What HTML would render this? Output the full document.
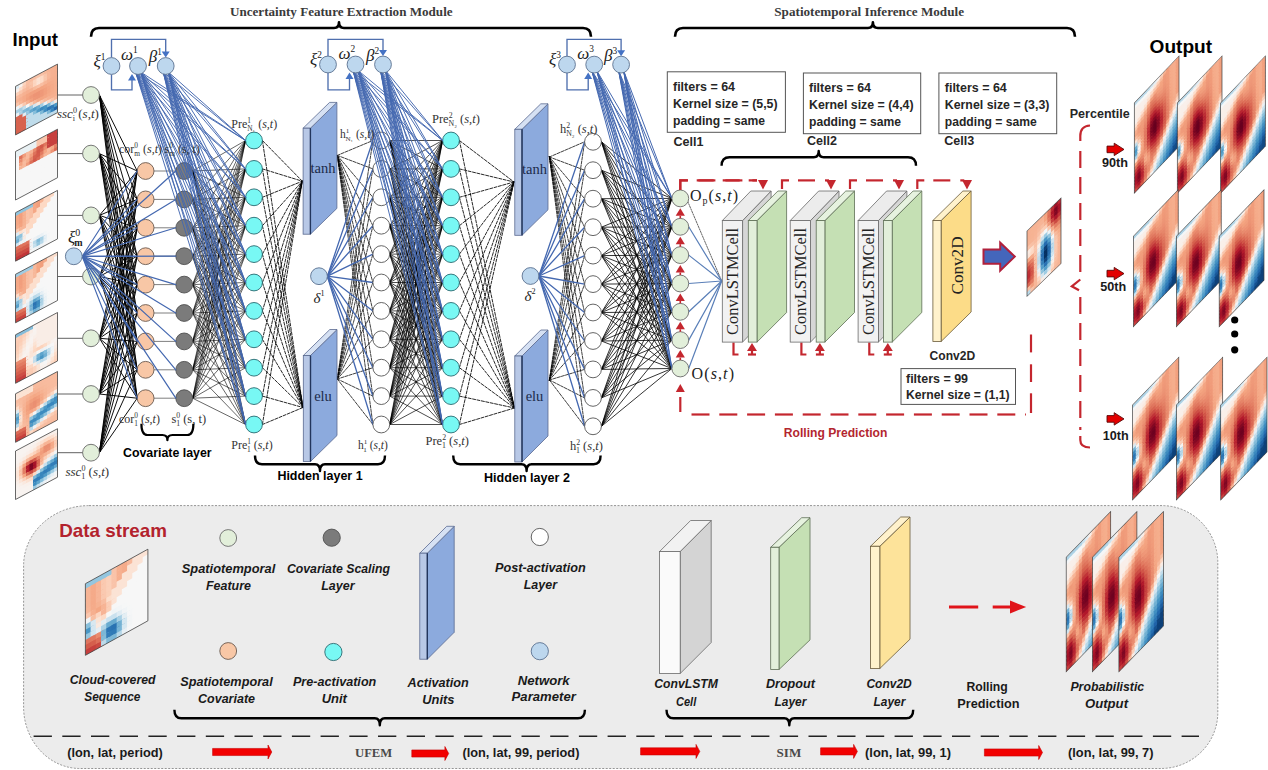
<!DOCTYPE html><html><head><meta charset="utf-8"><style>html,body{margin:0;padding:0;background:#fff;}svg{display:block;}</style></head><body>
<svg width="1268" height="770" viewBox="0 0 1268 770">
<defs>
<symbol id="hout" viewBox="0 0 14 28" preserveAspectRatio="none">
<rect x="0" y="0" width="1.6" height="1.6" fill="#bcdaea"/>
<rect x="1" y="0" width="1.6" height="1.6" fill="#bddbea"/>
<rect x="2" y="0" width="1.6" height="1.6" fill="#bbdaea"/>
<rect x="3" y="0" width="1.6" height="1.6" fill="#bbdaea"/>
<rect x="4" y="0" width="1.6" height="1.6" fill="#c3deec"/>
<rect x="5" y="0" width="1.6" height="1.6" fill="#d6e7f1"/>
<rect x="6" y="0" width="1.6" height="1.6" fill="#e5eef4"/>
<rect x="7" y="0" width="1.6" height="1.6" fill="#f8f2ef"/>
<rect x="8" y="0" width="1.6" height="1.6" fill="#fbd1ba"/>
<rect x="9" y="0" width="1.6" height="1.6" fill="#f6b191"/>
<rect x="10" y="0" width="1.6" height="1.6" fill="#f19e7c"/>
<rect x="11" y="0" width="1.6" height="1.6" fill="#f5ac8b"/>
<rect x="12" y="0" width="1.6" height="1.6" fill="#f6ae8e"/>
<rect x="13" y="0" width="1.6" height="1.6" fill="#f2a07e"/>
<rect x="0" y="1" width="1.6" height="1.6" fill="#f7f7f7"/>
<rect x="1" y="1" width="1.6" height="1.6" fill="#f7f7f7"/>
<rect x="2" y="1" width="1.6" height="1.6" fill="#f6f7f7"/>
<rect x="3" y="1" width="1.6" height="1.6" fill="#f6f7f7"/>
<rect x="4" y="1" width="1.6" height="1.6" fill="#f7f5f3"/>
<rect x="5" y="1" width="1.6" height="1.6" fill="#f8f1ed"/>
<rect x="6" y="1" width="1.6" height="1.6" fill="#fbe6da"/>
<rect x="7" y="1" width="1.6" height="1.6" fill="#fbd2bb"/>
<rect x="8" y="1" width="1.6" height="1.6" fill="#f7b99b"/>
<rect x="9" y="1" width="1.6" height="1.6" fill="#ef9a7a"/>
<rect x="10" y="1" width="1.6" height="1.6" fill="#f19d7c"/>
<rect x="11" y="1" width="1.6" height="1.6" fill="#f5ac8b"/>
<rect x="12" y="1" width="1.6" height="1.6" fill="#f6ae8e"/>
<rect x="13" y="1" width="1.6" height="1.6" fill="#f2a07e"/>
<rect x="0" y="2" width="1.6" height="1.6" fill="#f9f0ea"/>
<rect x="1" y="2" width="1.6" height="1.6" fill="#f9efea"/>
<rect x="2" y="2" width="1.6" height="1.6" fill="#f9f0eb"/>
<rect x="3" y="2" width="1.6" height="1.6" fill="#f9efe9"/>
<rect x="4" y="2" width="1.6" height="1.6" fill="#f9ece4"/>
<rect x="5" y="2" width="1.6" height="1.6" fill="#fcddcb"/>
<rect x="6" y="2" width="1.6" height="1.6" fill="#fac6ad"/>
<rect x="7" y="2" width="1.6" height="1.6" fill="#f7b99b"/>
<rect x="8" y="2" width="1.6" height="1.6" fill="#f4a582"/>
<rect x="9" y="2" width="1.6" height="1.6" fill="#ef9979"/>
<rect x="10" y="2" width="1.6" height="1.6" fill="#f09d7c"/>
<rect x="11" y="2" width="1.6" height="1.6" fill="#f5ac8b"/>
<rect x="12" y="2" width="1.6" height="1.6" fill="#f5ae8d"/>
<rect x="13" y="2" width="1.6" height="1.6" fill="#f2a07e"/>
<rect x="0" y="3" width="1.6" height="1.6" fill="#f9f0ea"/>
<rect x="1" y="3" width="1.6" height="1.6" fill="#f9efe9"/>
<rect x="2" y="3" width="1.6" height="1.6" fill="#f9efea"/>
<rect x="3" y="3" width="1.6" height="1.6" fill="#f9ede7"/>
<rect x="4" y="3" width="1.6" height="1.6" fill="#fcdecc"/>
<rect x="5" y="3" width="1.6" height="1.6" fill="#f8bea1"/>
<rect x="6" y="3" width="1.6" height="1.6" fill="#f5a987"/>
<rect x="7" y="3" width="1.6" height="1.6" fill="#f4a481"/>
<rect x="8" y="3" width="1.6" height="1.6" fill="#f3a27f"/>
<rect x="9" y="3" width="1.6" height="1.6" fill="#ee9778"/>
<rect x="10" y="3" width="1.6" height="1.6" fill="#f09c7b"/>
<rect x="11" y="3" width="1.6" height="1.6" fill="#f5ac8a"/>
<rect x="12" y="3" width="1.6" height="1.6" fill="#f5ae8d"/>
<rect x="13" y="3" width="1.6" height="1.6" fill="#f2a07e"/>
<rect x="0" y="4" width="1.6" height="1.6" fill="#f9f0ea"/>
<rect x="1" y="4" width="1.6" height="1.6" fill="#f9efe9"/>
<rect x="2" y="4" width="1.6" height="1.6" fill="#f9eee8"/>
<rect x="3" y="4" width="1.6" height="1.6" fill="#fce1d1"/>
<rect x="4" y="4" width="1.6" height="1.6" fill="#f9c0a5"/>
<rect x="5" y="4" width="1.6" height="1.6" fill="#f09b7a"/>
<rect x="6" y="4" width="1.6" height="1.6" fill="#ea8f71"/>
<rect x="7" y="4" width="1.6" height="1.6" fill="#f09d7c"/>
<rect x="8" y="4" width="1.6" height="1.6" fill="#f09d7c"/>
<rect x="9" y="4" width="1.6" height="1.6" fill="#ed9576"/>
<rect x="10" y="4" width="1.6" height="1.6" fill="#f09b7a"/>
<rect x="11" y="4" width="1.6" height="1.6" fill="#f5ab8a"/>
<rect x="12" y="4" width="1.6" height="1.6" fill="#f5ae8d"/>
<rect x="13" y="4" width="1.6" height="1.6" fill="#f2a07e"/>
<rect x="0" y="5" width="1.6" height="1.6" fill="#f9efea"/>
<rect x="1" y="5" width="1.6" height="1.6" fill="#f9eee8"/>
<rect x="2" y="5" width="1.6" height="1.6" fill="#fce1d2"/>
<rect x="3" y="5" width="1.6" height="1.6" fill="#fac8af"/>
<rect x="4" y="5" width="1.6" height="1.6" fill="#f2a17f"/>
<rect x="5" y="5" width="1.6" height="1.6" fill="#e37e64"/>
<rect x="6" y="5" width="1.6" height="1.6" fill="#e58368"/>
<rect x="7" y="5" width="1.6" height="1.6" fill="#ec9274"/>
<rect x="8" y="5" width="1.6" height="1.6" fill="#ed9576"/>
<rect x="9" y="5" width="1.6" height="1.6" fill="#eb9173"/>
<rect x="10" y="5" width="1.6" height="1.6" fill="#ef9979"/>
<rect x="11" y="5" width="1.6" height="1.6" fill="#f5ab89"/>
<rect x="12" y="5" width="1.6" height="1.6" fill="#f5ae8d"/>
<rect x="13" y="5" width="1.6" height="1.6" fill="#f2a07e"/>
<rect x="0" y="6" width="1.6" height="1.6" fill="#f9efea"/>
<rect x="1" y="6" width="1.6" height="1.6" fill="#fcdfce"/>
<rect x="2" y="6" width="1.6" height="1.6" fill="#fac8af"/>
<rect x="3" y="6" width="1.6" height="1.6" fill="#f6af8e"/>
<rect x="4" y="6" width="1.6" height="1.6" fill="#e7886b"/>
<rect x="5" y="6" width="1.6" height="1.6" fill="#dd7059"/>
<rect x="6" y="6" width="1.6" height="1.6" fill="#de735b"/>
<rect x="7" y="6" width="1.6" height="1.6" fill="#e68468"/>
<rect x="8" y="6" width="1.6" height="1.6" fill="#e98b6e"/>
<rect x="9" y="6" width="1.6" height="1.6" fill="#e98c6e"/>
<rect x="10" y="6" width="1.6" height="1.6" fill="#ee9777"/>
<rect x="11" y="6" width="1.6" height="1.6" fill="#f5aa88"/>
<rect x="12" y="6" width="1.6" height="1.6" fill="#f5ae8d"/>
<rect x="13" y="6" width="1.6" height="1.6" fill="#f2a07e"/>
<rect x="0" y="7" width="1.6" height="1.6" fill="#fce0d0"/>
<rect x="1" y="7" width="1.6" height="1.6" fill="#f9c4a9"/>
<rect x="2" y="7" width="1.6" height="1.6" fill="#f6af8f"/>
<rect x="3" y="7" width="1.6" height="1.6" fill="#f09b7b"/>
<rect x="4" y="7" width="1.6" height="1.6" fill="#e27c62"/>
<rect x="5" y="7" width="1.6" height="1.6" fill="#d55e4c"/>
<rect x="6" y="7" width="1.6" height="1.6" fill="#d55e4c"/>
<rect x="7" y="7" width="1.6" height="1.6" fill="#de715a"/>
<rect x="8" y="7" width="1.6" height="1.6" fill="#e37f65"/>
<rect x="9" y="7" width="1.6" height="1.6" fill="#e68569"/>
<rect x="10" y="7" width="1.6" height="1.6" fill="#ed9475"/>
<rect x="11" y="7" width="1.6" height="1.6" fill="#f5a987"/>
<rect x="12" y="7" width="1.6" height="1.6" fill="#f5ad8d"/>
<rect x="13" y="7" width="1.6" height="1.6" fill="#f2a07e"/>
<rect x="0" y="8" width="1.6" height="1.6" fill="#fac6ac"/>
<rect x="1" y="8" width="1.6" height="1.6" fill="#f5a886"/>
<rect x="2" y="8" width="1.6" height="1.6" fill="#f19f7d"/>
<rect x="3" y="8" width="1.6" height="1.6" fill="#ed9475"/>
<rect x="4" y="8" width="1.6" height="1.6" fill="#dc6e58"/>
<rect x="5" y="8" width="1.6" height="1.6" fill="#c94741"/>
<rect x="6" y="8" width="1.6" height="1.6" fill="#c7433f"/>
<rect x="7" y="8" width="1.6" height="1.6" fill="#d45b4b"/>
<rect x="8" y="8" width="1.6" height="1.6" fill="#dd7059"/>
<rect x="9" y="8" width="1.6" height="1.6" fill="#e37d63"/>
<rect x="10" y="8" width="1.6" height="1.6" fill="#eb9173"/>
<rect x="11" y="8" width="1.6" height="1.6" fill="#f5a886"/>
<rect x="12" y="8" width="1.6" height="1.6" fill="#f5ad8c"/>
<rect x="13" y="8" width="1.6" height="1.6" fill="#f2a07e"/>
<rect x="0" y="9" width="1.6" height="1.6" fill="#f6ae8e"/>
<rect x="1" y="9" width="1.6" height="1.6" fill="#ef9979"/>
<rect x="2" y="9" width="1.6" height="1.6" fill="#f09c7b"/>
<rect x="3" y="9" width="1.6" height="1.6" fill="#e98d6f"/>
<rect x="4" y="9" width="1.6" height="1.6" fill="#d55f4d"/>
<rect x="5" y="9" width="1.6" height="1.6" fill="#bc2d35"/>
<rect x="6" y="9" width="1.6" height="1.6" fill="#b82531"/>
<rect x="7" y="9" width="1.6" height="1.6" fill="#c6403e"/>
<rect x="8" y="9" width="1.6" height="1.6" fill="#d65f4d"/>
<rect x="9" y="9" width="1.6" height="1.6" fill="#df745c"/>
<rect x="10" y="9" width="1.6" height="1.6" fill="#ea8e70"/>
<rect x="11" y="9" width="1.6" height="1.6" fill="#f4a785"/>
<rect x="12" y="9" width="1.6" height="1.6" fill="#f5ad8c"/>
<rect x="13" y="9" width="1.6" height="1.6" fill="#f2a07e"/>
<rect x="0" y="10" width="1.6" height="1.6" fill="#f4a785"/>
<rect x="1" y="10" width="1.6" height="1.6" fill="#f09b7b"/>
<rect x="2" y="10" width="1.6" height="1.6" fill="#ef9a79"/>
<rect x="3" y="10" width="1.6" height="1.6" fill="#e68569"/>
<rect x="4" y="10" width="1.6" height="1.6" fill="#cd4e44"/>
<rect x="5" y="10" width="1.6" height="1.6" fill="#ad162a"/>
<rect x="6" y="10" width="1.6" height="1.6" fill="#9f1228"/>
<rect x="7" y="10" width="1.6" height="1.6" fill="#b92631"/>
<rect x="8" y="10" width="1.6" height="1.6" fill="#cc4d44"/>
<rect x="9" y="10" width="1.6" height="1.6" fill="#db6b56"/>
<rect x="10" y="10" width="1.6" height="1.6" fill="#e88a6d"/>
<rect x="11" y="10" width="1.6" height="1.6" fill="#f4a683"/>
<rect x="12" y="10" width="1.6" height="1.6" fill="#f5ad8c"/>
<rect x="13" y="10" width="1.6" height="1.6" fill="#f2a17f"/>
<rect x="0" y="11" width="1.6" height="1.6" fill="#f8bb9e"/>
<rect x="1" y="11" width="1.6" height="1.6" fill="#f3a481"/>
<rect x="2" y="11" width="1.6" height="1.6" fill="#ef9979"/>
<rect x="3" y="11" width="1.6" height="1.6" fill="#e37e64"/>
<rect x="4" y="11" width="1.6" height="1.6" fill="#c53f3d"/>
<rect x="5" y="11" width="1.6" height="1.6" fill="#940e26"/>
<rect x="6" y="11" width="1.6" height="1.6" fill="#820923"/>
<rect x="7" y="11" width="1.6" height="1.6" fill="#a71429"/>
<rect x="8" y="11" width="1.6" height="1.6" fill="#c43c3c"/>
<rect x="9" y="11" width="1.6" height="1.6" fill="#d86450"/>
<rect x="10" y="11" width="1.6" height="1.6" fill="#e7876b"/>
<rect x="11" y="11" width="1.6" height="1.6" fill="#f4a582"/>
<rect x="12" y="11" width="1.6" height="1.6" fill="#f5ac8b"/>
<rect x="13" y="11" width="1.6" height="1.6" fill="#f7b99b"/>
<rect x="0" y="12" width="1.6" height="1.6" fill="#fbe3d4"/>
<rect x="1" y="12" width="1.6" height="1.6" fill="#f7b596"/>
<rect x="2" y="12" width="1.6" height="1.6" fill="#ef9b7a"/>
<rect x="3" y="12" width="1.6" height="1.6" fill="#e17961"/>
<rect x="4" y="12" width="1.6" height="1.6" fill="#c03338"/>
<rect x="5" y="12" width="1.6" height="1.6" fill="#810823"/>
<rect x="6" y="12" width="1.6" height="1.6" fill="#6c0220"/>
<rect x="7" y="12" width="1.6" height="1.6" fill="#930e26"/>
<rect x="8" y="12" width="1.6" height="1.6" fill="#be3036"/>
<rect x="9" y="12" width="1.6" height="1.6" fill="#d55d4c"/>
<rect x="10" y="12" width="1.6" height="1.6" fill="#e68469"/>
<rect x="11" y="12" width="1.6" height="1.6" fill="#f4a481"/>
<rect x="12" y="12" width="1.6" height="1.6" fill="#f6b495"/>
<rect x="13" y="12" width="1.6" height="1.6" fill="#fbd0b9"/>
<rect x="0" y="13" width="1.6" height="1.6" fill="#bfdceb"/>
<rect x="1" y="13" width="1.6" height="1.6" fill="#fbcfb7"/>
<rect x="2" y="13" width="1.6" height="1.6" fill="#f19f7d"/>
<rect x="3" y="13" width="1.6" height="1.6" fill="#e0775f"/>
<rect x="4" y="13" width="1.6" height="1.6" fill="#bc2d35"/>
<rect x="5" y="13" width="1.6" height="1.6" fill="#760521"/>
<rect x="6" y="13" width="1.6" height="1.6" fill="#67001f"/>
<rect x="7" y="13" width="1.6" height="1.6" fill="#880b24"/>
<rect x="8" y="13" width="1.6" height="1.6" fill="#ba2933"/>
<rect x="9" y="13" width="1.6" height="1.6" fill="#d35a4a"/>
<rect x="10" y="13" width="1.6" height="1.6" fill="#e58368"/>
<rect x="11" y="13" width="1.6" height="1.6" fill="#f3a481"/>
<rect x="12" y="13" width="1.6" height="1.6" fill="#fac8af"/>
<rect x="13" y="13" width="1.6" height="1.6" fill="#fae8de"/>
<rect x="0" y="14" width="1.6" height="1.6" fill="#6fafd2"/>
<rect x="1" y="14" width="1.6" height="1.6" fill="#fae9e0"/>
<rect x="2" y="14" width="1.6" height="1.6" fill="#f3a481"/>
<rect x="3" y="14" width="1.6" height="1.6" fill="#e0775f"/>
<rect x="4" y="14" width="1.6" height="1.6" fill="#bc2d35"/>
<rect x="5" y="14" width="1.6" height="1.6" fill="#760521"/>
<rect x="6" y="14" width="1.6" height="1.6" fill="#67001f"/>
<rect x="7" y="14" width="1.6" height="1.6" fill="#880b24"/>
<rect x="8" y="14" width="1.6" height="1.6" fill="#ba2933"/>
<rect x="9" y="14" width="1.6" height="1.6" fill="#d35a4a"/>
<rect x="10" y="14" width="1.6" height="1.6" fill="#e58368"/>
<rect x="11" y="14" width="1.6" height="1.6" fill="#f6b495"/>
<rect x="12" y="14" width="1.6" height="1.6" fill="#fddcc9"/>
<rect x="13" y="14" width="1.6" height="1.6" fill="#ebf1f5"/>
<rect x="0" y="15" width="1.6" height="1.6" fill="#4c99c6"/>
<rect x="1" y="15" width="1.6" height="1.6" fill="#f7f7f6"/>
<rect x="2" y="15" width="1.6" height="1.6" fill="#f4a784"/>
<rect x="3" y="15" width="1.6" height="1.6" fill="#e17a61"/>
<rect x="4" y="15" width="1.6" height="1.6" fill="#bf3338"/>
<rect x="5" y="15" width="1.6" height="1.6" fill="#810823"/>
<rect x="6" y="15" width="1.6" height="1.6" fill="#6c0220"/>
<rect x="7" y="15" width="1.6" height="1.6" fill="#930e26"/>
<rect x="8" y="15" width="1.6" height="1.6" fill="#be3036"/>
<rect x="9" y="15" width="1.6" height="1.6" fill="#d55d4c"/>
<rect x="10" y="15" width="1.6" height="1.6" fill="#e6866a"/>
<rect x="11" y="15" width="1.6" height="1.6" fill="#facbb2"/>
<rect x="12" y="15" width="1.6" height="1.6" fill="#f8f1ed"/>
<rect x="13" y="15" width="1.6" height="1.6" fill="#cce3ef"/>
<rect x="0" y="16" width="1.6" height="1.6" fill="#61a6cd"/>
<rect x="1" y="16" width="1.6" height="1.6" fill="#f9ece5"/>
<rect x="2" y="16" width="1.6" height="1.6" fill="#f4a582"/>
<rect x="3" y="16" width="1.6" height="1.6" fill="#e37e64"/>
<rect x="4" y="16" width="1.6" height="1.6" fill="#c53e3d"/>
<rect x="5" y="16" width="1.6" height="1.6" fill="#930e26"/>
<rect x="6" y="16" width="1.6" height="1.6" fill="#820923"/>
<rect x="7" y="16" width="1.6" height="1.6" fill="#a71429"/>
<rect x="8" y="16" width="1.6" height="1.6" fill="#c43c3c"/>
<rect x="9" y="16" width="1.6" height="1.6" fill="#d86450"/>
<rect x="10" y="16" width="1.6" height="1.6" fill="#f4a785"/>
<rect x="11" y="16" width="1.6" height="1.6" fill="#fce1d2"/>
<rect x="12" y="16" width="1.6" height="1.6" fill="#e1edf3"/>
<rect x="13" y="16" width="1.6" height="1.6" fill="#abd2e5"/>
<rect x="0" y="17" width="1.6" height="1.6" fill="#add2e6"/>
<rect x="1" y="17" width="1.6" height="1.6" fill="#fbceb6"/>
<rect x="2" y="17" width="1.6" height="1.6" fill="#f19e7c"/>
<rect x="3" y="17" width="1.6" height="1.6" fill="#e68569"/>
<rect x="4" y="17" width="1.6" height="1.6" fill="#ce4f45"/>
<rect x="5" y="17" width="1.6" height="1.6" fill="#ad162a"/>
<rect x="6" y="17" width="1.6" height="1.6" fill="#9f1228"/>
<rect x="7" y="17" width="1.6" height="1.6" fill="#b92531"/>
<rect x="8" y="17" width="1.6" height="1.6" fill="#cc4d44"/>
<rect x="9" y="17" width="1.6" height="1.6" fill="#e17a61"/>
<rect x="10" y="17" width="1.6" height="1.6" fill="#fac7ad"/>
<rect x="11" y="17" width="1.6" height="1.6" fill="#f5f6f7"/>
<rect x="12" y="17" width="1.6" height="1.6" fill="#c1ddeb"/>
<rect x="13" y="17" width="1.6" height="1.6" fill="#8cc1dc"/>
<rect x="0" y="18" width="1.6" height="1.6" fill="#fce0d0"/>
<rect x="1" y="18" width="1.6" height="1.6" fill="#f4a683"/>
<rect x="2" y="18" width="1.6" height="1.6" fill="#ec9475"/>
<rect x="3" y="18" width="1.6" height="1.6" fill="#eb9072"/>
<rect x="4" y="18" width="1.6" height="1.6" fill="#d86551"/>
<rect x="5" y="18" width="1.6" height="1.6" fill="#bd2e35"/>
<rect x="6" y="18" width="1.6" height="1.6" fill="#b82431"/>
<rect x="7" y="18" width="1.6" height="1.6" fill="#c6403e"/>
<rect x="8" y="18" width="1.6" height="1.6" fill="#d65f4d"/>
<rect x="9" y="18" width="1.6" height="1.6" fill="#f4a683"/>
<rect x="10" y="18" width="1.6" height="1.6" fill="#fbe5d8"/>
<rect x="11" y="18" width="1.6" height="1.6" fill="#d7e8f1"/>
<rect x="12" y="18" width="1.6" height="1.6" fill="#a0cce2"/>
<rect x="13" y="18" width="1.6" height="1.6" fill="#73b1d3"/>
<rect x="0" y="19" width="1.6" height="1.6" fill="#f2a07e"/>
<rect x="1" y="19" width="1.6" height="1.6" fill="#e37d63"/>
<rect x="2" y="19" width="1.6" height="1.6" fill="#e7886c"/>
<rect x="3" y="19" width="1.6" height="1.6" fill="#f2a07e"/>
<rect x="4" y="19" width="1.6" height="1.6" fill="#e37e64"/>
<rect x="5" y="19" width="1.6" height="1.6" fill="#cb4942"/>
<rect x="6" y="19" width="1.6" height="1.6" fill="#c7423f"/>
<rect x="7" y="19" width="1.6" height="1.6" fill="#d45b4b"/>
<rect x="8" y="19" width="1.6" height="1.6" fill="#e88a6d"/>
<rect x="9" y="19" width="1.6" height="1.6" fill="#fbccb4"/>
<rect x="10" y="19" width="1.6" height="1.6" fill="#ebf1f5"/>
<rect x="11" y="19" width="1.6" height="1.6" fill="#b6d7e8"/>
<rect x="12" y="19" width="1.6" height="1.6" fill="#83bcd9"/>
<rect x="13" y="19" width="1.6" height="1.6" fill="#59a1cb"/>
<rect x="0" y="20" width="1.6" height="1.6" fill="#dc6e58"/>
<rect x="1" y="20" width="1.6" height="1.6" fill="#d15548"/>
<rect x="2" y="20" width="1.6" height="1.6" fill="#e07860"/>
<rect x="3" y="20" width="1.6" height="1.6" fill="#f5ac8c"/>
<rect x="4" y="20" width="1.6" height="1.6" fill="#ed9475"/>
<rect x="5" y="20" width="1.6" height="1.6" fill="#d7624f"/>
<rect x="6" y="20" width="1.6" height="1.6" fill="#d55e4c"/>
<rect x="7" y="20" width="1.6" height="1.6" fill="#de735c"/>
<rect x="8" y="20" width="1.6" height="1.6" fill="#f7b799"/>
<rect x="9" y="20" width="1.6" height="1.6" fill="#f9eee8"/>
<rect x="10" y="20" width="1.6" height="1.6" fill="#cce3ef"/>
<rect x="11" y="20" width="1.6" height="1.6" fill="#95c6df"/>
<rect x="12" y="20" width="1.6" height="1.6" fill="#6aacd0"/>
<rect x="13" y="20" width="1.6" height="1.6" fill="#4291c2"/>
<rect x="0" y="21" width="1.6" height="1.6" fill="#c84440"/>
<rect x="1" y="21" width="1.6" height="1.6" fill="#bc2c34"/>
<rect x="2" y="21" width="1.6" height="1.6" fill="#d7624f"/>
<rect x="3" y="21" width="1.6" height="1.6" fill="#f5ab89"/>
<rect x="4" y="21" width="1.6" height="1.6" fill="#f19f7e"/>
<rect x="5" y="21" width="1.6" height="1.6" fill="#de745c"/>
<rect x="6" y="21" width="1.6" height="1.6" fill="#de725b"/>
<rect x="7" y="21" width="1.6" height="1.6" fill="#f4a582"/>
<rect x="8" y="21" width="1.6" height="1.6" fill="#fddbc7"/>
<rect x="9" y="21" width="1.6" height="1.6" fill="#e1edf3"/>
<rect x="10" y="21" width="1.6" height="1.6" fill="#abd2e5"/>
<rect x="11" y="21" width="1.6" height="1.6" fill="#7bb6d6"/>
<rect x="12" y="21" width="1.6" height="1.6" fill="#519cc8"/>
<rect x="13" y="21" width="1.6" height="1.6" fill="#3783bb"/>
<rect x="0" y="22" width="1.6" height="1.6" fill="#b82330"/>
<rect x="1" y="22" width="1.6" height="1.6" fill="#a11228"/>
<rect x="2" y="22" width="1.6" height="1.6" fill="#c94540"/>
<rect x="3" y="22" width="1.6" height="1.6" fill="#ee9878"/>
<rect x="4" y="22" width="1.6" height="1.6" fill="#f09c7b"/>
<rect x="5" y="22" width="1.6" height="1.6" fill="#e37f65"/>
<rect x="6" y="22" width="1.6" height="1.6" fill="#ea8e71"/>
<rect x="7" y="22" width="1.6" height="1.6" fill="#facab2"/>
<rect x="8" y="22" width="1.6" height="1.6" fill="#f5f6f7"/>
<rect x="9" y="22" width="1.6" height="1.6" fill="#c1ddeb"/>
<rect x="10" y="22" width="1.6" height="1.6" fill="#8cc1dc"/>
<rect x="11" y="22" width="1.6" height="1.6" fill="#62a6ce"/>
<rect x="12" y="22" width="1.6" height="1.6" fill="#3e8dc0"/>
<rect x="13" y="22" width="1.6" height="1.6" fill="#2c75b4"/>
<rect x="0" y="23" width="1.6" height="1.6" fill="#a71429"/>
<rect x="1" y="23" width="1.6" height="1.6" fill="#860a24"/>
<rect x="2" y="23" width="1.6" height="1.6" fill="#bc2d35"/>
<rect x="3" y="23" width="1.6" height="1.6" fill="#e48066"/>
<rect x="4" y="23" width="1.6" height="1.6" fill="#ec9274"/>
<rect x="5" y="23" width="1.6" height="1.6" fill="#e7866a"/>
<rect x="6" y="23" width="1.6" height="1.6" fill="#f7b697"/>
<rect x="7" y="23" width="1.6" height="1.6" fill="#fae8dd"/>
<rect x="8" y="23" width="1.6" height="1.6" fill="#d7e8f1"/>
<rect x="9" y="23" width="1.6" height="1.6" fill="#a0cce2"/>
<rect x="10" y="23" width="1.6" height="1.6" fill="#73b1d3"/>
<rect x="11" y="23" width="1.6" height="1.6" fill="#4997c5"/>
<rect x="12" y="23" width="1.6" height="1.6" fill="#337eb8"/>
<rect x="13" y="23" width="1.6" height="1.6" fill="#2166ac"/>
<rect x="0" y="24" width="1.6" height="1.6" fill="#a01228"/>
<rect x="1" y="24" width="1.6" height="1.6" fill="#7e0723"/>
<rect x="2" y="24" width="1.6" height="1.6" fill="#b82430"/>
<rect x="3" y="24" width="1.6" height="1.6" fill="#de735c"/>
<rect x="4" y="24" width="1.6" height="1.6" fill="#e98c6f"/>
<rect x="5" y="24" width="1.6" height="1.6" fill="#f2a07e"/>
<rect x="6" y="24" width="1.6" height="1.6" fill="#fcd5bf"/>
<rect x="7" y="24" width="1.6" height="1.6" fill="#ebf1f5"/>
<rect x="8" y="24" width="1.6" height="1.6" fill="#b6d7e8"/>
<rect x="9" y="24" width="1.6" height="1.6" fill="#83bcd9"/>
<rect x="10" y="24" width="1.6" height="1.6" fill="#59a1cb"/>
<rect x="11" y="24" width="1.6" height="1.6" fill="#3b88bd"/>
<rect x="12" y="24" width="1.6" height="1.6" fill="#2970b1"/>
<rect x="13" y="24" width="1.6" height="1.6" fill="#185595"/>
<rect x="0" y="25" width="1.6" height="1.6" fill="#ac162a"/>
<rect x="1" y="25" width="1.6" height="1.6" fill="#8b0c25"/>
<rect x="2" y="25" width="1.6" height="1.6" fill="#bc2b34"/>
<rect x="3" y="25" width="1.6" height="1.6" fill="#de735b"/>
<rect x="4" y="25" width="1.6" height="1.6" fill="#ea8e70"/>
<rect x="5" y="25" width="1.6" height="1.6" fill="#f8c0a4"/>
<rect x="6" y="25" width="1.6" height="1.6" fill="#f8f0eb"/>
<rect x="7" y="25" width="1.6" height="1.6" fill="#cce3ef"/>
<rect x="8" y="25" width="1.6" height="1.6" fill="#95c6df"/>
<rect x="9" y="25" width="1.6" height="1.6" fill="#6aacd0"/>
<rect x="10" y="25" width="1.6" height="1.6" fill="#4291c2"/>
<rect x="11" y="25" width="1.6" height="1.6" fill="#307ab6"/>
<rect x="12" y="25" width="1.6" height="1.6" fill="#1e61a5"/>
<rect x="13" y="25" width="1.6" height="1.6" fill="#124a85"/>
<rect x="0" y="26" width="1.6" height="1.6" fill="#bb2a33"/>
<rect x="1" y="26" width="1.6" height="1.6" fill="#aa152a"/>
<rect x="2" y="26" width="1.6" height="1.6" fill="#c6413e"/>
<rect x="3" y="26" width="1.6" height="1.6" fill="#e27b62"/>
<rect x="4" y="26" width="1.6" height="1.6" fill="#f5ae8d"/>
<rect x="5" y="26" width="1.6" height="1.6" fill="#fdddca"/>
<rect x="6" y="26" width="1.6" height="1.6" fill="#e1edf3"/>
<rect x="7" y="26" width="1.6" height="1.6" fill="#abd2e5"/>
<rect x="8" y="26" width="1.6" height="1.6" fill="#7bb6d6"/>
<rect x="9" y="26" width="1.6" height="1.6" fill="#519cc8"/>
<rect x="10" y="26" width="1.6" height="1.6" fill="#3783bb"/>
<rect x="11" y="26" width="1.6" height="1.6" fill="#256baf"/>
<rect x="12" y="26" width="1.6" height="1.6" fill="#15508d"/>
<rect x="13" y="26" width="1.6" height="1.6" fill="#124a85"/>
<rect x="0" y="27" width="1.6" height="1.6" fill="#ca4842"/>
<rect x="1" y="27" width="1.6" height="1.6" fill="#c03438"/>
<rect x="2" y="27" width="1.6" height="1.6" fill="#d45d4b"/>
<rect x="3" y="27" width="1.6" height="1.6" fill="#ec9475"/>
<rect x="4" y="27" width="1.6" height="1.6" fill="#faccb3"/>
<rect x="5" y="27" width="1.6" height="1.6" fill="#f5f6f7"/>
<rect x="6" y="27" width="1.6" height="1.6" fill="#c1ddeb"/>
<rect x="7" y="27" width="1.6" height="1.6" fill="#8cc1dc"/>
<rect x="8" y="27" width="1.6" height="1.6" fill="#62a6ce"/>
<rect x="9" y="27" width="1.6" height="1.6" fill="#3e8dc0"/>
<rect x="10" y="27" width="1.6" height="1.6" fill="#2c75b4"/>
<rect x="11" y="27" width="1.6" height="1.6" fill="#1b5b9d"/>
<rect x="12" y="27" width="1.6" height="1.6" fill="#124a85"/>
<rect x="13" y="27" width="1.6" height="1.6" fill="#124a85"/>
</symbol>
<symbol id="hout2" viewBox="0 0 14 28" preserveAspectRatio="none">
<rect x="0" y="0" width="1.6" height="1.6" fill="#aed3e6"/>
<rect x="1" y="0" width="1.6" height="1.6" fill="#aed3e6"/>
<rect x="2" y="0" width="1.6" height="1.6" fill="#add2e6"/>
<rect x="3" y="0" width="1.6" height="1.6" fill="#add3e6"/>
<rect x="4" y="0" width="1.6" height="1.6" fill="#b5d7e8"/>
<rect x="5" y="0" width="1.6" height="1.6" fill="#cde3ef"/>
<rect x="6" y="0" width="1.6" height="1.6" fill="#dfecf3"/>
<rect x="7" y="0" width="1.6" height="1.6" fill="#f9eee8"/>
<rect x="8" y="0" width="1.6" height="1.6" fill="#fbcdb5"/>
<rect x="9" y="0" width="1.6" height="1.6" fill="#f6b090"/>
<rect x="10" y="0" width="1.6" height="1.6" fill="#f19e7c"/>
<rect x="11" y="0" width="1.6" height="1.6" fill="#f5ac8b"/>
<rect x="12" y="0" width="1.6" height="1.6" fill="#f6ae8e"/>
<rect x="13" y="0" width="1.6" height="1.6" fill="#f2a07e"/>
<rect x="0" y="1" width="1.6" height="1.6" fill="#f5f6f7"/>
<rect x="1" y="1" width="1.6" height="1.6" fill="#f5f6f7"/>
<rect x="2" y="1" width="1.6" height="1.6" fill="#f4f6f7"/>
<rect x="3" y="1" width="1.6" height="1.6" fill="#f5f6f7"/>
<rect x="4" y="1" width="1.6" height="1.6" fill="#f7f6f5"/>
<rect x="5" y="1" width="1.6" height="1.6" fill="#f8f2ee"/>
<rect x="6" y="1" width="1.6" height="1.6" fill="#fdddca"/>
<rect x="7" y="1" width="1.6" height="1.6" fill="#fbcdb5"/>
<rect x="8" y="1" width="1.6" height="1.6" fill="#f7b597"/>
<rect x="9" y="1" width="1.6" height="1.6" fill="#ef9b7a"/>
<rect x="10" y="1" width="1.6" height="1.6" fill="#f19d7c"/>
<rect x="11" y="1" width="1.6" height="1.6" fill="#f5ac8b"/>
<rect x="12" y="1" width="1.6" height="1.6" fill="#f6ae8e"/>
<rect x="13" y="1" width="1.6" height="1.6" fill="#f2a07e"/>
<rect x="0" y="2" width="1.6" height="1.6" fill="#f9f0ea"/>
<rect x="1" y="2" width="1.6" height="1.6" fill="#f9efea"/>
<rect x="2" y="2" width="1.6" height="1.6" fill="#f9efea"/>
<rect x="3" y="2" width="1.6" height="1.6" fill="#f9eee8"/>
<rect x="4" y="2" width="1.6" height="1.6" fill="#faeae1"/>
<rect x="5" y="2" width="1.6" height="1.6" fill="#fbcfb8"/>
<rect x="6" y="2" width="1.6" height="1.6" fill="#f8bda1"/>
<rect x="7" y="2" width="1.6" height="1.6" fill="#f6b394"/>
<rect x="8" y="2" width="1.6" height="1.6" fill="#f4a583"/>
<rect x="9" y="2" width="1.6" height="1.6" fill="#ef9a79"/>
<rect x="10" y="2" width="1.6" height="1.6" fill="#f19d7c"/>
<rect x="11" y="2" width="1.6" height="1.6" fill="#f5ac8b"/>
<rect x="12" y="2" width="1.6" height="1.6" fill="#f5ae8d"/>
<rect x="13" y="2" width="1.6" height="1.6" fill="#f2a07e"/>
<rect x="0" y="3" width="1.6" height="1.6" fill="#f9f0ea"/>
<rect x="1" y="3" width="1.6" height="1.6" fill="#f9efe9"/>
<rect x="2" y="3" width="1.6" height="1.6" fill="#f9efe9"/>
<rect x="3" y="3" width="1.6" height="1.6" fill="#fae9de"/>
<rect x="4" y="3" width="1.6" height="1.6" fill="#fbceb6"/>
<rect x="5" y="3" width="1.6" height="1.6" fill="#f6af8f"/>
<rect x="6" y="3" width="1.6" height="1.6" fill="#f29f7e"/>
<rect x="7" y="3" width="1.6" height="1.6" fill="#f4a582"/>
<rect x="8" y="3" width="1.6" height="1.6" fill="#f3a380"/>
<rect x="9" y="3" width="1.6" height="1.6" fill="#ef9878"/>
<rect x="10" y="3" width="1.6" height="1.6" fill="#f09d7c"/>
<rect x="11" y="3" width="1.6" height="1.6" fill="#f5ac8b"/>
<rect x="12" y="3" width="1.6" height="1.6" fill="#f5ae8d"/>
<rect x="13" y="3" width="1.6" height="1.6" fill="#f2a07e"/>
<rect x="0" y="4" width="1.6" height="1.6" fill="#f9efea"/>
<rect x="1" y="4" width="1.6" height="1.6" fill="#f9efe8"/>
<rect x="2" y="4" width="1.6" height="1.6" fill="#fbe6da"/>
<rect x="3" y="4" width="1.6" height="1.6" fill="#fbd0b9"/>
<rect x="4" y="4" width="1.6" height="1.6" fill="#f6b091"/>
<rect x="5" y="4" width="1.6" height="1.6" fill="#ea8d6f"/>
<rect x="6" y="4" width="1.6" height="1.6" fill="#eb8f71"/>
<rect x="7" y="4" width="1.6" height="1.6" fill="#f19f7d"/>
<rect x="8" y="4" width="1.6" height="1.6" fill="#f19f7d"/>
<rect x="9" y="4" width="1.6" height="1.6" fill="#ee9677"/>
<rect x="10" y="4" width="1.6" height="1.6" fill="#f09c7b"/>
<rect x="11" y="4" width="1.6" height="1.6" fill="#f5ac8a"/>
<rect x="12" y="4" width="1.6" height="1.6" fill="#f5ae8d"/>
<rect x="13" y="4" width="1.6" height="1.6" fill="#f2a07e"/>
<rect x="0" y="5" width="1.6" height="1.6" fill="#f9efea"/>
<rect x="1" y="5" width="1.6" height="1.6" fill="#fce1d1"/>
<rect x="2" y="5" width="1.6" height="1.6" fill="#fbcdb5"/>
<rect x="3" y="5" width="1.6" height="1.6" fill="#f7b89a"/>
<rect x="4" y="5" width="1.6" height="1.6" fill="#eb9172"/>
<rect x="5" y="5" width="1.6" height="1.6" fill="#e37e64"/>
<rect x="6" y="5" width="1.6" height="1.6" fill="#e68569"/>
<rect x="7" y="5" width="1.6" height="1.6" fill="#ee9677"/>
<rect x="8" y="5" width="1.6" height="1.6" fill="#ef9979"/>
<rect x="9" y="5" width="1.6" height="1.6" fill="#ec9475"/>
<rect x="10" y="5" width="1.6" height="1.6" fill="#f09b7a"/>
<rect x="11" y="5" width="1.6" height="1.6" fill="#f5ab8a"/>
<rect x="12" y="5" width="1.6" height="1.6" fill="#f5ae8d"/>
<rect x="13" y="5" width="1.6" height="1.6" fill="#f2a07e"/>
<rect x="0" y="6" width="1.6" height="1.6" fill="#fcdfcd"/>
<rect x="1" y="6" width="1.6" height="1.6" fill="#f9c5ab"/>
<rect x="2" y="6" width="1.6" height="1.6" fill="#f7b496"/>
<rect x="3" y="6" width="1.6" height="1.6" fill="#f29f7e"/>
<rect x="4" y="6" width="1.6" height="1.6" fill="#e7866a"/>
<rect x="5" y="6" width="1.6" height="1.6" fill="#dd715a"/>
<rect x="6" y="6" width="1.6" height="1.6" fill="#e0775f"/>
<rect x="7" y="6" width="1.6" height="1.6" fill="#e88b6e"/>
<rect x="8" y="6" width="1.6" height="1.6" fill="#ec9273"/>
<rect x="9" y="6" width="1.6" height="1.6" fill="#eb9072"/>
<rect x="10" y="6" width="1.6" height="1.6" fill="#ef9979"/>
<rect x="11" y="6" width="1.6" height="1.6" fill="#f5ab89"/>
<rect x="12" y="6" width="1.6" height="1.6" fill="#f5ae8d"/>
<rect x="13" y="6" width="1.6" height="1.6" fill="#f2a07e"/>
<rect x="0" y="7" width="1.6" height="1.6" fill="#f9c5aa"/>
<rect x="1" y="7" width="1.6" height="1.6" fill="#f5aa88"/>
<rect x="2" y="7" width="1.6" height="1.6" fill="#f2a07e"/>
<rect x="3" y="7" width="1.6" height="1.6" fill="#ef9979"/>
<rect x="4" y="7" width="1.6" height="1.6" fill="#e17a61"/>
<rect x="5" y="7" width="1.6" height="1.6" fill="#d6604d"/>
<rect x="6" y="7" width="1.6" height="1.6" fill="#d86551"/>
<rect x="7" y="7" width="1.6" height="1.6" fill="#e27c62"/>
<rect x="8" y="7" width="1.6" height="1.6" fill="#e8886c"/>
<rect x="9" y="7" width="1.6" height="1.6" fill="#e98b6e"/>
<rect x="10" y="7" width="1.6" height="1.6" fill="#ee9878"/>
<rect x="11" y="7" width="1.6" height="1.6" fill="#f5aa89"/>
<rect x="12" y="7" width="1.6" height="1.6" fill="#f5ae8d"/>
<rect x="13" y="7" width="1.6" height="1.6" fill="#f2a07e"/>
<rect x="0" y="8" width="1.6" height="1.6" fill="#f5ac8b"/>
<rect x="1" y="8" width="1.6" height="1.6" fill="#ef9979"/>
<rect x="2" y="8" width="1.6" height="1.6" fill="#f19d7c"/>
<rect x="3" y="8" width="1.6" height="1.6" fill="#ec9273"/>
<rect x="4" y="8" width="1.6" height="1.6" fill="#dc6d57"/>
<rect x="5" y="8" width="1.6" height="1.6" fill="#cb4b43"/>
<rect x="6" y="8" width="1.6" height="1.6" fill="#cd4e45"/>
<rect x="7" y="8" width="1.6" height="1.6" fill="#db6a55"/>
<rect x="8" y="8" width="1.6" height="1.6" fill="#e37d63"/>
<rect x="9" y="8" width="1.6" height="1.6" fill="#e6866a"/>
<rect x="10" y="8" width="1.6" height="1.6" fill="#ed9576"/>
<rect x="11" y="8" width="1.6" height="1.6" fill="#f5aa88"/>
<rect x="12" y="8" width="1.6" height="1.6" fill="#f5ad8d"/>
<rect x="13" y="8" width="1.6" height="1.6" fill="#f2a07e"/>
<rect x="0" y="9" width="1.6" height="1.6" fill="#f4a683"/>
<rect x="1" y="9" width="1.6" height="1.6" fill="#f09c7b"/>
<rect x="2" y="9" width="1.6" height="1.6" fill="#f09b7a"/>
<rect x="3" y="9" width="1.6" height="1.6" fill="#e8896d"/>
<rect x="4" y="9" width="1.6" height="1.6" fill="#d55d4c"/>
<rect x="5" y="9" width="1.6" height="1.6" fill="#bf3237"/>
<rect x="6" y="9" width="1.6" height="1.6" fill="#c03438"/>
<rect x="7" y="9" width="1.6" height="1.6" fill="#d15648"/>
<rect x="8" y="9" width="1.6" height="1.6" fill="#dd715a"/>
<rect x="9" y="9" width="1.6" height="1.6" fill="#e48065"/>
<rect x="10" y="9" width="1.6" height="1.6" fill="#ec9374"/>
<rect x="11" y="9" width="1.6" height="1.6" fill="#f5a987"/>
<rect x="12" y="9" width="1.6" height="1.6" fill="#f5ad8d"/>
<rect x="13" y="9" width="1.6" height="1.6" fill="#f4a683"/>
<rect x="0" y="10" width="1.6" height="1.6" fill="#f7b698"/>
<rect x="1" y="10" width="1.6" height="1.6" fill="#f3a381"/>
<rect x="2" y="10" width="1.6" height="1.6" fill="#ef9a79"/>
<rect x="3" y="10" width="1.6" height="1.6" fill="#e48166"/>
<rect x="4" y="10" width="1.6" height="1.6" fill="#cc4b43"/>
<rect x="5" y="10" width="1.6" height="1.6" fill="#b31a2c"/>
<rect x="6" y="10" width="1.6" height="1.6" fill="#b3192c"/>
<rect x="7" y="10" width="1.6" height="1.6" fill="#c6403e"/>
<rect x="8" y="10" width="1.6" height="1.6" fill="#d86450"/>
<rect x="9" y="10" width="1.6" height="1.6" fill="#e17960"/>
<rect x="10" y="10" width="1.6" height="1.6" fill="#eb9172"/>
<rect x="11" y="10" width="1.6" height="1.6" fill="#f5a886"/>
<rect x="12" y="10" width="1.6" height="1.6" fill="#f5ad8c"/>
<rect x="13" y="10" width="1.6" height="1.6" fill="#f8bda1"/>
<rect x="0" y="11" width="1.6" height="1.6" fill="#fcd7c2"/>
<rect x="1" y="11" width="1.6" height="1.6" fill="#f6b495"/>
<rect x="2" y="11" width="1.6" height="1.6" fill="#f09b7b"/>
<rect x="3" y="11" width="1.6" height="1.6" fill="#e17a61"/>
<rect x="4" y="11" width="1.6" height="1.6" fill="#c43b3c"/>
<rect x="5" y="11" width="1.6" height="1.6" fill="#9b1027"/>
<rect x="6" y="11" width="1.6" height="1.6" fill="#981027"/>
<rect x="7" y="11" width="1.6" height="1.6" fill="#bb2b34"/>
<rect x="8" y="11" width="1.6" height="1.6" fill="#d25749"/>
<rect x="9" y="11" width="1.6" height="1.6" fill="#de735c"/>
<rect x="10" y="11" width="1.6" height="1.6" fill="#ea8e71"/>
<rect x="11" y="11" width="1.6" height="1.6" fill="#f4a885"/>
<rect x="12" y="11" width="1.6" height="1.6" fill="#f7b89b"/>
<rect x="13" y="11" width="1.6" height="1.6" fill="#fcd5bf"/>
<rect x="0" y="12" width="1.6" height="1.6" fill="#d8e8f1"/>
<rect x="1" y="12" width="1.6" height="1.6" fill="#fbcfb8"/>
<rect x="2" y="12" width="1.6" height="1.6" fill="#f2a17f"/>
<rect x="3" y="12" width="1.6" height="1.6" fill="#df755d"/>
<rect x="4" y="12" width="1.6" height="1.6" fill="#bd2e35"/>
<rect x="5" y="12" width="1.6" height="1.6" fill="#860a24"/>
<rect x="6" y="12" width="1.6" height="1.6" fill="#820923"/>
<rect x="7" y="12" width="1.6" height="1.6" fill="#b31a2c"/>
<rect x="8" y="12" width="1.6" height="1.6" fill="#cc4c44"/>
<rect x="9" y="12" width="1.6" height="1.6" fill="#dc6f58"/>
<rect x="10" y="12" width="1.6" height="1.6" fill="#e98d6f"/>
<rect x="11" y="12" width="1.6" height="1.6" fill="#f4a785"/>
<rect x="12" y="12" width="1.6" height="1.6" fill="#fbccb4"/>
<rect x="13" y="12" width="1.6" height="1.6" fill="#f9ede6"/>
<rect x="0" y="13" width="1.6" height="1.6" fill="#78b4d5"/>
<rect x="1" y="13" width="1.6" height="1.6" fill="#f8f4f1"/>
<rect x="2" y="13" width="1.6" height="1.6" fill="#f5a987"/>
<rect x="3" y="13" width="1.6" height="1.6" fill="#de725b"/>
<rect x="4" y="13" width="1.6" height="1.6" fill="#b82531"/>
<rect x="5" y="13" width="1.6" height="1.6" fill="#780522"/>
<rect x="6" y="13" width="1.6" height="1.6" fill="#730421"/>
<rect x="7" y="13" width="1.6" height="1.6" fill="#a71529"/>
<rect x="8" y="13" width="1.6" height="1.6" fill="#c84540"/>
<rect x="9" y="13" width="1.6" height="1.6" fill="#db6b56"/>
<rect x="10" y="13" width="1.6" height="1.6" fill="#e98b6e"/>
<rect x="11" y="13" width="1.6" height="1.6" fill="#f8ba9d"/>
<rect x="12" y="13" width="1.6" height="1.6" fill="#fce1d1"/>
<rect x="13" y="13" width="1.6" height="1.6" fill="#e4eef4"/>
<rect x="0" y="14" width="1.6" height="1.6" fill="#3b88bd"/>
<rect x="1" y="14" width="1.6" height="1.6" fill="#cde3ef"/>
<rect x="2" y="14" width="1.6" height="1.6" fill="#f6b292"/>
<rect x="3" y="14" width="1.6" height="1.6" fill="#de715a"/>
<rect x="4" y="14" width="1.6" height="1.6" fill="#b7212f"/>
<rect x="5" y="14" width="1.6" height="1.6" fill="#730421"/>
<rect x="6" y="14" width="1.6" height="1.6" fill="#6d0220"/>
<rect x="7" y="14" width="1.6" height="1.6" fill="#a31329"/>
<rect x="8" y="14" width="1.6" height="1.6" fill="#c7423f"/>
<rect x="9" y="14" width="1.6" height="1.6" fill="#da6a55"/>
<rect x="10" y="14" width="1.6" height="1.6" fill="#ec9273"/>
<rect x="11" y="14" width="1.6" height="1.6" fill="#fbd0b9"/>
<rect x="12" y="14" width="1.6" height="1.6" fill="#f7f5f4"/>
<rect x="13" y="14" width="1.6" height="1.6" fill="#c4deec"/>
<rect x="0" y="15" width="1.6" height="1.6" fill="#2b74b3"/>
<rect x="1" y="15" width="1.6" height="1.6" fill="#b5d7e8"/>
<rect x="2" y="15" width="1.6" height="1.6" fill="#f7b698"/>
<rect x="3" y="15" width="1.6" height="1.6" fill="#de735c"/>
<rect x="4" y="15" width="1.6" height="1.6" fill="#b82431"/>
<rect x="5" y="15" width="1.6" height="1.6" fill="#770522"/>
<rect x="6" y="15" width="1.6" height="1.6" fill="#720321"/>
<rect x="7" y="15" width="1.6" height="1.6" fill="#a61429"/>
<rect x="8" y="15" width="1.6" height="1.6" fill="#c84440"/>
<rect x="9" y="15" width="1.6" height="1.6" fill="#db6b56"/>
<rect x="10" y="15" width="1.6" height="1.6" fill="#f6b090"/>
<rect x="11" y="15" width="1.6" height="1.6" fill="#fbe6da"/>
<rect x="12" y="15" width="1.6" height="1.6" fill="#dae9f2"/>
<rect x="13" y="15" width="1.6" height="1.6" fill="#a1cde2"/>
<rect x="0" y="16" width="1.6" height="1.6" fill="#347fb9"/>
<rect x="1" y="16" width="1.6" height="1.6" fill="#c5dfed"/>
<rect x="2" y="16" width="1.6" height="1.6" fill="#f6b394"/>
<rect x="3" y="16" width="1.6" height="1.6" fill="#e0765e"/>
<rect x="4" y="16" width="1.6" height="1.6" fill="#bc2d35"/>
<rect x="5" y="16" width="1.6" height="1.6" fill="#840924"/>
<rect x="6" y="16" width="1.6" height="1.6" fill="#7f0823"/>
<rect x="7" y="16" width="1.6" height="1.6" fill="#b2182b"/>
<rect x="8" y="16" width="1.6" height="1.6" fill="#cc4b43"/>
<rect x="9" y="16" width="1.6" height="1.6" fill="#e68468"/>
<rect x="10" y="16" width="1.6" height="1.6" fill="#fbcdb6"/>
<rect x="11" y="16" width="1.6" height="1.6" fill="#eff3f6"/>
<rect x="12" y="16" width="1.6" height="1.6" fill="#b8d9e9"/>
<rect x="13" y="16" width="1.6" height="1.6" fill="#84bcd9"/>
<rect x="0" y="17" width="1.6" height="1.6" fill="#65a9cf"/>
<rect x="1" y="17" width="1.6" height="1.6" fill="#f6f7f7"/>
<rect x="2" y="17" width="1.6" height="1.6" fill="#f5aa89"/>
<rect x="3" y="17" width="1.6" height="1.6" fill="#e27c63"/>
<rect x="4" y="17" width="1.6" height="1.6" fill="#c43b3c"/>
<rect x="5" y="17" width="1.6" height="1.6" fill="#981027"/>
<rect x="6" y="17" width="1.6" height="1.6" fill="#950f26"/>
<rect x="7" y="17" width="1.6" height="1.6" fill="#ba2833"/>
<rect x="8" y="17" width="1.6" height="1.6" fill="#d15648"/>
<rect x="9" y="17" width="1.6" height="1.6" fill="#f5ac8b"/>
<rect x="10" y="17" width="1.6" height="1.6" fill="#faebe2"/>
<rect x="11" y="17" width="1.6" height="1.6" fill="#d0e4f0"/>
<rect x="12" y="17" width="1.6" height="1.6" fill="#96c7df"/>
<rect x="13" y="17" width="1.6" height="1.6" fill="#6aabd0"/>
<rect x="0" y="18" width="1.6" height="1.6" fill="#d0e5f0"/>
<rect x="1" y="18" width="1.6" height="1.6" fill="#fac8af"/>
<rect x="2" y="18" width="1.6" height="1.6" fill="#f19d7c"/>
<rect x="3" y="18" width="1.6" height="1.6" fill="#e7876b"/>
<rect x="4" y="18" width="1.6" height="1.6" fill="#cf5146"/>
<rect x="5" y="18" width="1.6" height="1.6" fill="#b2182b"/>
<rect x="6" y="18" width="1.6" height="1.6" fill="#b0172b"/>
<rect x="7" y="18" width="1.6" height="1.6" fill="#c43d3c"/>
<rect x="8" y="18" width="1.6" height="1.6" fill="#e7886b"/>
<rect x="9" y="18" width="1.6" height="1.6" fill="#fbd1bb"/>
<rect x="10" y="18" width="1.6" height="1.6" fill="#e4eef4"/>
<rect x="11" y="18" width="1.6" height="1.6" fill="#add3e6"/>
<rect x="12" y="18" width="1.6" height="1.6" fill="#7bb6d6"/>
<rect x="13" y="18" width="1.6" height="1.6" fill="#509bc7"/>
<rect x="0" y="19" width="1.6" height="1.6" fill="#fac6ad"/>
<rect x="1" y="19" width="1.6" height="1.6" fill="#ee9777"/>
<rect x="2" y="19" width="1.6" height="1.6" fill="#ea8f71"/>
<rect x="3" y="19" width="1.6" height="1.6" fill="#ee9778"/>
<rect x="4" y="19" width="1.6" height="1.6" fill="#db6c56"/>
<rect x="5" y="19" width="1.6" height="1.6" fill="#bf3238"/>
<rect x="6" y="19" width="1.6" height="1.6" fill="#be3137"/>
<rect x="7" y="19" width="1.6" height="1.6" fill="#d65f4d"/>
<rect x="8" y="19" width="1.6" height="1.6" fill="#f7b698"/>
<rect x="9" y="19" width="1.6" height="1.6" fill="#f8f4f3"/>
<rect x="10" y="19" width="1.6" height="1.6" fill="#c4deec"/>
<rect x="11" y="19" width="1.6" height="1.6" fill="#8cc1dc"/>
<rect x="12" y="19" width="1.6" height="1.6" fill="#61a6cd"/>
<rect x="13" y="19" width="1.6" height="1.6" fill="#3d8bbf"/>
<rect x="0" y="20" width="1.6" height="1.6" fill="#e7886c"/>
<rect x="1" y="20" width="1.6" height="1.6" fill="#da6954"/>
<rect x="2" y="20" width="1.6" height="1.6" fill="#e37d64"/>
<rect x="3" y="20" width="1.6" height="1.6" fill="#f4a683"/>
<rect x="4" y="20" width="1.6" height="1.6" fill="#e68469"/>
<rect x="5" y="20" width="1.6" height="1.6" fill="#cc4d44"/>
<rect x="6" y="20" width="1.6" height="1.6" fill="#cc4b43"/>
<rect x="7" y="20" width="1.6" height="1.6" fill="#ef9979"/>
<rect x="8" y="20" width="1.6" height="1.6" fill="#fcddcb"/>
<rect x="9" y="20" width="1.6" height="1.6" fill="#dae9f2"/>
<rect x="10" y="20" width="1.6" height="1.6" fill="#a1cde2"/>
<rect x="11" y="20" width="1.6" height="1.6" fill="#72b1d3"/>
<rect x="12" y="20" width="1.6" height="1.6" fill="#4795c4"/>
<rect x="13" y="20" width="1.6" height="1.6" fill="#327db8"/>
<rect x="0" y="21" width="1.6" height="1.6" fill="#d25749"/>
<rect x="1" y="21" width="1.6" height="1.6" fill="#c33b3b"/>
<rect x="2" y="21" width="1.6" height="1.6" fill="#d96752"/>
<rect x="3" y="21" width="1.6" height="1.6" fill="#f4a583"/>
<rect x="4" y="21" width="1.6" height="1.6" fill="#ec9273"/>
<rect x="5" y="21" width="1.6" height="1.6" fill="#d7624f"/>
<rect x="6" y="21" width="1.6" height="1.6" fill="#e17a61"/>
<rect x="7" y="21" width="1.6" height="1.6" fill="#fac6ad"/>
<rect x="8" y="21" width="1.6" height="1.6" fill="#eff3f6"/>
<rect x="9" y="21" width="1.6" height="1.6" fill="#b8d9e9"/>
<rect x="10" y="21" width="1.6" height="1.6" fill="#84bcd9"/>
<rect x="11" y="21" width="1.6" height="1.6" fill="#58a0ca"/>
<rect x="12" y="21" width="1.6" height="1.6" fill="#3a86bd"/>
<rect x="13" y="21" width="1.6" height="1.6" fill="#276eb0"/>
<rect x="0" y="22" width="1.6" height="1.6" fill="#bd2e36"/>
<rect x="1" y="22" width="1.6" height="1.6" fill="#ab162a"/>
<rect x="2" y="22" width="1.6" height="1.6" fill="#ca4942"/>
<rect x="3" y="22" width="1.6" height="1.6" fill="#ec9475"/>
<rect x="4" y="22" width="1.6" height="1.6" fill="#eb9173"/>
<rect x="5" y="22" width="1.6" height="1.6" fill="#dd705a"/>
<rect x="6" y="22" width="1.6" height="1.6" fill="#f5ad8c"/>
<rect x="7" y="22" width="1.6" height="1.6" fill="#faeae1"/>
<rect x="8" y="22" width="1.6" height="1.6" fill="#d0e4f0"/>
<rect x="9" y="22" width="1.6" height="1.6" fill="#96c7df"/>
<rect x="10" y="22" width="1.6" height="1.6" fill="#6aabd0"/>
<rect x="11" y="22" width="1.6" height="1.6" fill="#4190c2"/>
<rect x="12" y="22" width="1.6" height="1.6" fill="#2e78b5"/>
<rect x="13" y="22" width="1.6" height="1.6" fill="#1d5ea0"/>
<rect x="0" y="23" width="1.6" height="1.6" fill="#ad162a"/>
<rect x="1" y="23" width="1.6" height="1.6" fill="#8b0c25"/>
<rect x="2" y="23" width="1.6" height="1.6" fill="#bd2e36"/>
<rect x="3" y="23" width="1.6" height="1.6" fill="#e37d63"/>
<rect x="4" y="23" width="1.6" height="1.6" fill="#e88a6d"/>
<rect x="5" y="23" width="1.6" height="1.6" fill="#ef9a79"/>
<rect x="6" y="23" width="1.6" height="1.6" fill="#fcd4be"/>
<rect x="7" y="23" width="1.6" height="1.6" fill="#e4eef4"/>
<rect x="8" y="23" width="1.6" height="1.6" fill="#add3e6"/>
<rect x="9" y="23" width="1.6" height="1.6" fill="#7bb6d6"/>
<rect x="10" y="23" width="1.6" height="1.6" fill="#509bc7"/>
<rect x="11" y="23" width="1.6" height="1.6" fill="#3681ba"/>
<rect x="12" y="23" width="1.6" height="1.6" fill="#2369ad"/>
<rect x="13" y="23" width="1.6" height="1.6" fill="#134c88"/>
<rect x="0" y="24" width="1.6" height="1.6" fill="#a01228"/>
<rect x="1" y="24" width="1.6" height="1.6" fill="#7d0723"/>
<rect x="2" y="24" width="1.6" height="1.6" fill="#b72230"/>
<rect x="3" y="24" width="1.6" height="1.6" fill="#dd6f59"/>
<rect x="4" y="24" width="1.6" height="1.6" fill="#ea8d70"/>
<rect x="5" y="24" width="1.6" height="1.6" fill="#f8bfa4"/>
<rect x="6" y="24" width="1.6" height="1.6" fill="#f7f5f3"/>
<rect x="7" y="24" width="1.6" height="1.6" fill="#c4deec"/>
<rect x="8" y="24" width="1.6" height="1.6" fill="#8cc1dc"/>
<rect x="9" y="24" width="1.6" height="1.6" fill="#61a6cd"/>
<rect x="10" y="24" width="1.6" height="1.6" fill="#3d8bbf"/>
<rect x="11" y="24" width="1.6" height="1.6" fill="#2b73b2"/>
<rect x="12" y="24" width="1.6" height="1.6" fill="#1a5898"/>
<rect x="13" y="24" width="1.6" height="1.6" fill="#0e4179"/>
<rect x="0" y="25" width="1.6" height="1.6" fill="#a71429"/>
<rect x="1" y="25" width="1.6" height="1.6" fill="#850a24"/>
<rect x="2" y="25" width="1.6" height="1.6" fill="#b92632"/>
<rect x="3" y="25" width="1.6" height="1.6" fill="#dc6e58"/>
<rect x="4" y="25" width="1.6" height="1.6" fill="#f5ad8d"/>
<rect x="5" y="25" width="1.6" height="1.6" fill="#fce0d0"/>
<rect x="6" y="25" width="1.6" height="1.6" fill="#dae9f2"/>
<rect x="7" y="25" width="1.6" height="1.6" fill="#a1cde2"/>
<rect x="8" y="25" width="1.6" height="1.6" fill="#72b1d3"/>
<rect x="9" y="25" width="1.6" height="1.6" fill="#4795c4"/>
<rect x="10" y="25" width="1.6" height="1.6" fill="#327db8"/>
<rect x="11" y="25" width="1.6" height="1.6" fill="#2063a8"/>
<rect x="12" y="25" width="1.6" height="1.6" fill="#10467f"/>
<rect x="13" y="25" width="1.6" height="1.6" fill="#0e4179"/>
<rect x="0" y="26" width="1.6" height="1.6" fill="#b72230"/>
<rect x="1" y="26" width="1.6" height="1.6" fill="#a01228"/>
<rect x="2" y="26" width="1.6" height="1.6" fill="#c2393b"/>
<rect x="3" y="26" width="1.6" height="1.6" fill="#e98b6e"/>
<rect x="4" y="26" width="1.6" height="1.6" fill="#fbcdb6"/>
<rect x="5" y="26" width="1.6" height="1.6" fill="#eff3f6"/>
<rect x="6" y="26" width="1.6" height="1.6" fill="#b8d9e9"/>
<rect x="7" y="26" width="1.6" height="1.6" fill="#84bcd9"/>
<rect x="8" y="26" width="1.6" height="1.6" fill="#58a0ca"/>
<rect x="9" y="26" width="1.6" height="1.6" fill="#3a86bd"/>
<rect x="10" y="26" width="1.6" height="1.6" fill="#276eb0"/>
<rect x="11" y="26" width="1.6" height="1.6" fill="#165290"/>
<rect x="12" y="26" width="1.6" height="1.6" fill="#0e4179"/>
<rect x="13" y="26" width="1.6" height="1.6" fill="#0e4179"/>
<rect x="0" y="27" width="1.6" height="1.6" fill="#c63f3d"/>
<rect x="1" y="27" width="1.6" height="1.6" fill="#bb2a33"/>
<rect x="2" y="27" width="1.6" height="1.6" fill="#d05447"/>
<rect x="3" y="27" width="1.6" height="1.6" fill="#f7b597"/>
<rect x="4" y="27" width="1.6" height="1.6" fill="#f9ebe3"/>
<rect x="5" y="27" width="1.6" height="1.6" fill="#d0e4f0"/>
<rect x="6" y="27" width="1.6" height="1.6" fill="#96c7df"/>
<rect x="7" y="27" width="1.6" height="1.6" fill="#6aabd0"/>
<rect x="8" y="27" width="1.6" height="1.6" fill="#4190c2"/>
<rect x="9" y="27" width="1.6" height="1.6" fill="#2e78b5"/>
<rect x="10" y="27" width="1.6" height="1.6" fill="#1d5ea0"/>
<rect x="11" y="27" width="1.6" height="1.6" fill="#0e4179"/>
<rect x="12" y="27" width="1.6" height="1.6" fill="#0e4179"/>
<rect x="13" y="27" width="1.6" height="1.6" fill="#0e4179"/>
</symbol>
<symbol id="hin0" viewBox="0 0 12 14" preserveAspectRatio="none">
<rect x="0" y="0" width="1.6" height="1.6" fill="#dceaf2"/>
<rect x="1" y="0" width="1.6" height="1.6" fill="#f8f3ef"/>
<rect x="2" y="0" width="1.6" height="1.6" fill="#fcd4be"/>
<rect x="3" y="0" width="1.6" height="1.6" fill="#f9c0a5"/>
<rect x="4" y="0" width="1.6" height="1.6" fill="#f8bb9e"/>
<rect x="5" y="0" width="1.6" height="1.6" fill="#f9c0a5"/>
<rect x="6" y="0" width="1.6" height="1.6" fill="#f9c5ab"/>
<rect x="7" y="0" width="1.6" height="1.6" fill="#f9c1a6"/>
<rect x="8" y="0" width="1.6" height="1.6" fill="#f7b99b"/>
<rect x="9" y="0" width="1.6" height="1.6" fill="#f6b394"/>
<rect x="10" y="0" width="1.6" height="1.6" fill="#f6b191"/>
<rect x="11" y="0" width="1.6" height="1.6" fill="#f6b090"/>
<rect x="0" y="1" width="1.6" height="1.6" fill="#f9efea"/>
<rect x="1" y="1" width="1.6" height="1.6" fill="#fcdecc"/>
<rect x="2" y="1" width="1.6" height="1.6" fill="#fac9b1"/>
<rect x="3" y="1" width="1.6" height="1.6" fill="#f8bea2"/>
<rect x="4" y="1" width="1.6" height="1.6" fill="#f9c4a9"/>
<rect x="5" y="1" width="1.6" height="1.6" fill="#fcd5c0"/>
<rect x="6" y="1" width="1.6" height="1.6" fill="#fce2d3"/>
<rect x="7" y="1" width="1.6" height="1.6" fill="#fdd9c4"/>
<rect x="8" y="1" width="1.6" height="1.6" fill="#f9c5aa"/>
<rect x="9" y="1" width="1.6" height="1.6" fill="#f7b698"/>
<rect x="10" y="1" width="1.6" height="1.6" fill="#f6b192"/>
<rect x="11" y="1" width="1.6" height="1.6" fill="#f6b090"/>
<rect x="0" y="2" width="1.6" height="1.6" fill="#fbcfb7"/>
<rect x="1" y="2" width="1.6" height="1.6" fill="#fac6ac"/>
<rect x="2" y="2" width="1.6" height="1.6" fill="#f8bc9f"/>
<rect x="3" y="2" width="1.6" height="1.6" fill="#f7b89a"/>
<rect x="4" y="2" width="1.6" height="1.6" fill="#f9c1a6"/>
<rect x="5" y="2" width="1.6" height="1.6" fill="#fcd5c0"/>
<rect x="6" y="2" width="1.6" height="1.6" fill="#fbe3d5"/>
<rect x="7" y="2" width="1.6" height="1.6" fill="#fddac6"/>
<rect x="8" y="2" width="1.6" height="1.6" fill="#f9c5aa"/>
<rect x="9" y="2" width="1.6" height="1.6" fill="#f7b698"/>
<rect x="10" y="2" width="1.6" height="1.6" fill="#f6b191"/>
<rect x="11" y="2" width="1.6" height="1.6" fill="#f6b090"/>
<rect x="0" y="3" width="1.6" height="1.6" fill="#f8ba9d"/>
<rect x="1" y="3" width="1.6" height="1.6" fill="#f7b698"/>
<rect x="2" y="3" width="1.6" height="1.6" fill="#f6b191"/>
<rect x="3" y="3" width="1.6" height="1.6" fill="#f6ae8e"/>
<rect x="4" y="3" width="1.6" height="1.6" fill="#f6b191"/>
<rect x="5" y="3" width="1.6" height="1.6" fill="#f7ba9c"/>
<rect x="6" y="3" width="1.6" height="1.6" fill="#f9c0a5"/>
<rect x="7" y="3" width="1.6" height="1.6" fill="#f8bda1"/>
<rect x="8" y="3" width="1.6" height="1.6" fill="#f7b596"/>
<rect x="9" y="3" width="1.6" height="1.6" fill="#f6b090"/>
<rect x="10" y="3" width="1.6" height="1.6" fill="#f6af8f"/>
<rect x="11" y="3" width="1.6" height="1.6" fill="#f6af8f"/>
<rect x="0" y="4" width="1.6" height="1.6" fill="#f6b394"/>
<rect x="1" y="4" width="1.6" height="1.6" fill="#f6af8f"/>
<rect x="2" y="4" width="1.6" height="1.6" fill="#f5aa89"/>
<rect x="3" y="4" width="1.6" height="1.6" fill="#f4a582"/>
<rect x="4" y="4" width="1.6" height="1.6" fill="#f2a17f"/>
<rect x="5" y="4" width="1.6" height="1.6" fill="#f2a07e"/>
<rect x="6" y="4" width="1.6" height="1.6" fill="#f2a17f"/>
<rect x="7" y="4" width="1.6" height="1.6" fill="#f3a481"/>
<rect x="8" y="4" width="1.6" height="1.6" fill="#f4a684"/>
<rect x="9" y="4" width="1.6" height="1.6" fill="#f5aa88"/>
<rect x="10" y="4" width="1.6" height="1.6" fill="#f5ad8c"/>
<rect x="11" y="4" width="1.6" height="1.6" fill="#f6af8e"/>
<rect x="0" y="5" width="1.6" height="1.6" fill="#f9c3a8"/>
<rect x="1" y="5" width="1.6" height="1.6" fill="#f7b596"/>
<rect x="2" y="5" width="1.6" height="1.6" fill="#f5aa88"/>
<rect x="3" y="5" width="1.6" height="1.6" fill="#f2a17f"/>
<rect x="4" y="5" width="1.6" height="1.6" fill="#ef9979"/>
<rect x="5" y="5" width="1.6" height="1.6" fill="#ed9475"/>
<rect x="6" y="5" width="1.6" height="1.6" fill="#ed9475"/>
<rect x="7" y="5" width="1.6" height="1.6" fill="#ef9979"/>
<rect x="8" y="5" width="1.6" height="1.6" fill="#f2a07e"/>
<rect x="9" y="5" width="1.6" height="1.6" fill="#f4a684"/>
<rect x="10" y="5" width="1.6" height="1.6" fill="#f5ab8a"/>
<rect x="11" y="5" width="1.6" height="1.6" fill="#f5ae8d"/>
<rect x="0" y="6" width="1.6" height="1.6" fill="#eaf1f5"/>
<rect x="1" y="6" width="1.6" height="1.6" fill="#fbe3d6"/>
<rect x="2" y="6" width="1.6" height="1.6" fill="#fac7ad"/>
<rect x="3" y="6" width="1.6" height="1.6" fill="#f6b090"/>
<rect x="4" y="6" width="1.6" height="1.6" fill="#f2a07e"/>
<rect x="5" y="6" width="1.6" height="1.6" fill="#ee9777"/>
<rect x="6" y="6" width="1.6" height="1.6" fill="#ed9676"/>
<rect x="7" y="6" width="1.6" height="1.6" fill="#ef9979"/>
<rect x="8" y="6" width="1.6" height="1.6" fill="#f2a07e"/>
<rect x="9" y="6" width="1.6" height="1.6" fill="#f4a784"/>
<rect x="10" y="6" width="1.6" height="1.6" fill="#f5ab8a"/>
<rect x="11" y="6" width="1.6" height="1.6" fill="#f6ae8e"/>
<rect x="0" y="7" width="1.6" height="1.6" fill="#a5cee3"/>
<rect x="1" y="7" width="1.6" height="1.6" fill="#a2cde3"/>
<rect x="2" y="7" width="1.6" height="1.6" fill="#c4dfec"/>
<rect x="3" y="7" width="1.6" height="1.6" fill="#f7f6f5"/>
<rect x="4" y="7" width="1.6" height="1.6" fill="#fbd0b9"/>
<rect x="5" y="7" width="1.6" height="1.6" fill="#f7b596"/>
<rect x="6" y="7" width="1.6" height="1.6" fill="#f4a785"/>
<rect x="7" y="7" width="1.6" height="1.6" fill="#f4a481"/>
<rect x="8" y="7" width="1.6" height="1.6" fill="#f4a684"/>
<rect x="9" y="7" width="1.6" height="1.6" fill="#f5aa88"/>
<rect x="10" y="7" width="1.6" height="1.6" fill="#f5ad8c"/>
<rect x="11" y="7" width="1.6" height="1.6" fill="#f6af8e"/>
<rect x="0" y="8" width="1.6" height="1.6" fill="#e9f1f5"/>
<rect x="1" y="8" width="1.6" height="1.6" fill="#acd2e5"/>
<rect x="2" y="8" width="1.6" height="1.6" fill="#81bad8"/>
<rect x="3" y="8" width="1.6" height="1.6" fill="#79b5d6"/>
<rect x="4" y="8" width="1.6" height="1.6" fill="#95c6df"/>
<rect x="5" y="8" width="1.6" height="1.6" fill="#d4e6f1"/>
<rect x="6" y="8" width="1.6" height="1.6" fill="#fbe6da"/>
<rect x="7" y="8" width="1.6" height="1.6" fill="#fac8ae"/>
<rect x="8" y="8" width="1.6" height="1.6" fill="#f7b89a"/>
<rect x="9" y="8" width="1.6" height="1.6" fill="#f6b192"/>
<rect x="10" y="8" width="1.6" height="1.6" fill="#f6b090"/>
<rect x="11" y="8" width="1.6" height="1.6" fill="#f6b090"/>
<rect x="0" y="9" width="1.6" height="1.6" fill="#d7634f"/>
<rect x="1" y="9" width="1.6" height="1.6" fill="#d7634f"/>
<rect x="2" y="9" width="1.6" height="1.6" fill="#dfecf3"/>
<rect x="3" y="9" width="1.6" height="1.6" fill="#94c6df"/>
<rect x="4" y="9" width="1.6" height="1.6" fill="#64a8ce"/>
<rect x="5" y="9" width="1.6" height="1.6" fill="#549ec9"/>
<rect x="6" y="9" width="1.6" height="1.6" fill="#6cadd1"/>
<rect x="7" y="9" width="1.6" height="1.6" fill="#a3cee3"/>
<rect x="8" y="9" width="1.6" height="1.6" fill="#ebf1f5"/>
<rect x="9" y="9" width="1.6" height="1.6" fill="#fdd8c4"/>
<rect x="10" y="9" width="1.6" height="1.6" fill="#f9c1a6"/>
<rect x="11" y="9" width="1.6" height="1.6" fill="#f7b698"/>
<rect x="0" y="10" width="1.6" height="1.6" fill="#d7634f"/>
<rect x="1" y="10" width="1.6" height="1.6" fill="#d7634f"/>
<rect x="2" y="10" width="1.6" height="1.6" fill="#d7634f"/>
<rect x="3" y="10" width="1.6" height="1.6" fill="#bfdceb"/>
<rect x="4" y="10" width="1.6" height="1.6" fill="#bfdceb"/>
<rect x="5" y="10" width="1.6" height="1.6" fill="#87beda"/>
<rect x="6" y="10" width="1.6" height="1.6" fill="#4c99c6"/>
<rect x="7" y="10" width="1.6" height="1.6" fill="#3b88be"/>
<rect x="8" y="10" width="1.6" height="1.6" fill="#4393c3"/>
<rect x="9" y="10" width="1.6" height="1.6" fill="#78b5d5"/>
<rect x="10" y="10" width="1.6" height="1.6" fill="#c7e0ed"/>
<rect x="11" y="10" width="1.6" height="1.6" fill="#fae8de"/>
<rect x="0" y="11" width="1.6" height="1.6" fill="#d7634f"/>
<rect x="1" y="11" width="1.6" height="1.6" fill="#d7634f"/>
<rect x="2" y="11" width="1.6" height="1.6" fill="#d7634f"/>
<rect x="3" y="11" width="1.6" height="1.6" fill="#bfdceb"/>
<rect x="4" y="11" width="1.6" height="1.6" fill="#bfdceb"/>
<rect x="5" y="11" width="1.6" height="1.6" fill="#bfdceb"/>
<rect x="6" y="11" width="1.6" height="1.6" fill="#bfdceb"/>
<rect x="7" y="11" width="1.6" height="1.6" fill="#7eb9d7"/>
<rect x="8" y="11" width="1.6" height="1.6" fill="#3e8cc0"/>
<rect x="9" y="11" width="1.6" height="1.6" fill="#2d75b4"/>
<rect x="10" y="11" width="1.6" height="1.6" fill="#317bb7"/>
<rect x="11" y="11" width="1.6" height="1.6" fill="#4e9ac7"/>
<rect x="0" y="12" width="1.6" height="1.6" fill="#d7634f"/>
<rect x="1" y="12" width="1.6" height="1.6" fill="#d7634f"/>
<rect x="2" y="12" width="1.6" height="1.6" fill="#d7634f"/>
<rect x="3" y="12" width="1.6" height="1.6" fill="#bfdceb"/>
<rect x="4" y="12" width="1.6" height="1.6" fill="#bfdceb"/>
<rect x="5" y="12" width="1.6" height="1.6" fill="#bfdceb"/>
<rect x="6" y="12" width="1.6" height="1.6" fill="#bfdceb"/>
<rect x="7" y="12" width="1.6" height="1.6" fill="#bfdceb"/>
<rect x="8" y="12" width="1.6" height="1.6" fill="#bfdceb"/>
<rect x="9" y="12" width="1.6" height="1.6" fill="#7bb6d6"/>
<rect x="10" y="12" width="1.6" height="1.6" fill="#3884bb"/>
<rect x="11" y="12" width="1.6" height="1.6" fill="#2064a9"/>
<rect x="0" y="13" width="1.6" height="1.6" fill="#d7634f"/>
<rect x="1" y="13" width="1.6" height="1.6" fill="#d7634f"/>
<rect x="2" y="13" width="1.6" height="1.6" fill="#d7634f"/>
<rect x="3" y="13" width="1.6" height="1.6" fill="#bfdceb"/>
<rect x="4" y="13" width="1.6" height="1.6" fill="#bfdceb"/>
<rect x="5" y="13" width="1.6" height="1.6" fill="#bfdceb"/>
<rect x="6" y="13" width="1.6" height="1.6" fill="#bfdceb"/>
<rect x="7" y="13" width="1.6" height="1.6" fill="#bfdceb"/>
<rect x="8" y="13" width="1.6" height="1.6" fill="#bfdceb"/>
<rect x="9" y="13" width="1.6" height="1.6" fill="#bfdceb"/>
<rect x="10" y="13" width="1.6" height="1.6" fill="#bfdceb"/>
<rect x="11" y="13" width="1.6" height="1.6" fill="#bfdceb"/>
</symbol>
<symbol id="hin1" viewBox="0 0 12 14" preserveAspectRatio="none">
<rect x="0" y="0" width="1.6" height="1.6" fill="#e9f1f4"/>
<rect x="1" y="0" width="1.6" height="1.6" fill="#e9f1f4"/>
<rect x="2" y="0" width="1.6" height="1.6" fill="#e9f1f4"/>
<rect x="3" y="0" width="1.6" height="1.6" fill="#e9f1f4"/>
<rect x="4" y="0" width="1.6" height="1.6" fill="#e9f1f4"/>
<rect x="5" y="0" width="1.6" height="1.6" fill="#e9f1f4"/>
<rect x="6" y="0" width="1.6" height="1.6" fill="#f9c5ab"/>
<rect x="7" y="0" width="1.6" height="1.6" fill="#f9c5ab"/>
<rect x="8" y="0" width="1.6" height="1.6" fill="#f9c5ab"/>
<rect x="9" y="0" width="1.6" height="1.6" fill="#c7413f"/>
<rect x="10" y="0" width="1.6" height="1.6" fill="#c7413f"/>
<rect x="11" y="0" width="1.6" height="1.6" fill="#c7413f"/>
<rect x="0" y="1" width="1.6" height="1.6" fill="#e9f1f4"/>
<rect x="1" y="1" width="1.6" height="1.6" fill="#e9f1f4"/>
<rect x="2" y="1" width="1.6" height="1.6" fill="#e9f1f4"/>
<rect x="3" y="1" width="1.6" height="1.6" fill="#e9f1f4"/>
<rect x="4" y="1" width="1.6" height="1.6" fill="#e9f1f4"/>
<rect x="5" y="1" width="1.6" height="1.6" fill="#e9f1f4"/>
<rect x="6" y="1" width="1.6" height="1.6" fill="#f9c5ab"/>
<rect x="7" y="1" width="1.6" height="1.6" fill="#f9c5ab"/>
<rect x="8" y="1" width="1.6" height="1.6" fill="#f9c5ab"/>
<rect x="9" y="1" width="1.6" height="1.6" fill="#c7413f"/>
<rect x="10" y="1" width="1.6" height="1.6" fill="#c7413f"/>
<rect x="11" y="1" width="1.6" height="1.6" fill="#c7413f"/>
<rect x="0" y="2" width="1.6" height="1.6" fill="#f7f7f7"/>
<rect x="1" y="2" width="1.6" height="1.6" fill="#de725b"/>
<rect x="2" y="2" width="1.6" height="1.6" fill="#f19e7d"/>
<rect x="3" y="2" width="1.6" height="1.6" fill="#f8ba9d"/>
<rect x="4" y="2" width="1.6" height="1.6" fill="#f6b192"/>
<rect x="5" y="2" width="1.6" height="1.6" fill="#e88a6d"/>
<rect x="6" y="2" width="1.6" height="1.6" fill="#d7634f"/>
<rect x="7" y="2" width="1.6" height="1.6" fill="#d35a4a"/>
<rect x="8" y="2" width="1.6" height="1.6" fill="#e0785f"/>
<rect x="9" y="2" width="1.6" height="1.6" fill="#c7413f"/>
<rect x="10" y="2" width="1.6" height="1.6" fill="#c7413f"/>
<rect x="11" y="2" width="1.6" height="1.6" fill="#c7413f"/>
<rect x="0" y="3" width="1.6" height="1.6" fill="#f7f7f7"/>
<rect x="1" y="3" width="1.6" height="1.6" fill="#e88a6d"/>
<rect x="2" y="3" width="1.6" height="1.6" fill="#f6b192"/>
<rect x="3" y="3" width="1.6" height="1.6" fill="#f8ba9d"/>
<rect x="4" y="3" width="1.6" height="1.6" fill="#f19e7d"/>
<rect x="5" y="3" width="1.6" height="1.6" fill="#de725b"/>
<rect x="6" y="3" width="1.6" height="1.6" fill="#d25849"/>
<rect x="7" y="3" width="1.6" height="1.6" fill="#d96752"/>
<rect x="8" y="3" width="1.6" height="1.6" fill="#eb9072"/>
<rect x="9" y="3" width="1.6" height="1.6" fill="#c7413f"/>
<rect x="10" y="3" width="1.6" height="1.6" fill="#c7413f"/>
<rect x="11" y="3" width="1.6" height="1.6" fill="#c7413f"/>
<rect x="0" y="4" width="1.6" height="1.6" fill="#f7f7f7"/>
<rect x="1" y="4" width="1.6" height="1.6" fill="#f3a27f"/>
<rect x="2" y="4" width="1.6" height="1.6" fill="#f8bb9e"/>
<rect x="3" y="4" width="1.6" height="1.6" fill="#f6af8e"/>
<rect x="4" y="4" width="1.6" height="1.6" fill="#e6866a"/>
<rect x="5" y="4" width="1.6" height="1.6" fill="#d6604d"/>
<rect x="6" y="4" width="1.6" height="1.6" fill="#d45b4b"/>
<rect x="7" y="4" width="1.6" height="1.6" fill="#e27c62"/>
<rect x="8" y="4" width="1.6" height="1.6" fill="#f4a785"/>
<rect x="9" y="4" width="1.6" height="1.6" fill="#f8bc9f"/>
<rect x="10" y="4" width="1.6" height="1.6" fill="#f5aa88"/>
<rect x="11" y="4" width="1.6" height="1.6" fill="#e47f65"/>
<rect x="0" y="5" width="1.6" height="1.6" fill="#f7f7f7"/>
<rect x="1" y="5" width="1.6" height="1.6" fill="#f6b495"/>
<rect x="2" y="5" width="1.6" height="1.6" fill="#f7b99c"/>
<rect x="3" y="5" width="1.6" height="1.6" fill="#ef9a7a"/>
<rect x="4" y="5" width="1.6" height="1.6" fill="#dc6f58"/>
<rect x="5" y="5" width="1.6" height="1.6" fill="#d25849"/>
<rect x="6" y="5" width="1.6" height="1.6" fill="#da6a55"/>
<rect x="7" y="5" width="1.6" height="1.6" fill="#ed9475"/>
<rect x="8" y="5" width="1.6" height="1.6" fill="#f7b799"/>
<rect x="9" y="5" width="1.6" height="1.6" fill="#f7b798"/>
<rect x="10" y="5" width="1.6" height="1.6" fill="#ed9475"/>
<rect x="11" y="5" width="1.6" height="1.6" fill="#da6a54"/>
<rect x="0" y="6" width="1.6" height="1.6" fill="#f7f7f7"/>
<rect x="1" y="6" width="1.6" height="1.6" fill="#f7f7f7"/>
<rect x="2" y="6" width="1.6" height="1.6" fill="#f7f7f7"/>
<rect x="3" y="6" width="1.6" height="1.6" fill="#f7f7f7"/>
<rect x="4" y="6" width="1.6" height="1.6" fill="#f7f7f7"/>
<rect x="5" y="6" width="1.6" height="1.6" fill="#f7f7f7"/>
<rect x="6" y="6" width="1.6" height="1.6" fill="#f7f7f7"/>
<rect x="7" y="6" width="1.6" height="1.6" fill="#f7f7f7"/>
<rect x="8" y="6" width="1.6" height="1.6" fill="#f7f7f7"/>
<rect x="9" y="6" width="1.6" height="1.6" fill="#f7f7f7"/>
<rect x="10" y="6" width="1.6" height="1.6" fill="#f7f7f7"/>
<rect x="11" y="6" width="1.6" height="1.6" fill="#f7f7f7"/>
<rect x="0" y="7" width="1.6" height="1.6" fill="#f7f7f7"/>
<rect x="1" y="7" width="1.6" height="1.6" fill="#f7f7f7"/>
<rect x="2" y="7" width="1.6" height="1.6" fill="#f7f7f7"/>
<rect x="3" y="7" width="1.6" height="1.6" fill="#f7f7f7"/>
<rect x="4" y="7" width="1.6" height="1.6" fill="#f7f7f7"/>
<rect x="5" y="7" width="1.6" height="1.6" fill="#f7f7f7"/>
<rect x="6" y="7" width="1.6" height="1.6" fill="#f7f7f7"/>
<rect x="7" y="7" width="1.6" height="1.6" fill="#f7f7f7"/>
<rect x="8" y="7" width="1.6" height="1.6" fill="#f7f7f7"/>
<rect x="9" y="7" width="1.6" height="1.6" fill="#f7f7f7"/>
<rect x="10" y="7" width="1.6" height="1.6" fill="#f7f7f7"/>
<rect x="11" y="7" width="1.6" height="1.6" fill="#f7f7f7"/>
<rect x="0" y="8" width="1.6" height="1.6" fill="#f7f7f7"/>
<rect x="1" y="8" width="1.6" height="1.6" fill="#f7f7f7"/>
<rect x="2" y="8" width="1.6" height="1.6" fill="#f7f7f7"/>
<rect x="3" y="8" width="1.6" height="1.6" fill="#f7f7f7"/>
<rect x="4" y="8" width="1.6" height="1.6" fill="#f7f7f7"/>
<rect x="5" y="8" width="1.6" height="1.6" fill="#f7f7f7"/>
<rect x="6" y="8" width="1.6" height="1.6" fill="#f7f7f7"/>
<rect x="7" y="8" width="1.6" height="1.6" fill="#f7f7f7"/>
<rect x="8" y="8" width="1.6" height="1.6" fill="#f7f7f7"/>
<rect x="9" y="8" width="1.6" height="1.6" fill="#f7f7f7"/>
<rect x="10" y="8" width="1.6" height="1.6" fill="#f7f7f7"/>
<rect x="11" y="8" width="1.6" height="1.6" fill="#f7f7f7"/>
<rect x="0" y="9" width="1.6" height="1.6" fill="#f7f7f7"/>
<rect x="1" y="9" width="1.6" height="1.6" fill="#f7f7f7"/>
<rect x="2" y="9" width="1.6" height="1.6" fill="#f7f7f7"/>
<rect x="3" y="9" width="1.6" height="1.6" fill="#f7f7f7"/>
<rect x="4" y="9" width="1.6" height="1.6" fill="#f7f7f7"/>
<rect x="5" y="9" width="1.6" height="1.6" fill="#f7f7f7"/>
<rect x="6" y="9" width="1.6" height="1.6" fill="#f7f7f7"/>
<rect x="7" y="9" width="1.6" height="1.6" fill="#f7f7f7"/>
<rect x="8" y="9" width="1.6" height="1.6" fill="#f7f7f7"/>
<rect x="9" y="9" width="1.6" height="1.6" fill="#f7f7f7"/>
<rect x="10" y="9" width="1.6" height="1.6" fill="#f7f7f7"/>
<rect x="11" y="9" width="1.6" height="1.6" fill="#f7f7f7"/>
<rect x="0" y="10" width="1.6" height="1.6" fill="#f7f7f7"/>
<rect x="1" y="10" width="1.6" height="1.6" fill="#f7f7f7"/>
<rect x="2" y="10" width="1.6" height="1.6" fill="#f7f7f7"/>
<rect x="3" y="10" width="1.6" height="1.6" fill="#f7f7f7"/>
<rect x="4" y="10" width="1.6" height="1.6" fill="#f7f7f7"/>
<rect x="5" y="10" width="1.6" height="1.6" fill="#f7f7f7"/>
<rect x="6" y="10" width="1.6" height="1.6" fill="#f7f7f7"/>
<rect x="7" y="10" width="1.6" height="1.6" fill="#f7f7f7"/>
<rect x="8" y="10" width="1.6" height="1.6" fill="#f7f7f7"/>
<rect x="9" y="10" width="1.6" height="1.6" fill="#f7f7f7"/>
<rect x="10" y="10" width="1.6" height="1.6" fill="#f7f7f7"/>
<rect x="11" y="10" width="1.6" height="1.6" fill="#f7f7f7"/>
<rect x="0" y="11" width="1.6" height="1.6" fill="#f7f7f7"/>
<rect x="1" y="11" width="1.6" height="1.6" fill="#f7f7f7"/>
<rect x="2" y="11" width="1.6" height="1.6" fill="#f7f7f7"/>
<rect x="3" y="11" width="1.6" height="1.6" fill="#f7f7f7"/>
<rect x="4" y="11" width="1.6" height="1.6" fill="#f7f7f7"/>
<rect x="5" y="11" width="1.6" height="1.6" fill="#f7f7f7"/>
<rect x="6" y="11" width="1.6" height="1.6" fill="#f7f7f7"/>
<rect x="7" y="11" width="1.6" height="1.6" fill="#f7f7f7"/>
<rect x="8" y="11" width="1.6" height="1.6" fill="#f7f7f7"/>
<rect x="9" y="11" width="1.6" height="1.6" fill="#f7f7f7"/>
<rect x="10" y="11" width="1.6" height="1.6" fill="#f7f7f7"/>
<rect x="11" y="11" width="1.6" height="1.6" fill="#f7f7f7"/>
<rect x="0" y="12" width="1.6" height="1.6" fill="#f7f7f7"/>
<rect x="1" y="12" width="1.6" height="1.6" fill="#f7f7f7"/>
<rect x="2" y="12" width="1.6" height="1.6" fill="#f7f7f7"/>
<rect x="3" y="12" width="1.6" height="1.6" fill="#f7f7f7"/>
<rect x="4" y="12" width="1.6" height="1.6" fill="#f7f7f7"/>
<rect x="5" y="12" width="1.6" height="1.6" fill="#f7f7f7"/>
<rect x="6" y="12" width="1.6" height="1.6" fill="#f7f7f7"/>
<rect x="7" y="12" width="1.6" height="1.6" fill="#f7f7f7"/>
<rect x="8" y="12" width="1.6" height="1.6" fill="#f7f7f7"/>
<rect x="9" y="12" width="1.6" height="1.6" fill="#f7f7f7"/>
<rect x="10" y="12" width="1.6" height="1.6" fill="#f7f7f7"/>
<rect x="11" y="12" width="1.6" height="1.6" fill="#f7f7f7"/>
<rect x="0" y="13" width="1.6" height="1.6" fill="#f7f7f7"/>
<rect x="1" y="13" width="1.6" height="1.6" fill="#f7f7f7"/>
<rect x="2" y="13" width="1.6" height="1.6" fill="#f7f7f7"/>
<rect x="3" y="13" width="1.6" height="1.6" fill="#f7f7f7"/>
<rect x="4" y="13" width="1.6" height="1.6" fill="#f7f7f7"/>
<rect x="5" y="13" width="1.6" height="1.6" fill="#f7f7f7"/>
<rect x="6" y="13" width="1.6" height="1.6" fill="#f7f7f7"/>
<rect x="7" y="13" width="1.6" height="1.6" fill="#f7f7f7"/>
<rect x="8" y="13" width="1.6" height="1.6" fill="#f7f7f7"/>
<rect x="9" y="13" width="1.6" height="1.6" fill="#f7f7f7"/>
<rect x="10" y="13" width="1.6" height="1.6" fill="#f7f7f7"/>
<rect x="11" y="13" width="1.6" height="1.6" fill="#f7f7f7"/>
</symbol>
<symbol id="hin2" viewBox="0 0 12 14" preserveAspectRatio="none">
<rect x="0" y="0" width="1.6" height="1.6" fill="#91c5de"/>
<rect x="1" y="0" width="1.6" height="1.6" fill="#91c5de"/>
<rect x="2" y="0" width="1.6" height="1.6" fill="#91c5de"/>
<rect x="3" y="0" width="1.6" height="1.6" fill="#91c5de"/>
<rect x="4" y="0" width="1.6" height="1.6" fill="#91c5de"/>
<rect x="5" y="0" width="1.6" height="1.6" fill="#f4a785"/>
<rect x="6" y="0" width="1.6" height="1.6" fill="#f19f7d"/>
<rect x="7" y="0" width="1.6" height="1.6" fill="#f6b191"/>
<rect x="8" y="0" width="1.6" height="1.6" fill="#fdd9c4"/>
<rect x="9" y="0" width="1.6" height="1.6" fill="#fdd9c4"/>
<rect x="10" y="0" width="1.6" height="1.6" fill="#fdd9c4"/>
<rect x="11" y="0" width="1.6" height="1.6" fill="#f7f7f7"/>
<rect x="0" y="1" width="1.6" height="1.6" fill="#f4a784"/>
<rect x="1" y="1" width="1.6" height="1.6" fill="#f29f7e"/>
<rect x="2" y="1" width="1.6" height="1.6" fill="#f6b292"/>
<rect x="3" y="1" width="1.6" height="1.6" fill="#f9c4aa"/>
<rect x="4" y="1" width="1.6" height="1.6" fill="#f8bea2"/>
<rect x="5" y="1" width="1.6" height="1.6" fill="#f4a785"/>
<rect x="6" y="1" width="1.6" height="1.6" fill="#f19f7d"/>
<rect x="7" y="1" width="1.6" height="1.6" fill="#fdd9c4"/>
<rect x="8" y="1" width="1.6" height="1.6" fill="#fdd9c4"/>
<rect x="9" y="1" width="1.6" height="1.6" fill="#fdd9c4"/>
<rect x="10" y="1" width="1.6" height="1.6" fill="#f7f7f7"/>
<rect x="11" y="1" width="1.6" height="1.6" fill="#f7f7f7"/>
<rect x="0" y="2" width="1.6" height="1.6" fill="#f4a784"/>
<rect x="1" y="2" width="1.6" height="1.6" fill="#f29f7e"/>
<rect x="2" y="2" width="1.6" height="1.6" fill="#f6b292"/>
<rect x="3" y="2" width="1.6" height="1.6" fill="#f9c4aa"/>
<rect x="4" y="2" width="1.6" height="1.6" fill="#f8bea2"/>
<rect x="5" y="2" width="1.6" height="1.6" fill="#f4a785"/>
<rect x="6" y="2" width="1.6" height="1.6" fill="#fdd9c4"/>
<rect x="7" y="2" width="1.6" height="1.6" fill="#fdd9c4"/>
<rect x="8" y="2" width="1.6" height="1.6" fill="#fdd9c4"/>
<rect x="9" y="2" width="1.6" height="1.6" fill="#f7f7f7"/>
<rect x="10" y="2" width="1.6" height="1.6" fill="#f7f7f7"/>
<rect x="11" y="2" width="1.6" height="1.6" fill="#f7f7f7"/>
<rect x="0" y="3" width="1.6" height="1.6" fill="#f4a785"/>
<rect x="1" y="3" width="1.6" height="1.6" fill="#f2a07e"/>
<rect x="2" y="3" width="1.6" height="1.6" fill="#f6b292"/>
<rect x="3" y="3" width="1.6" height="1.6" fill="#f9c4aa"/>
<rect x="4" y="3" width="1.6" height="1.6" fill="#f8bea2"/>
<rect x="5" y="3" width="1.6" height="1.6" fill="#fdd9c4"/>
<rect x="6" y="3" width="1.6" height="1.6" fill="#fdd9c4"/>
<rect x="7" y="3" width="1.6" height="1.6" fill="#fdd9c4"/>
<rect x="8" y="3" width="1.6" height="1.6" fill="#f7f7f7"/>
<rect x="9" y="3" width="1.6" height="1.6" fill="#f7f7f7"/>
<rect x="10" y="3" width="1.6" height="1.6" fill="#f7f7f7"/>
<rect x="11" y="3" width="1.6" height="1.6" fill="#f7f7f7"/>
<rect x="0" y="4" width="1.6" height="1.6" fill="#f5ad8c"/>
<rect x="1" y="4" width="1.6" height="1.6" fill="#f3a381"/>
<rect x="2" y="4" width="1.6" height="1.6" fill="#f6b393"/>
<rect x="3" y="4" width="1.6" height="1.6" fill="#f9c4aa"/>
<rect x="4" y="4" width="1.6" height="1.6" fill="#fdd9c4"/>
<rect x="5" y="4" width="1.6" height="1.6" fill="#fdd9c4"/>
<rect x="6" y="4" width="1.6" height="1.6" fill="#fdd9c4"/>
<rect x="7" y="4" width="1.6" height="1.6" fill="#f7f7f7"/>
<rect x="8" y="4" width="1.6" height="1.6" fill="#f7f7f7"/>
<rect x="9" y="4" width="1.6" height="1.6" fill="#f7f7f7"/>
<rect x="10" y="4" width="1.6" height="1.6" fill="#f7f7f7"/>
<rect x="11" y="4" width="1.6" height="1.6" fill="#f7f7f7"/>
<rect x="0" y="5" width="1.6" height="1.6" fill="#fac8af"/>
<rect x="1" y="5" width="1.6" height="1.6" fill="#f7b597"/>
<rect x="2" y="5" width="1.6" height="1.6" fill="#f7b698"/>
<rect x="3" y="5" width="1.6" height="1.6" fill="#fdd9c5"/>
<rect x="4" y="5" width="1.6" height="1.6" fill="#fdd9c4"/>
<rect x="5" y="5" width="1.6" height="1.6" fill="#fdd9c4"/>
<rect x="6" y="5" width="1.6" height="1.6" fill="#f7f7f7"/>
<rect x="7" y="5" width="1.6" height="1.6" fill="#f7f7f7"/>
<rect x="8" y="5" width="1.6" height="1.6" fill="#f7f7f7"/>
<rect x="9" y="5" width="1.6" height="1.6" fill="#f7f7f7"/>
<rect x="10" y="5" width="1.6" height="1.6" fill="#f7f7f7"/>
<rect x="11" y="5" width="1.6" height="1.6" fill="#f7f7f7"/>
<rect x="0" y="6" width="1.6" height="1.6" fill="#dceaf2"/>
<rect x="1" y="6" width="1.6" height="1.6" fill="#fcdfce"/>
<rect x="2" y="6" width="1.6" height="1.6" fill="#fae7dc"/>
<rect x="3" y="6" width="1.6" height="1.6" fill="#fddac6"/>
<rect x="4" y="6" width="1.6" height="1.6" fill="#fdd9c4"/>
<rect x="5" y="6" width="1.6" height="1.6" fill="#f7f7f7"/>
<rect x="6" y="6" width="1.6" height="1.6" fill="#f7f7f7"/>
<rect x="7" y="6" width="1.6" height="1.6" fill="#f7f7f7"/>
<rect x="8" y="6" width="1.6" height="1.6" fill="#f7f7f7"/>
<rect x="9" y="6" width="1.6" height="1.6" fill="#f7f7f7"/>
<rect x="10" y="6" width="1.6" height="1.6" fill="#f7f7f7"/>
<rect x="11" y="6" width="1.6" height="1.6" fill="#f7f7f7"/>
<rect x="0" y="7" width="1.6" height="1.6" fill="#8bc1dc"/>
<rect x="1" y="7" width="1.6" height="1.6" fill="#8fc3dd"/>
<rect x="2" y="7" width="1.6" height="1.6" fill="#f9efea"/>
<rect x="3" y="7" width="1.6" height="1.6" fill="#fddac6"/>
<rect x="4" y="7" width="1.6" height="1.6" fill="#f7f7f7"/>
<rect x="5" y="7" width="1.6" height="1.6" fill="#f7f7f7"/>
<rect x="6" y="7" width="1.6" height="1.6" fill="#f7f7f7"/>
<rect x="7" y="7" width="1.6" height="1.6" fill="#f7f7f7"/>
<rect x="8" y="7" width="1.6" height="1.6" fill="#f7f7f7"/>
<rect x="9" y="7" width="1.6" height="1.6" fill="#f7f7f7"/>
<rect x="10" y="7" width="1.6" height="1.6" fill="#f7f7f7"/>
<rect x="11" y="7" width="1.6" height="1.6" fill="#f7f7f7"/>
<rect x="0" y="8" width="1.6" height="1.6" fill="#6fafd2"/>
<rect x="1" y="8" width="1.6" height="1.6" fill="#a9d1e5"/>
<rect x="2" y="8" width="1.6" height="1.6" fill="#f9ebe3"/>
<rect x="3" y="8" width="1.6" height="1.6" fill="#f5f6f7"/>
<rect x="4" y="8" width="1.6" height="1.6" fill="#f7f7f7"/>
<rect x="5" y="8" width="1.6" height="1.6" fill="#f7f7f7"/>
<rect x="6" y="8" width="1.6" height="1.6" fill="#f7f7f7"/>
<rect x="7" y="8" width="1.6" height="1.6" fill="#f7f7f7"/>
<rect x="8" y="8" width="1.6" height="1.6" fill="#f7f7f7"/>
<rect x="9" y="8" width="1.6" height="1.6" fill="#f7f7f7"/>
<rect x="10" y="8" width="1.6" height="1.6" fill="#f7f7f7"/>
<rect x="11" y="8" width="1.6" height="1.6" fill="#f7f7f7"/>
<rect x="0" y="9" width="1.6" height="1.6" fill="#d2e5f0"/>
<rect x="1" y="9" width="1.6" height="1.6" fill="#edf2f5"/>
<rect x="2" y="9" width="1.6" height="1.6" fill="#ecf2f5"/>
<rect x="3" y="9" width="1.6" height="1.6" fill="#f6f7f7"/>
<rect x="4" y="9" width="1.6" height="1.6" fill="#f7f7f7"/>
<rect x="5" y="9" width="1.6" height="1.6" fill="#f7f7f7"/>
<rect x="6" y="9" width="1.6" height="1.6" fill="#f7f7f7"/>
<rect x="7" y="9" width="1.6" height="1.6" fill="#f7f7f7"/>
<rect x="8" y="9" width="1.6" height="1.6" fill="#f7f7f7"/>
<rect x="9" y="9" width="1.6" height="1.6" fill="#f7f7f7"/>
<rect x="10" y="9" width="1.6" height="1.6" fill="#f7f7f7"/>
<rect x="11" y="9" width="1.6" height="1.6" fill="#f7f7f7"/>
<rect x="0" y="10" width="1.6" height="1.6" fill="#de735c"/>
<rect x="1" y="10" width="1.6" height="1.6" fill="#de735c"/>
<rect x="2" y="10" width="1.6" height="1.6" fill="#de735c"/>
<rect x="3" y="10" width="1.6" height="1.6" fill="#de735c"/>
<rect x="4" y="10" width="1.6" height="1.6" fill="#f5f6f7"/>
<rect x="5" y="10" width="1.6" height="1.6" fill="#edf2f5"/>
<rect x="6" y="10" width="1.6" height="1.6" fill="#e5eef4"/>
<rect x="7" y="10" width="1.6" height="1.6" fill="#ebf1f5"/>
<rect x="8" y="10" width="1.6" height="1.6" fill="#f4f6f7"/>
<rect x="9" y="10" width="1.6" height="1.6" fill="#f7f7f7"/>
<rect x="10" y="10" width="1.6" height="1.6" fill="#f7f7f7"/>
<rect x="11" y="10" width="1.6" height="1.6" fill="#f7f7f7"/>
<rect x="0" y="11" width="1.6" height="1.6" fill="#d6604d"/>
<rect x="1" y="11" width="1.6" height="1.6" fill="#d6604d"/>
<rect x="2" y="11" width="1.6" height="1.6" fill="#d6604d"/>
<rect x="3" y="11" width="1.6" height="1.6" fill="#d6614e"/>
<rect x="4" y="11" width="1.6" height="1.6" fill="#ecf2f5"/>
<rect x="5" y="11" width="1.6" height="1.6" fill="#b8d8e9"/>
<rect x="6" y="11" width="1.6" height="1.6" fill="#81bad8"/>
<rect x="7" y="11" width="1.6" height="1.6" fill="#a8d0e4"/>
<rect x="8" y="11" width="1.6" height="1.6" fill="#e7eff4"/>
<rect x="9" y="11" width="1.6" height="1.6" fill="#f6f6f7"/>
<rect x="10" y="11" width="1.6" height="1.6" fill="#f7f7f7"/>
<rect x="11" y="11" width="1.6" height="1.6" fill="#f7f7f7"/>
<rect x="0" y="12" width="1.6" height="1.6" fill="#cb4b43"/>
<rect x="1" y="12" width="1.6" height="1.6" fill="#cb4b43"/>
<rect x="2" y="12" width="1.6" height="1.6" fill="#cb4b43"/>
<rect x="3" y="12" width="1.6" height="1.6" fill="#cc4b43"/>
<rect x="4" y="12" width="1.6" height="1.6" fill="#eef3f5"/>
<rect x="5" y="12" width="1.6" height="1.6" fill="#c5dfec"/>
<rect x="6" y="12" width="1.6" height="1.6" fill="#93c5de"/>
<rect x="7" y="12" width="1.6" height="1.6" fill="#b8d8e9"/>
<rect x="8" y="12" width="1.6" height="1.6" fill="#eaf1f5"/>
<rect x="9" y="12" width="1.6" height="1.6" fill="#f6f7f7"/>
<rect x="10" y="12" width="1.6" height="1.6" fill="#f7f7f7"/>
<rect x="11" y="12" width="1.6" height="1.6" fill="#f7f7f7"/>
<rect x="0" y="13" width="1.6" height="1.6" fill="#c13639"/>
<rect x="1" y="13" width="1.6" height="1.6" fill="#c13639"/>
<rect x="2" y="13" width="1.6" height="1.6" fill="#c13639"/>
<rect x="3" y="13" width="1.6" height="1.6" fill="#c13639"/>
<rect x="4" y="13" width="1.6" height="1.6" fill="#f6f7f7"/>
<rect x="5" y="13" width="1.6" height="1.6" fill="#f2f5f6"/>
<rect x="6" y="13" width="1.6" height="1.6" fill="#edf2f5"/>
<rect x="7" y="13" width="1.6" height="1.6" fill="#f1f4f6"/>
<rect x="8" y="13" width="1.6" height="1.6" fill="#f6f6f7"/>
<rect x="9" y="13" width="1.6" height="1.6" fill="#f7f7f7"/>
<rect x="10" y="13" width="1.6" height="1.6" fill="#f7f7f7"/>
<rect x="11" y="13" width="1.6" height="1.6" fill="#f7f7f7"/>
</symbol>
<symbol id="hin3" viewBox="0 0 12 14" preserveAspectRatio="none">
<rect x="0" y="0" width="1.6" height="1.6" fill="#a0cce2"/>
<rect x="1" y="0" width="1.6" height="1.6" fill="#a0cce2"/>
<rect x="2" y="0" width="1.6" height="1.6" fill="#a0cce2"/>
<rect x="3" y="0" width="1.6" height="1.6" fill="#a0cce2"/>
<rect x="4" y="0" width="1.6" height="1.6" fill="#a0cce2"/>
<rect x="5" y="0" width="1.6" height="1.6" fill="#f7b89a"/>
<rect x="6" y="0" width="1.6" height="1.6" fill="#f4a582"/>
<rect x="7" y="0" width="1.6" height="1.6" fill="#f19f7d"/>
<rect x="8" y="0" width="1.6" height="1.6" fill="#f5ae8d"/>
<rect x="9" y="0" width="1.6" height="1.6" fill="#fcdfce"/>
<rect x="10" y="0" width="1.6" height="1.6" fill="#fcdfce"/>
<rect x="11" y="0" width="1.6" height="1.6" fill="#fcdfce"/>
<rect x="0" y="1" width="1.6" height="1.6" fill="#f4a886"/>
<rect x="1" y="1" width="1.6" height="1.6" fill="#f19e7d"/>
<rect x="2" y="1" width="1.6" height="1.6" fill="#f5aa88"/>
<rect x="3" y="1" width="1.6" height="1.6" fill="#f8bea2"/>
<rect x="4" y="1" width="1.6" height="1.6" fill="#f9c5ab"/>
<rect x="5" y="1" width="1.6" height="1.6" fill="#f7b89a"/>
<rect x="6" y="1" width="1.6" height="1.6" fill="#f4a582"/>
<rect x="7" y="1" width="1.6" height="1.6" fill="#f19f7d"/>
<rect x="8" y="1" width="1.6" height="1.6" fill="#fcdfce"/>
<rect x="9" y="1" width="1.6" height="1.6" fill="#fcdfce"/>
<rect x="10" y="1" width="1.6" height="1.6" fill="#fcdfce"/>
<rect x="11" y="1" width="1.6" height="1.6" fill="#f7f7f7"/>
<rect x="0" y="2" width="1.6" height="1.6" fill="#f4a886"/>
<rect x="1" y="2" width="1.6" height="1.6" fill="#f19e7d"/>
<rect x="2" y="2" width="1.6" height="1.6" fill="#f5aa88"/>
<rect x="3" y="2" width="1.6" height="1.6" fill="#f8bea2"/>
<rect x="4" y="2" width="1.6" height="1.6" fill="#f9c5ab"/>
<rect x="5" y="2" width="1.6" height="1.6" fill="#f7b89a"/>
<rect x="6" y="2" width="1.6" height="1.6" fill="#f4a582"/>
<rect x="7" y="2" width="1.6" height="1.6" fill="#fcdfce"/>
<rect x="8" y="2" width="1.6" height="1.6" fill="#fcdfce"/>
<rect x="9" y="2" width="1.6" height="1.6" fill="#fcdfce"/>
<rect x="10" y="2" width="1.6" height="1.6" fill="#f7f7f7"/>
<rect x="11" y="2" width="1.6" height="1.6" fill="#f7f7f7"/>
<rect x="0" y="3" width="1.6" height="1.6" fill="#f5a886"/>
<rect x="1" y="3" width="1.6" height="1.6" fill="#f19e7d"/>
<rect x="2" y="3" width="1.6" height="1.6" fill="#f5aa88"/>
<rect x="3" y="3" width="1.6" height="1.6" fill="#f8bea2"/>
<rect x="4" y="3" width="1.6" height="1.6" fill="#f9c5ab"/>
<rect x="5" y="3" width="1.6" height="1.6" fill="#f7b89a"/>
<rect x="6" y="3" width="1.6" height="1.6" fill="#fcdfce"/>
<rect x="7" y="3" width="1.6" height="1.6" fill="#fcdfce"/>
<rect x="8" y="3" width="1.6" height="1.6" fill="#fcdfce"/>
<rect x="9" y="3" width="1.6" height="1.6" fill="#f7f7f7"/>
<rect x="10" y="3" width="1.6" height="1.6" fill="#f7f7f7"/>
<rect x="11" y="3" width="1.6" height="1.6" fill="#f7f7f7"/>
<rect x="0" y="4" width="1.6" height="1.6" fill="#f5aa88"/>
<rect x="1" y="4" width="1.6" height="1.6" fill="#f29f7e"/>
<rect x="2" y="4" width="1.6" height="1.6" fill="#f5aa88"/>
<rect x="3" y="4" width="1.6" height="1.6" fill="#f8bea2"/>
<rect x="4" y="4" width="1.6" height="1.6" fill="#f9c5ab"/>
<rect x="5" y="4" width="1.6" height="1.6" fill="#fcdfce"/>
<rect x="6" y="4" width="1.6" height="1.6" fill="#fcdfce"/>
<rect x="7" y="4" width="1.6" height="1.6" fill="#fcdfce"/>
<rect x="8" y="4" width="1.6" height="1.6" fill="#f7f7f7"/>
<rect x="9" y="4" width="1.6" height="1.6" fill="#f7f7f7"/>
<rect x="10" y="4" width="1.6" height="1.6" fill="#f7f7f7"/>
<rect x="11" y="4" width="1.6" height="1.6" fill="#f7f7f7"/>
<rect x="0" y="5" width="1.6" height="1.6" fill="#f7b496"/>
<rect x="1" y="5" width="1.6" height="1.6" fill="#f4a582"/>
<rect x="2" y="5" width="1.6" height="1.6" fill="#f5aa89"/>
<rect x="3" y="5" width="1.6" height="1.6" fill="#f8bea2"/>
<rect x="4" y="5" width="1.6" height="1.6" fill="#fcdfce"/>
<rect x="5" y="5" width="1.6" height="1.6" fill="#fcdfce"/>
<rect x="6" y="5" width="1.6" height="1.6" fill="#fcdfce"/>
<rect x="7" y="5" width="1.6" height="1.6" fill="#f7f7f7"/>
<rect x="8" y="5" width="1.6" height="1.6" fill="#f7f7f7"/>
<rect x="9" y="5" width="1.6" height="1.6" fill="#f7f7f7"/>
<rect x="10" y="5" width="1.6" height="1.6" fill="#f7f7f7"/>
<rect x="11" y="5" width="1.6" height="1.6" fill="#f7f7f7"/>
<rect x="0" y="6" width="1.6" height="1.6" fill="#fdd9c5"/>
<rect x="1" y="6" width="1.6" height="1.6" fill="#f7b698"/>
<rect x="2" y="6" width="1.6" height="1.6" fill="#f5ad8c"/>
<rect x="3" y="6" width="1.6" height="1.6" fill="#fcdfce"/>
<rect x="4" y="6" width="1.6" height="1.6" fill="#fcdfce"/>
<rect x="5" y="6" width="1.6" height="1.6" fill="#fcdfce"/>
<rect x="6" y="6" width="1.6" height="1.6" fill="#f7f7f7"/>
<rect x="7" y="6" width="1.6" height="1.6" fill="#f7f7f7"/>
<rect x="8" y="6" width="1.6" height="1.6" fill="#f7f7f7"/>
<rect x="9" y="6" width="1.6" height="1.6" fill="#f7f7f7"/>
<rect x="10" y="6" width="1.6" height="1.6" fill="#f7f7f7"/>
<rect x="11" y="6" width="1.6" height="1.6" fill="#f7f7f7"/>
<rect x="0" y="7" width="1.6" height="1.6" fill="#c0ddeb"/>
<rect x="1" y="7" width="1.6" height="1.6" fill="#fcd6c1"/>
<rect x="2" y="7" width="1.6" height="1.6" fill="#fbe5d9"/>
<rect x="3" y="7" width="1.6" height="1.6" fill="#fcdfce"/>
<rect x="4" y="7" width="1.6" height="1.6" fill="#fce0cf"/>
<rect x="5" y="7" width="1.6" height="1.6" fill="#f5f6f7"/>
<rect x="6" y="7" width="1.6" height="1.6" fill="#f5f6f7"/>
<rect x="7" y="7" width="1.6" height="1.6" fill="#f6f7f7"/>
<rect x="8" y="7" width="1.6" height="1.6" fill="#f7f7f7"/>
<rect x="9" y="7" width="1.6" height="1.6" fill="#f7f7f7"/>
<rect x="10" y="7" width="1.6" height="1.6" fill="#f7f7f7"/>
<rect x="11" y="7" width="1.6" height="1.6" fill="#f7f7f7"/>
<rect x="0" y="8" width="1.6" height="1.6" fill="#7db7d7"/>
<rect x="1" y="8" width="1.6" height="1.6" fill="#a5cfe4"/>
<rect x="2" y="8" width="1.6" height="1.6" fill="#fae8de"/>
<rect x="3" y="8" width="1.6" height="1.6" fill="#fce0d0"/>
<rect x="4" y="8" width="1.6" height="1.6" fill="#f0f4f6"/>
<rect x="5" y="8" width="1.6" height="1.6" fill="#e9f0f4"/>
<rect x="6" y="8" width="1.6" height="1.6" fill="#ecf2f5"/>
<rect x="7" y="8" width="1.6" height="1.6" fill="#f3f5f6"/>
<rect x="8" y="8" width="1.6" height="1.6" fill="#f6f7f7"/>
<rect x="9" y="8" width="1.6" height="1.6" fill="#f7f7f7"/>
<rect x="10" y="8" width="1.6" height="1.6" fill="#f7f7f7"/>
<rect x="11" y="8" width="1.6" height="1.6" fill="#f7f7f7"/>
<rect x="0" y="9" width="1.6" height="1.6" fill="#59a1cb"/>
<rect x="1" y="9" width="1.6" height="1.6" fill="#b8d8e9"/>
<rect x="2" y="9" width="1.6" height="1.6" fill="#fae7dc"/>
<rect x="3" y="9" width="1.6" height="1.6" fill="#f0f4f6"/>
<rect x="4" y="9" width="1.6" height="1.6" fill="#d7e8f1"/>
<rect x="5" y="9" width="1.6" height="1.6" fill="#b7d8e9"/>
<rect x="6" y="9" width="1.6" height="1.6" fill="#c4deec"/>
<rect x="7" y="9" width="1.6" height="1.6" fill="#e6eff4"/>
<rect x="8" y="9" width="1.6" height="1.6" fill="#f4f6f7"/>
<rect x="9" y="9" width="1.6" height="1.6" fill="#f7f7f7"/>
<rect x="10" y="9" width="1.6" height="1.6" fill="#f7f7f7"/>
<rect x="11" y="9" width="1.6" height="1.6" fill="#f7f7f7"/>
<rect x="0" y="10" width="1.6" height="1.6" fill="#b1d5e7"/>
<rect x="1" y="10" width="1.6" height="1.6" fill="#c6dfed"/>
<rect x="2" y="10" width="1.6" height="1.6" fill="#f0f4f6"/>
<rect x="3" y="10" width="1.6" height="1.6" fill="#e4eef4"/>
<rect x="4" y="10" width="1.6" height="1.6" fill="#9ecbe1"/>
<rect x="5" y="10" width="1.6" height="1.6" fill="#5ba2cb"/>
<rect x="6" y="10" width="1.6" height="1.6" fill="#74b2d4"/>
<rect x="7" y="10" width="1.6" height="1.6" fill="#c9e1ee"/>
<rect x="8" y="10" width="1.6" height="1.6" fill="#f0f4f6"/>
<rect x="9" y="10" width="1.6" height="1.6" fill="#f7f7f7"/>
<rect x="10" y="10" width="1.6" height="1.6" fill="#f7f7f7"/>
<rect x="11" y="10" width="1.6" height="1.6" fill="#f7f7f7"/>
<rect x="0" y="11" width="1.6" height="1.6" fill="#df745c"/>
<rect x="1" y="11" width="1.6" height="1.6" fill="#df745c"/>
<rect x="2" y="11" width="1.6" height="1.6" fill="#df765e"/>
<rect x="3" y="11" width="1.6" height="1.6" fill="#dae9f2"/>
<rect x="4" y="11" width="1.6" height="1.6" fill="#72b1d3"/>
<rect x="5" y="11" width="1.6" height="1.6" fill="#2c74b3"/>
<rect x="6" y="11" width="1.6" height="1.6" fill="#3d8bbf"/>
<rect x="7" y="11" width="1.6" height="1.6" fill="#acd2e5"/>
<rect x="8" y="11" width="1.6" height="1.6" fill="#ecf2f5"/>
<rect x="9" y="11" width="1.6" height="1.6" fill="#f6f7f7"/>
<rect x="10" y="11" width="1.6" height="1.6" fill="#f7f7f7"/>
<rect x="11" y="11" width="1.6" height="1.6" fill="#f7f7f7"/>
<rect x="0" y="12" width="1.6" height="1.6" fill="#d45d4b"/>
<rect x="1" y="12" width="1.6" height="1.6" fill="#d45d4b"/>
<rect x="2" y="12" width="1.6" height="1.6" fill="#d55f4c"/>
<rect x="3" y="12" width="1.6" height="1.6" fill="#dbeaf2"/>
<rect x="4" y="12" width="1.6" height="1.6" fill="#78b4d5"/>
<rect x="5" y="12" width="1.6" height="1.6" fill="#307ab6"/>
<rect x="6" y="12" width="1.6" height="1.6" fill="#4090c1"/>
<rect x="7" y="12" width="1.6" height="1.6" fill="#b0d4e6"/>
<rect x="8" y="12" width="1.6" height="1.6" fill="#edf2f5"/>
<rect x="9" y="12" width="1.6" height="1.6" fill="#f6f7f7"/>
<rect x="10" y="12" width="1.6" height="1.6" fill="#f7f7f7"/>
<rect x="11" y="12" width="1.6" height="1.6" fill="#f7f7f7"/>
<rect x="0" y="13" width="1.6" height="1.6" fill="#c7433f"/>
<rect x="1" y="13" width="1.6" height="1.6" fill="#c7433f"/>
<rect x="2" y="13" width="1.6" height="1.6" fill="#c84440"/>
<rect x="3" y="13" width="1.6" height="1.6" fill="#e7eff4"/>
<rect x="4" y="13" width="1.6" height="1.6" fill="#abd2e5"/>
<rect x="5" y="13" width="1.6" height="1.6" fill="#6eaed2"/>
<rect x="6" y="13" width="1.6" height="1.6" fill="#83bcd9"/>
<rect x="7" y="13" width="1.6" height="1.6" fill="#d0e4f0"/>
<rect x="8" y="13" width="1.6" height="1.6" fill="#f1f4f6"/>
<rect x="9" y="13" width="1.6" height="1.6" fill="#f7f7f7"/>
<rect x="10" y="13" width="1.6" height="1.6" fill="#f7f7f7"/>
<rect x="11" y="13" width="1.6" height="1.6" fill="#f7f7f7"/>
</symbol>
<symbol id="hin4" viewBox="0 0 12 14" preserveAspectRatio="none">
<rect x="0" y="0" width="1.6" height="1.6" fill="#86bdda"/>
<rect x="1" y="0" width="1.6" height="1.6" fill="#86bdda"/>
<rect x="2" y="0" width="1.6" height="1.6" fill="#86bdda"/>
<rect x="3" y="0" width="1.6" height="1.6" fill="#86bdda"/>
<rect x="4" y="0" width="1.6" height="1.6" fill="#86bdda"/>
<rect x="5" y="0" width="1.6" height="1.6" fill="#f8f1ed"/>
<rect x="6" y="0" width="1.6" height="1.6" fill="#f9ede6"/>
<rect x="7" y="0" width="1.6" height="1.6" fill="#f9ede6"/>
<rect x="8" y="0" width="1.6" height="1.6" fill="#f9ede6"/>
<rect x="9" y="0" width="1.6" height="1.6" fill="#f9ede6"/>
<rect x="10" y="0" width="1.6" height="1.6" fill="#f9ede6"/>
<rect x="11" y="0" width="1.6" height="1.6" fill="#f9ede6"/>
<rect x="0" y="1" width="1.6" height="1.6" fill="#fbcfb8"/>
<rect x="1" y="1" width="1.6" height="1.6" fill="#facbb3"/>
<rect x="2" y="1" width="1.6" height="1.6" fill="#fbd2bb"/>
<rect x="3" y="1" width="1.6" height="1.6" fill="#fcdfce"/>
<rect x="4" y="1" width="1.6" height="1.6" fill="#f9ede6"/>
<rect x="5" y="1" width="1.6" height="1.6" fill="#f8f3f0"/>
<rect x="6" y="1" width="1.6" height="1.6" fill="#f9ede6"/>
<rect x="7" y="1" width="1.6" height="1.6" fill="#f9ede6"/>
<rect x="8" y="1" width="1.6" height="1.6" fill="#f9ede6"/>
<rect x="9" y="1" width="1.6" height="1.6" fill="#f9ede6"/>
<rect x="10" y="1" width="1.6" height="1.6" fill="#f9ede6"/>
<rect x="11" y="1" width="1.6" height="1.6" fill="#f9ede6"/>
<rect x="0" y="2" width="1.6" height="1.6" fill="#fbccb4"/>
<rect x="1" y="2" width="1.6" height="1.6" fill="#fbcdb5"/>
<rect x="2" y="2" width="1.6" height="1.6" fill="#fcd8c3"/>
<rect x="3" y="2" width="1.6" height="1.6" fill="#fbe6da"/>
<rect x="4" y="2" width="1.6" height="1.6" fill="#f8f1ed"/>
<rect x="5" y="2" width="1.6" height="1.6" fill="#f8f2ee"/>
<rect x="6" y="2" width="1.6" height="1.6" fill="#f9ede6"/>
<rect x="7" y="2" width="1.6" height="1.6" fill="#f9ede6"/>
<rect x="8" y="2" width="1.6" height="1.6" fill="#f9ede6"/>
<rect x="9" y="2" width="1.6" height="1.6" fill="#f9ede6"/>
<rect x="10" y="2" width="1.6" height="1.6" fill="#f9ede6"/>
<rect x="11" y="2" width="1.6" height="1.6" fill="#f9ede6"/>
<rect x="0" y="3" width="1.6" height="1.6" fill="#facbb3"/>
<rect x="1" y="3" width="1.6" height="1.6" fill="#fbd1ba"/>
<rect x="2" y="3" width="1.6" height="1.6" fill="#fcdecd"/>
<rect x="3" y="3" width="1.6" height="1.6" fill="#f9ece5"/>
<rect x="4" y="3" width="1.6" height="1.6" fill="#f8f3f0"/>
<rect x="5" y="3" width="1.6" height="1.6" fill="#f9efe9"/>
<rect x="6" y="3" width="1.6" height="1.6" fill="#f9ede6"/>
<rect x="7" y="3" width="1.6" height="1.6" fill="#f9ede6"/>
<rect x="8" y="3" width="1.6" height="1.6" fill="#f9ede6"/>
<rect x="9" y="3" width="1.6" height="1.6" fill="#f9ede6"/>
<rect x="10" y="3" width="1.6" height="1.6" fill="#f9ede6"/>
<rect x="11" y="3" width="1.6" height="1.6" fill="#f9ede6"/>
<rect x="0" y="4" width="1.6" height="1.6" fill="#fbcdb5"/>
<rect x="1" y="4" width="1.6" height="1.6" fill="#fcd7c2"/>
<rect x="2" y="4" width="1.6" height="1.6" fill="#fbe6d9"/>
<rect x="3" y="4" width="1.6" height="1.6" fill="#f8f1ec"/>
<rect x="4" y="4" width="1.6" height="1.6" fill="#f8f2ef"/>
<rect x="5" y="4" width="1.6" height="1.6" fill="#fae9e0"/>
<rect x="6" y="4" width="1.6" height="1.6" fill="#f9ede6"/>
<rect x="7" y="4" width="1.6" height="1.6" fill="#f9ede6"/>
<rect x="8" y="4" width="1.6" height="1.6" fill="#f9ede6"/>
<rect x="9" y="4" width="1.6" height="1.6" fill="#f9ede6"/>
<rect x="10" y="4" width="1.6" height="1.6" fill="#f9ede6"/>
<rect x="11" y="4" width="1.6" height="1.6" fill="#f9ede6"/>
<rect x="0" y="5" width="1.6" height="1.6" fill="#fbd1ba"/>
<rect x="1" y="5" width="1.6" height="1.6" fill="#fcdecc"/>
<rect x="2" y="5" width="1.6" height="1.6" fill="#f9ece4"/>
<rect x="3" y="5" width="1.6" height="1.6" fill="#f8f3f0"/>
<rect x="4" y="5" width="1.6" height="1.6" fill="#f9efea"/>
<rect x="5" y="5" width="1.6" height="1.6" fill="#fbe3d4"/>
<rect x="6" y="5" width="1.6" height="1.6" fill="#f9ede6"/>
<rect x="7" y="5" width="1.6" height="1.6" fill="#f9ede6"/>
<rect x="8" y="5" width="1.6" height="1.6" fill="#f9ede6"/>
<rect x="9" y="5" width="1.6" height="1.6" fill="#f9ede6"/>
<rect x="10" y="5" width="1.6" height="1.6" fill="#f9ede6"/>
<rect x="11" y="5" width="1.6" height="1.6" fill="#f9ede6"/>
<rect x="0" y="6" width="1.6" height="1.6" fill="#fcd6c1"/>
<rect x="1" y="6" width="1.6" height="1.6" fill="#fbe5d8"/>
<rect x="2" y="6" width="1.6" height="1.6" fill="#f8f0ec"/>
<rect x="3" y="6" width="1.6" height="1.6" fill="#f8f2ef"/>
<rect x="4" y="6" width="1.6" height="1.6" fill="#faeae1"/>
<rect x="5" y="6" width="1.6" height="1.6" fill="#fddcc8"/>
<rect x="6" y="6" width="1.6" height="1.6" fill="#f9ede6"/>
<rect x="7" y="6" width="1.6" height="1.6" fill="#f9ede6"/>
<rect x="8" y="6" width="1.6" height="1.6" fill="#f9ede6"/>
<rect x="9" y="6" width="1.6" height="1.6" fill="#f9ede6"/>
<rect x="10" y="6" width="1.6" height="1.6" fill="#f9ede6"/>
<rect x="11" y="6" width="1.6" height="1.6" fill="#f9ede6"/>
<rect x="0" y="7" width="1.6" height="1.6" fill="#fdddca"/>
<rect x="1" y="7" width="1.6" height="1.6" fill="#faebe3"/>
<rect x="2" y="7" width="1.6" height="1.6" fill="#f8f3f0"/>
<rect x="3" y="7" width="1.6" height="1.6" fill="#f9f0eb"/>
<rect x="4" y="7" width="1.6" height="1.6" fill="#fbe4d7"/>
<rect x="5" y="7" width="1.6" height="1.6" fill="#fcd8c3"/>
<rect x="6" y="7" width="1.6" height="1.6" fill="#fbd1ba"/>
<rect x="7" y="7" width="1.6" height="1.6" fill="#fcd3bc"/>
<rect x="8" y="7" width="1.6" height="1.6" fill="#fddbc7"/>
<rect x="9" y="7" width="1.6" height="1.6" fill="#fae8dd"/>
<rect x="10" y="7" width="1.6" height="1.6" fill="#f8f1ed"/>
<rect x="11" y="7" width="1.6" height="1.6" fill="#f8f2ef"/>
<rect x="0" y="8" width="1.6" height="1.6" fill="#e8896d"/>
<rect x="1" y="8" width="1.6" height="1.6" fill="#e8896d"/>
<rect x="2" y="8" width="1.6" height="1.6" fill="#e8896d"/>
<rect x="3" y="8" width="1.6" height="1.6" fill="#f9ece5"/>
<rect x="4" y="8" width="1.6" height="1.6" fill="#fbe5d8"/>
<rect x="5" y="8" width="1.6" height="1.6" fill="#fae8dd"/>
<rect x="6" y="8" width="1.6" height="1.6" fill="#f7f7f6"/>
<rect x="7" y="8" width="1.6" height="1.6" fill="#e9f0f4"/>
<rect x="8" y="8" width="1.6" height="1.6" fill="#ecf2f5"/>
<rect x="9" y="8" width="1.6" height="1.6" fill="#f3f5f6"/>
<rect x="10" y="8" width="1.6" height="1.6" fill="#f7f6f6"/>
<rect x="11" y="8" width="1.6" height="1.6" fill="#f9efea"/>
<rect x="0" y="9" width="1.6" height="1.6" fill="#e27b62"/>
<rect x="1" y="9" width="1.6" height="1.6" fill="#e27b62"/>
<rect x="2" y="9" width="1.6" height="1.6" fill="#e27c62"/>
<rect x="3" y="9" width="1.6" height="1.6" fill="#faeae0"/>
<rect x="4" y="9" width="1.6" height="1.6" fill="#f9f0ea"/>
<rect x="5" y="9" width="1.6" height="1.6" fill="#cae1ee"/>
<rect x="6" y="9" width="1.6" height="1.6" fill="#78b5d5"/>
<rect x="7" y="9" width="1.6" height="1.6" fill="#5da4cc"/>
<rect x="8" y="9" width="1.6" height="1.6" fill="#82bbd9"/>
<rect x="9" y="9" width="1.6" height="1.6" fill="#c5dfec"/>
<rect x="10" y="9" width="1.6" height="1.6" fill="#eff3f5"/>
<rect x="11" y="9" width="1.6" height="1.6" fill="#faebe3"/>
<rect x="0" y="10" width="1.6" height="1.6" fill="#dc6d57"/>
<rect x="1" y="10" width="1.6" height="1.6" fill="#dc6d57"/>
<rect x="2" y="10" width="1.6" height="1.6" fill="#dc6d57"/>
<rect x="3" y="10" width="1.6" height="1.6" fill="#fbe3d5"/>
<rect x="4" y="10" width="1.6" height="1.6" fill="#f9ece5"/>
<rect x="5" y="10" width="1.6" height="1.6" fill="#c2ddec"/>
<rect x="6" y="10" width="1.6" height="1.6" fill="#67aacf"/>
<rect x="7" y="10" width="1.6" height="1.6" fill="#4795c4"/>
<rect x="8" y="10" width="1.6" height="1.6" fill="#71b0d3"/>
<rect x="9" y="10" width="1.6" height="1.6" fill="#bcdaea"/>
<rect x="10" y="10" width="1.6" height="1.6" fill="#f1f4f6"/>
<rect x="11" y="10" width="1.6" height="1.6" fill="#fbe5d7"/>
<rect x="0" y="11" width="1.6" height="1.6" fill="#d55e4c"/>
<rect x="1" y="11" width="1.6" height="1.6" fill="#d55e4c"/>
<rect x="2" y="11" width="1.6" height="1.6" fill="#d55f4c"/>
<rect x="3" y="11" width="1.6" height="1.6" fill="#fdd8c4"/>
<rect x="4" y="11" width="1.6" height="1.6" fill="#fcd7c2"/>
<rect x="5" y="11" width="1.6" height="1.6" fill="#f9ece4"/>
<rect x="6" y="11" width="1.6" height="1.6" fill="#d7e8f1"/>
<rect x="7" y="11" width="1.6" height="1.6" fill="#b9d9e9"/>
<rect x="8" y="11" width="1.6" height="1.6" fill="#c6dfed"/>
<rect x="9" y="11" width="1.6" height="1.6" fill="#e5eff4"/>
<rect x="10" y="11" width="1.6" height="1.6" fill="#f9efe8"/>
<rect x="11" y="11" width="1.6" height="1.6" fill="#fddcc9"/>
<rect x="0" y="12" width="1.6" height="1.6" fill="#cd4e45"/>
<rect x="1" y="12" width="1.6" height="1.6" fill="#cd4e45"/>
<rect x="2" y="12" width="1.6" height="1.6" fill="#cd4e45"/>
<rect x="3" y="12" width="1.6" height="1.6" fill="#fbd1ba"/>
<rect x="4" y="12" width="1.6" height="1.6" fill="#fbcdb5"/>
<rect x="5" y="12" width="1.6" height="1.6" fill="#fcd4bf"/>
<rect x="6" y="12" width="1.6" height="1.6" fill="#fbe5d8"/>
<rect x="7" y="12" width="1.6" height="1.6" fill="#f8f4f1"/>
<rect x="8" y="12" width="1.6" height="1.6" fill="#f5f6f7"/>
<rect x="9" y="12" width="1.6" height="1.6" fill="#f8f2ee"/>
<rect x="10" y="12" width="1.6" height="1.6" fill="#fbe4d6"/>
<rect x="11" y="12" width="1.6" height="1.6" fill="#fcd5bf"/>
<rect x="0" y="13" width="1.6" height="1.6" fill="#c53e3d"/>
<rect x="1" y="13" width="1.6" height="1.6" fill="#c53e3d"/>
<rect x="2" y="13" width="1.6" height="1.6" fill="#c53e3d"/>
<rect x="3" y="13" width="1.6" height="1.6" fill="#fbcdb5"/>
<rect x="4" y="13" width="1.6" height="1.6" fill="#fbccb4"/>
<rect x="5" y="13" width="1.6" height="1.6" fill="#fcd6c1"/>
<rect x="6" y="13" width="1.6" height="1.6" fill="#fbe5d7"/>
<rect x="7" y="13" width="1.6" height="1.6" fill="#f8f0ec"/>
<rect x="8" y="13" width="1.6" height="1.6" fill="#f8f3f0"/>
<rect x="9" y="13" width="1.6" height="1.6" fill="#faebe2"/>
<rect x="10" y="13" width="1.6" height="1.6" fill="#fddcc9"/>
<rect x="11" y="13" width="1.6" height="1.6" fill="#fbd0b9"/>
</symbol>
<symbol id="hin5" viewBox="0 0 12 14" preserveAspectRatio="none">
<rect x="0" y="0" width="1.6" height="1.6" fill="#fbe3d4"/>
<rect x="1" y="0" width="1.6" height="1.6" fill="#fbe3d4"/>
<rect x="2" y="0" width="1.6" height="1.6" fill="#fbe3d4"/>
<rect x="3" y="0" width="1.6" height="1.6" fill="#fbe3d4"/>
<rect x="4" y="0" width="1.6" height="1.6" fill="#fbe3d4"/>
<rect x="5" y="0" width="1.6" height="1.6" fill="#f8bb9e"/>
<rect x="6" y="0" width="1.6" height="1.6" fill="#f8bb9e"/>
<rect x="7" y="0" width="1.6" height="1.6" fill="#f8bb9e"/>
<rect x="8" y="0" width="1.6" height="1.6" fill="#f8bb9f"/>
<rect x="9" y="0" width="1.6" height="1.6" fill="#f8bc9f"/>
<rect x="10" y="0" width="1.6" height="1.6" fill="#f8bc9f"/>
<rect x="11" y="0" width="1.6" height="1.6" fill="#f8bc9f"/>
<rect x="0" y="1" width="1.6" height="1.6" fill="#fbe3d5"/>
<rect x="1" y="1" width="1.6" height="1.6" fill="#fbe3d5"/>
<rect x="2" y="1" width="1.6" height="1.6" fill="#fbe3d4"/>
<rect x="3" y="1" width="1.6" height="1.6" fill="#fbe3d4"/>
<rect x="4" y="1" width="1.6" height="1.6" fill="#fbe3d4"/>
<rect x="5" y="1" width="1.6" height="1.6" fill="#f7b89a"/>
<rect x="6" y="1" width="1.6" height="1.6" fill="#f7b99b"/>
<rect x="7" y="1" width="1.6" height="1.6" fill="#f7ba9d"/>
<rect x="8" y="1" width="1.6" height="1.6" fill="#f8bb9e"/>
<rect x="9" y="1" width="1.6" height="1.6" fill="#f8bb9f"/>
<rect x="10" y="1" width="1.6" height="1.6" fill="#f8bc9f"/>
<rect x="11" y="1" width="1.6" height="1.6" fill="#f8bc9f"/>
<rect x="0" y="2" width="1.6" height="1.6" fill="#f8bda1"/>
<rect x="1" y="2" width="1.6" height="1.6" fill="#f8bb9e"/>
<rect x="2" y="2" width="1.6" height="1.6" fill="#f7b99c"/>
<rect x="3" y="2" width="1.6" height="1.6" fill="#f7b698"/>
<rect x="4" y="2" width="1.6" height="1.6" fill="#f6b394"/>
<rect x="5" y="2" width="1.6" height="1.6" fill="#f6b293"/>
<rect x="6" y="2" width="1.6" height="1.6" fill="#f6b495"/>
<rect x="7" y="2" width="1.6" height="1.6" fill="#f7b799"/>
<rect x="8" y="2" width="1.6" height="1.6" fill="#f7ba9c"/>
<rect x="9" y="2" width="1.6" height="1.6" fill="#f8bb9e"/>
<rect x="10" y="2" width="1.6" height="1.6" fill="#f8bc9f"/>
<rect x="11" y="2" width="1.6" height="1.6" fill="#f8bc9f"/>
<rect x="0" y="3" width="1.6" height="1.6" fill="#f9c3a9"/>
<rect x="1" y="3" width="1.6" height="1.6" fill="#f8bc9f"/>
<rect x="2" y="3" width="1.6" height="1.6" fill="#f7b698"/>
<rect x="3" y="3" width="1.6" height="1.6" fill="#f6b090"/>
<rect x="4" y="3" width="1.6" height="1.6" fill="#f5aa88"/>
<rect x="5" y="3" width="1.6" height="1.6" fill="#f4a885"/>
<rect x="6" y="3" width="1.6" height="1.6" fill="#f5ab8a"/>
<rect x="7" y="3" width="1.6" height="1.6" fill="#f6b292"/>
<rect x="8" y="3" width="1.6" height="1.6" fill="#f7b799"/>
<rect x="9" y="3" width="1.6" height="1.6" fill="#f8ba9d"/>
<rect x="10" y="3" width="1.6" height="1.6" fill="#f8bc9f"/>
<rect x="11" y="3" width="1.6" height="1.6" fill="#f8bda1"/>
<rect x="0" y="4" width="1.6" height="1.6" fill="#fdd9c4"/>
<rect x="1" y="4" width="1.6" height="1.6" fill="#f8bfa4"/>
<rect x="2" y="4" width="1.6" height="1.6" fill="#f6b394"/>
<rect x="3" y="4" width="1.6" height="1.6" fill="#f5a886"/>
<rect x="4" y="4" width="1.6" height="1.6" fill="#f19e7c"/>
<rect x="5" y="4" width="1.6" height="1.6" fill="#ef9a79"/>
<rect x="6" y="4" width="1.6" height="1.6" fill="#f2a07e"/>
<rect x="7" y="4" width="1.6" height="1.6" fill="#f5ab8a"/>
<rect x="8" y="4" width="1.6" height="1.6" fill="#f7b596"/>
<rect x="9" y="4" width="1.6" height="1.6" fill="#f8bb9f"/>
<rect x="10" y="4" width="1.6" height="1.6" fill="#f9c0a5"/>
<rect x="11" y="4" width="1.6" height="1.6" fill="#fac7ad"/>
<rect x="0" y="5" width="1.6" height="1.6" fill="#deebf2"/>
<rect x="1" y="5" width="1.6" height="1.6" fill="#fac9b0"/>
<rect x="2" y="5" width="1.6" height="1.6" fill="#f6b090"/>
<rect x="3" y="5" width="1.6" height="1.6" fill="#f3a27f"/>
<rect x="4" y="5" width="1.6" height="1.6" fill="#ec9475"/>
<rect x="5" y="5" width="1.6" height="1.6" fill="#ea8f71"/>
<rect x="6" y="5" width="1.6" height="1.6" fill="#ee9777"/>
<rect x="7" y="5" width="1.6" height="1.6" fill="#f5a886"/>
<rect x="8" y="5" width="1.6" height="1.6" fill="#f7b99b"/>
<rect x="9" y="5" width="1.6" height="1.6" fill="#fac7ae"/>
<rect x="10" y="5" width="1.6" height="1.6" fill="#fcd7c2"/>
<rect x="11" y="5" width="1.6" height="1.6" fill="#f9ede6"/>
<rect x="0" y="6" width="1.6" height="1.6" fill="#81bbd8"/>
<rect x="1" y="6" width="1.6" height="1.6" fill="#fcd8c3"/>
<rect x="2" y="6" width="1.6" height="1.6" fill="#f6b08f"/>
<rect x="3" y="6" width="1.6" height="1.6" fill="#f2a07e"/>
<rect x="4" y="6" width="1.6" height="1.6" fill="#ec9374"/>
<rect x="5" y="6" width="1.6" height="1.6" fill="#eb9072"/>
<rect x="6" y="6" width="1.6" height="1.6" fill="#f19e7c"/>
<rect x="7" y="6" width="1.6" height="1.6" fill="#f7b89a"/>
<rect x="8" y="6" width="1.6" height="1.6" fill="#fcd5c0"/>
<rect x="9" y="6" width="1.6" height="1.6" fill="#f7f6f5"/>
<rect x="10" y="6" width="1.6" height="1.6" fill="#c7e0ed"/>
<rect x="11" y="6" width="1.6" height="1.6" fill="#8ec3dd"/>
<rect x="0" y="7" width="1.6" height="1.6" fill="#539dc8"/>
<rect x="1" y="7" width="1.6" height="1.6" fill="#fce2d3"/>
<rect x="2" y="7" width="1.6" height="1.6" fill="#f6b292"/>
<rect x="3" y="7" width="1.6" height="1.6" fill="#f4a481"/>
<rect x="4" y="7" width="1.6" height="1.6" fill="#f4a583"/>
<rect x="5" y="7" width="1.6" height="1.6" fill="#f5ad8d"/>
<rect x="6" y="7" width="1.6" height="1.6" fill="#fac8af"/>
<rect x="7" y="7" width="1.6" height="1.6" fill="#f8f2ee"/>
<rect x="8" y="7" width="1.6" height="1.6" fill="#bbdaea"/>
<rect x="9" y="7" width="1.6" height="1.6" fill="#7eb8d7"/>
<rect x="10" y="7" width="1.6" height="1.6" fill="#539dc8"/>
<rect x="11" y="7" width="1.6" height="1.6" fill="#3d8bbf"/>
<rect x="0" y="8" width="1.6" height="1.6" fill="#68aad0"/>
<rect x="1" y="8" width="1.6" height="1.6" fill="#fcdfcd"/>
<rect x="2" y="8" width="1.6" height="1.6" fill="#f7b597"/>
<rect x="3" y="8" width="1.6" height="1.6" fill="#f5ac8a"/>
<rect x="4" y="8" width="1.6" height="1.6" fill="#fdddca"/>
<rect x="5" y="8" width="1.6" height="1.6" fill="#f3f5f6"/>
<rect x="6" y="8" width="1.6" height="1.6" fill="#b7d8e9"/>
<rect x="7" y="8" width="1.6" height="1.6" fill="#78b4d5"/>
<rect x="8" y="8" width="1.6" height="1.6" fill="#4a98c6"/>
<rect x="9" y="8" width="1.6" height="1.6" fill="#3b88be"/>
<rect x="10" y="8" width="1.6" height="1.6" fill="#3a87bd"/>
<rect x="11" y="8" width="1.6" height="1.6" fill="#4292c2"/>
<rect x="0" y="9" width="1.6" height="1.6" fill="#b7d8e8"/>
<rect x="1" y="9" width="1.6" height="1.6" fill="#fbd2bb"/>
<rect x="2" y="9" width="1.6" height="1.6" fill="#f7b89b"/>
<rect x="3" y="9" width="1.6" height="1.6" fill="#f6b394"/>
<rect x="4" y="9" width="1.6" height="1.6" fill="#8ec3dd"/>
<rect x="5" y="9" width="1.6" height="1.6" fill="#67aacf"/>
<rect x="6" y="9" width="1.6" height="1.6" fill="#4695c4"/>
<rect x="7" y="9" width="1.6" height="1.6" fill="#3d8bbf"/>
<rect x="8" y="9" width="1.6" height="1.6" fill="#3e8dc0"/>
<rect x="9" y="9" width="1.6" height="1.6" fill="#509bc8"/>
<rect x="10" y="9" width="1.6" height="1.6" fill="#77b4d5"/>
<rect x="11" y="9" width="1.6" height="1.6" fill="#a8d0e4"/>
<rect x="0" y="10" width="1.6" height="1.6" fill="#fae9e0"/>
<rect x="1" y="10" width="1.6" height="1.6" fill="#f9c6ac"/>
<rect x="2" y="10" width="1.6" height="1.6" fill="#f8ba9d"/>
<rect x="3" y="10" width="1.6" height="1.6" fill="#f7b89a"/>
<rect x="4" y="10" width="1.6" height="1.6" fill="#3d8cbf"/>
<rect x="5" y="10" width="1.6" height="1.6" fill="#3d8abf"/>
<rect x="6" y="10" width="1.6" height="1.6" fill="#4494c3"/>
<rect x="7" y="10" width="1.6" height="1.6" fill="#64a8ce"/>
<rect x="8" y="10" width="1.6" height="1.6" fill="#8cc1dc"/>
<rect x="9" y="10" width="1.6" height="1.6" fill="#c2ddec"/>
<rect x="10" y="10" width="1.6" height="1.6" fill="#f0f4f6"/>
<rect x="11" y="10" width="1.6" height="1.6" fill="#fbe2d3"/>
<rect x="0" y="11" width="1.6" height="1.6" fill="#db6b56"/>
<rect x="1" y="11" width="1.6" height="1.6" fill="#db6b56"/>
<rect x="2" y="11" width="1.6" height="1.6" fill="#db6b56"/>
<rect x="3" y="11" width="1.6" height="1.6" fill="#f8ba9d"/>
<rect x="4" y="11" width="1.6" height="1.6" fill="#4e9ac7"/>
<rect x="5" y="11" width="1.6" height="1.6" fill="#75b3d4"/>
<rect x="6" y="11" width="1.6" height="1.6" fill="#a5cfe3"/>
<rect x="7" y="11" width="1.6" height="1.6" fill="#dae9f2"/>
<rect x="8" y="11" width="1.6" height="1.6" fill="#f9efe9"/>
<rect x="9" y="11" width="1.6" height="1.6" fill="#fdd9c5"/>
<rect x="10" y="11" width="1.6" height="1.6" fill="#faccb3"/>
<rect x="11" y="11" width="1.6" height="1.6" fill="#f9c4a9"/>
<rect x="0" y="12" width="1.6" height="1.6" fill="#d15749"/>
<rect x="1" y="12" width="1.6" height="1.6" fill="#d15749"/>
<rect x="2" y="12" width="1.6" height="1.6" fill="#d15749"/>
<rect x="3" y="12" width="1.6" height="1.6" fill="#f8bb9f"/>
<rect x="4" y="12" width="1.6" height="1.6" fill="#bddbea"/>
<rect x="5" y="12" width="1.6" height="1.6" fill="#edf2f5"/>
<rect x="6" y="12" width="1.6" height="1.6" fill="#fbe4d6"/>
<rect x="7" y="12" width="1.6" height="1.6" fill="#fcd2bc"/>
<rect x="8" y="12" width="1.6" height="1.6" fill="#fac7ae"/>
<rect x="9" y="12" width="1.6" height="1.6" fill="#f9c1a6"/>
<rect x="10" y="12" width="1.6" height="1.6" fill="#f8bea2"/>
<rect x="11" y="12" width="1.6" height="1.6" fill="#f8bda0"/>
<rect x="0" y="13" width="1.6" height="1.6" fill="#c7413e"/>
<rect x="1" y="13" width="1.6" height="1.6" fill="#c7413e"/>
<rect x="2" y="13" width="1.6" height="1.6" fill="#c7413e"/>
<rect x="3" y="13" width="1.6" height="1.6" fill="#f8bc9f"/>
<rect x="4" y="13" width="1.6" height="1.6" fill="#fddbc7"/>
<rect x="5" y="13" width="1.6" height="1.6" fill="#fbcdb5"/>
<rect x="6" y="13" width="1.6" height="1.6" fill="#f9c4aa"/>
<rect x="7" y="13" width="1.6" height="1.6" fill="#f8c0a4"/>
<rect x="8" y="13" width="1.6" height="1.6" fill="#f8bda1"/>
<rect x="9" y="13" width="1.6" height="1.6" fill="#f8bca0"/>
<rect x="10" y="13" width="1.6" height="1.6" fill="#f8bc9f"/>
<rect x="11" y="13" width="1.6" height="1.6" fill="#f8bc9f"/>
</symbol>
<symbol id="hin6" viewBox="0 0 12 14" preserveAspectRatio="none">
<rect x="0" y="0" width="1.6" height="1.6" fill="#f8f3f0"/>
<rect x="1" y="0" width="1.6" height="1.6" fill="#f8f3f0"/>
<rect x="2" y="0" width="1.6" height="1.6" fill="#f8f3f0"/>
<rect x="3" y="0" width="1.6" height="1.6" fill="#f8f3f0"/>
<rect x="4" y="0" width="1.6" height="1.6" fill="#f8f3f0"/>
<rect x="5" y="0" width="1.6" height="1.6" fill="#f8f2ef"/>
<rect x="6" y="0" width="1.6" height="1.6" fill="#f8f1ec"/>
<rect x="7" y="0" width="1.6" height="1.6" fill="#f9efe9"/>
<rect x="8" y="0" width="1.6" height="1.6" fill="#f9eee7"/>
<rect x="9" y="0" width="1.6" height="1.6" fill="#f9eee7"/>
<rect x="10" y="0" width="1.6" height="1.6" fill="#f9efe9"/>
<rect x="11" y="0" width="1.6" height="1.6" fill="#f8f1ec"/>
<rect x="0" y="1" width="1.6" height="1.6" fill="#f8f3f0"/>
<rect x="1" y="1" width="1.6" height="1.6" fill="#f8f3f0"/>
<rect x="2" y="1" width="1.6" height="1.6" fill="#f8f3f0"/>
<rect x="3" y="1" width="1.6" height="1.6" fill="#f8f2ef"/>
<rect x="4" y="1" width="1.6" height="1.6" fill="#f8f1ed"/>
<rect x="5" y="1" width="1.6" height="1.6" fill="#f9efe9"/>
<rect x="6" y="1" width="1.6" height="1.6" fill="#fae9df"/>
<rect x="7" y="1" width="1.6" height="1.6" fill="#fce1d2"/>
<rect x="8" y="1" width="1.6" height="1.6" fill="#fddbc7"/>
<rect x="9" y="1" width="1.6" height="1.6" fill="#fddbc7"/>
<rect x="10" y="1" width="1.6" height="1.6" fill="#fce1d2"/>
<rect x="11" y="1" width="1.6" height="1.6" fill="#fae9e0"/>
<rect x="0" y="2" width="1.6" height="1.6" fill="#f8f3f0"/>
<rect x="1" y="2" width="1.6" height="1.6" fill="#f8f2ef"/>
<rect x="2" y="2" width="1.6" height="1.6" fill="#f8f1ed"/>
<rect x="3" y="2" width="1.6" height="1.6" fill="#f9efea"/>
<rect x="4" y="2" width="1.6" height="1.6" fill="#f9ece5"/>
<rect x="5" y="2" width="1.6" height="1.6" fill="#fbe6d9"/>
<rect x="6" y="2" width="1.6" height="1.6" fill="#fcd8c3"/>
<rect x="7" y="2" width="1.6" height="1.6" fill="#f9c4aa"/>
<rect x="8" y="2" width="1.6" height="1.6" fill="#f7b496"/>
<rect x="9" y="2" width="1.6" height="1.6" fill="#f7b596"/>
<rect x="10" y="2" width="1.6" height="1.6" fill="#f9c5ab"/>
<rect x="11" y="2" width="1.6" height="1.6" fill="#fddac5"/>
<rect x="0" y="3" width="1.6" height="1.6" fill="#f8f2ee"/>
<rect x="1" y="3" width="1.6" height="1.6" fill="#f9efe9"/>
<rect x="2" y="3" width="1.6" height="1.6" fill="#fae9df"/>
<rect x="3" y="3" width="1.6" height="1.6" fill="#fce1d1"/>
<rect x="4" y="3" width="1.6" height="1.6" fill="#fddac5"/>
<rect x="5" y="3" width="1.6" height="1.6" fill="#fbd2bb"/>
<rect x="6" y="3" width="1.6" height="1.6" fill="#f9c1a6"/>
<rect x="7" y="3" width="1.6" height="1.6" fill="#f4a683"/>
<rect x="8" y="3" width="1.6" height="1.6" fill="#ea8e70"/>
<rect x="9" y="3" width="1.6" height="1.6" fill="#ea8f71"/>
<rect x="10" y="3" width="1.6" height="1.6" fill="#f5aa88"/>
<rect x="11" y="3" width="1.6" height="1.6" fill="#facbb3"/>
<rect x="0" y="4" width="1.6" height="1.6" fill="#f9efe9"/>
<rect x="1" y="4" width="1.6" height="1.6" fill="#fbe5d8"/>
<rect x="2" y="4" width="1.6" height="1.6" fill="#fbd1ba"/>
<rect x="3" y="4" width="1.6" height="1.6" fill="#f7b89a"/>
<rect x="4" y="4" width="1.6" height="1.6" fill="#f4a885"/>
<rect x="5" y="4" width="1.6" height="1.6" fill="#f4a785"/>
<rect x="6" y="4" width="1.6" height="1.6" fill="#f5a987"/>
<rect x="7" y="4" width="1.6" height="1.6" fill="#f19d7c"/>
<rect x="8" y="4" width="1.6" height="1.6" fill="#ea8f71"/>
<rect x="9" y="4" width="1.6" height="1.6" fill="#ec9274"/>
<rect x="10" y="4" width="1.6" height="1.6" fill="#f5ad8c"/>
<rect x="11" y="4" width="1.6" height="1.6" fill="#fbcdb5"/>
<rect x="0" y="5" width="1.6" height="1.6" fill="#faeae0"/>
<rect x="1" y="5" width="1.6" height="1.6" fill="#fcd3bd"/>
<rect x="2" y="5" width="1.6" height="1.6" fill="#f4a582"/>
<rect x="3" y="5" width="1.6" height="1.6" fill="#db6a55"/>
<rect x="4" y="5" width="1.6" height="1.6" fill="#ca4841"/>
<rect x="5" y="5" width="1.6" height="1.6" fill="#d45c4b"/>
<rect x="6" y="5" width="1.6" height="1.6" fill="#e7886c"/>
<rect x="7" y="5" width="1.6" height="1.6" fill="#f4a784"/>
<rect x="8" y="5" width="1.6" height="1.6" fill="#f6b192"/>
<rect x="9" y="5" width="1.6" height="1.6" fill="#f7ba9d"/>
<rect x="10" y="5" width="1.6" height="1.6" fill="#facab2"/>
<rect x="11" y="5" width="1.6" height="1.6" fill="#fcdecd"/>
<rect x="0" y="6" width="1.6" height="1.6" fill="#fbe5d8"/>
<rect x="1" y="6" width="1.6" height="1.6" fill="#f9c3a8"/>
<rect x="2" y="6" width="1.6" height="1.6" fill="#e27c62"/>
<rect x="3" y="6" width="1.6" height="1.6" fill="#b31b2c"/>
<rect x="4" y="6" width="1.6" height="1.6" fill="#7c0722"/>
<rect x="5" y="6" width="1.6" height="1.6" fill="#a71429"/>
<rect x="6" y="6" width="1.6" height="1.6" fill="#da6a54"/>
<rect x="7" y="6" width="1.6" height="1.6" fill="#f6af8f"/>
<rect x="8" y="6" width="1.6" height="1.6" fill="#fbd0b9"/>
<rect x="9" y="6" width="1.6" height="1.6" fill="#fcdfce"/>
<rect x="10" y="6" width="1.6" height="1.6" fill="#faebe3"/>
<rect x="11" y="6" width="1.6" height="1.6" fill="#f2f5f6"/>
<rect x="0" y="7" width="1.6" height="1.6" fill="#fbe5d8"/>
<rect x="1" y="7" width="1.6" height="1.6" fill="#f9c3a8"/>
<rect x="2" y="7" width="1.6" height="1.6" fill="#e27c62"/>
<rect x="3" y="7" width="1.6" height="1.6" fill="#b41b2c"/>
<rect x="4" y="7" width="1.6" height="1.6" fill="#7d0722"/>
<rect x="5" y="7" width="1.6" height="1.6" fill="#aa152a"/>
<rect x="6" y="7" width="1.6" height="1.6" fill="#de715a"/>
<rect x="7" y="7" width="1.6" height="1.6" fill="#f8bea1"/>
<rect x="8" y="7" width="1.6" height="1.6" fill="#fae8de"/>
<rect x="9" y="7" width="1.6" height="1.6" fill="#eaf1f5"/>
<rect x="10" y="7" width="1.6" height="1.6" fill="#cce2ef"/>
<rect x="11" y="7" width="1.6" height="1.6" fill="#a2cde3"/>
<rect x="0" y="8" width="1.6" height="1.6" fill="#faeae0"/>
<rect x="1" y="8" width="1.6" height="1.6" fill="#fcd3bd"/>
<rect x="2" y="8" width="1.6" height="1.6" fill="#f4a582"/>
<rect x="3" y="8" width="1.6" height="1.6" fill="#db6b55"/>
<rect x="4" y="8" width="1.6" height="1.6" fill="#cb4a43"/>
<rect x="5" y="8" width="1.6" height="1.6" fill="#db6b56"/>
<rect x="6" y="8" width="1.6" height="1.6" fill="#f5ac8b"/>
<rect x="7" y="8" width="1.6" height="1.6" fill="#faeae1"/>
<rect x="8" y="8" width="1.6" height="1.6" fill="#c8e0ed"/>
<rect x="9" y="8" width="1.6" height="1.6" fill="#8fc3dd"/>
<rect x="10" y="8" width="1.6" height="1.6" fill="#65a9cf"/>
<rect x="11" y="8" width="1.6" height="1.6" fill="#4191c2"/>
<rect x="0" y="9" width="1.6" height="1.6" fill="#f9efe9"/>
<rect x="1" y="9" width="1.6" height="1.6" fill="#fbe5d8"/>
<rect x="2" y="9" width="1.6" height="1.6" fill="#fbd1ba"/>
<rect x="3" y="9" width="1.6" height="1.6" fill="#f7b99b"/>
<rect x="4" y="9" width="1.6" height="1.6" fill="#f5ac8b"/>
<rect x="5" y="9" width="1.6" height="1.6" fill="#fdd9c5"/>
<rect x="6" y="9" width="1.6" height="1.6" fill="#dbeaf2"/>
<rect x="7" y="9" width="1.6" height="1.6" fill="#8dc2dc"/>
<rect x="8" y="9" width="1.6" height="1.6" fill="#58a0ca"/>
<rect x="9" y="9" width="1.6" height="1.6" fill="#3b89be"/>
<rect x="10" y="9" width="1.6" height="1.6" fill="#327db8"/>
<rect x="11" y="9" width="1.6" height="1.6" fill="#327cb7"/>
<rect x="0" y="10" width="1.6" height="1.6" fill="#f8f2ee"/>
<rect x="1" y="10" width="1.6" height="1.6" fill="#f9efe9"/>
<rect x="2" y="10" width="1.6" height="1.6" fill="#fae9df"/>
<rect x="3" y="10" width="1.6" height="1.6" fill="#fbe2d3"/>
<rect x="4" y="10" width="1.6" height="1.6" fill="#fcdecd"/>
<rect x="5" y="10" width="1.6" height="1.6" fill="#7db7d7"/>
<rect x="6" y="10" width="1.6" height="1.6" fill="#4e9ac7"/>
<rect x="7" y="10" width="1.6" height="1.6" fill="#3885bc"/>
<rect x="8" y="10" width="1.6" height="1.6" fill="#317cb7"/>
<rect x="9" y="10" width="1.6" height="1.6" fill="#3580b9"/>
<rect x="10" y="10" width="1.6" height="1.6" fill="#4090c1"/>
<rect x="11" y="10" width="1.6" height="1.6" fill="#63a7ce"/>
<rect x="0" y="11" width="1.6" height="1.6" fill="#f8f3f0"/>
<rect x="1" y="11" width="1.6" height="1.6" fill="#f8f2ef"/>
<rect x="2" y="11" width="1.6" height="1.6" fill="#f8f1ed"/>
<rect x="3" y="11" width="1.6" height="1.6" fill="#f9f0eb"/>
<rect x="4" y="11" width="1.6" height="1.6" fill="#f9efea"/>
<rect x="5" y="11" width="1.6" height="1.6" fill="#347fb9"/>
<rect x="6" y="11" width="1.6" height="1.6" fill="#327db8"/>
<rect x="7" y="11" width="1.6" height="1.6" fill="#3a87bd"/>
<rect x="8" y="11" width="1.6" height="1.6" fill="#4e9ac7"/>
<rect x="9" y="11" width="1.6" height="1.6" fill="#75b3d4"/>
<rect x="10" y="11" width="1.6" height="1.6" fill="#9ecbe1"/>
<rect x="11" y="11" width="1.6" height="1.6" fill="#c5dfed"/>
<rect x="0" y="12" width="1.6" height="1.6" fill="#f8f3f0"/>
<rect x="1" y="12" width="1.6" height="1.6" fill="#f8f3f0"/>
<rect x="2" y="12" width="1.6" height="1.6" fill="#f8f3f0"/>
<rect x="3" y="12" width="1.6" height="1.6" fill="#f8f3ef"/>
<rect x="4" y="12" width="1.6" height="1.6" fill="#f8f3ef"/>
<rect x="5" y="12" width="1.6" height="1.6" fill="#3f8ec0"/>
<rect x="6" y="12" width="1.6" height="1.6" fill="#5fa5cd"/>
<rect x="7" y="12" width="1.6" height="1.6" fill="#87beda"/>
<rect x="8" y="12" width="1.6" height="1.6" fill="#b1d5e7"/>
<rect x="9" y="12" width="1.6" height="1.6" fill="#d3e6f0"/>
<rect x="10" y="12" width="1.6" height="1.6" fill="#e7eff4"/>
<rect x="11" y="12" width="1.6" height="1.6" fill="#f3f5f6"/>
<rect x="0" y="13" width="1.6" height="1.6" fill="#f8f3f0"/>
<rect x="1" y="13" width="1.6" height="1.6" fill="#f8f3f0"/>
<rect x="2" y="13" width="1.6" height="1.6" fill="#f8f3f0"/>
<rect x="3" y="13" width="1.6" height="1.6" fill="#f8f3f0"/>
<rect x="4" y="13" width="1.6" height="1.6" fill="#f8f3f0"/>
<rect x="5" y="13" width="1.6" height="1.6" fill="#99c8e0"/>
<rect x="6" y="13" width="1.6" height="1.6" fill="#c2ddec"/>
<rect x="7" y="13" width="1.6" height="1.6" fill="#ddebf2"/>
<rect x="8" y="13" width="1.6" height="1.6" fill="#edf2f5"/>
<rect x="9" y="13" width="1.6" height="1.6" fill="#f6f6f7"/>
<rect x="10" y="13" width="1.6" height="1.6" fill="#f7f5f3"/>
<rect x="11" y="13" width="1.6" height="1.6" fill="#f8f4f1"/>
</symbol>
<symbol id="hleg" viewBox="0 0 12 14" preserveAspectRatio="none">
<rect x="0" y="0" width="1.6" height="1.6" fill="#94c6df"/>
<rect x="1" y="0" width="1.6" height="1.6" fill="#94c6df"/>
<rect x="2" y="0" width="1.6" height="1.6" fill="#94c6df"/>
<rect x="3" y="0" width="1.6" height="1.6" fill="#94c6df"/>
<rect x="4" y="0" width="1.6" height="1.6" fill="#94c6df"/>
<rect x="5" y="0" width="1.6" height="1.6" fill="#f9c3a9"/>
<rect x="6" y="0" width="1.6" height="1.6" fill="#f6b090"/>
<rect x="7" y="0" width="1.6" height="1.6" fill="#f5ab8a"/>
<rect x="8" y="0" width="1.6" height="1.6" fill="#f7b99c"/>
<rect x="9" y="0" width="1.6" height="1.6" fill="#fbe3d5"/>
<rect x="10" y="0" width="1.6" height="1.6" fill="#fbe3d5"/>
<rect x="11" y="0" width="1.6" height="1.6" fill="#fbe3d5"/>
<rect x="0" y="1" width="1.6" height="1.6" fill="#f6b495"/>
<rect x="1" y="1" width="1.6" height="1.6" fill="#f5aa89"/>
<rect x="2" y="1" width="1.6" height="1.6" fill="#f7b597"/>
<rect x="3" y="1" width="1.6" height="1.6" fill="#fac9b0"/>
<rect x="4" y="1" width="1.6" height="1.6" fill="#fbd0b9"/>
<rect x="5" y="1" width="1.6" height="1.6" fill="#f9c3a9"/>
<rect x="6" y="1" width="1.6" height="1.6" fill="#f6b090"/>
<rect x="7" y="1" width="1.6" height="1.6" fill="#f5ab8a"/>
<rect x="8" y="1" width="1.6" height="1.6" fill="#fbe3d5"/>
<rect x="9" y="1" width="1.6" height="1.6" fill="#fbe3d5"/>
<rect x="10" y="1" width="1.6" height="1.6" fill="#fbe3d5"/>
<rect x="11" y="1" width="1.6" height="1.6" fill="#f7f7f7"/>
<rect x="0" y="2" width="1.6" height="1.6" fill="#f6b495"/>
<rect x="1" y="2" width="1.6" height="1.6" fill="#f5aa89"/>
<rect x="2" y="2" width="1.6" height="1.6" fill="#f7b597"/>
<rect x="3" y="2" width="1.6" height="1.6" fill="#fac9b0"/>
<rect x="4" y="2" width="1.6" height="1.6" fill="#fbd0b9"/>
<rect x="5" y="2" width="1.6" height="1.6" fill="#f9c3a9"/>
<rect x="6" y="2" width="1.6" height="1.6" fill="#f6b090"/>
<rect x="7" y="2" width="1.6" height="1.6" fill="#fbe3d5"/>
<rect x="8" y="2" width="1.6" height="1.6" fill="#fbe3d5"/>
<rect x="9" y="2" width="1.6" height="1.6" fill="#fbe3d5"/>
<rect x="10" y="2" width="1.6" height="1.6" fill="#f7f7f7"/>
<rect x="11" y="2" width="1.6" height="1.6" fill="#f7f7f7"/>
<rect x="0" y="3" width="1.6" height="1.6" fill="#f6b495"/>
<rect x="1" y="3" width="1.6" height="1.6" fill="#f5aa89"/>
<rect x="2" y="3" width="1.6" height="1.6" fill="#f7b597"/>
<rect x="3" y="3" width="1.6" height="1.6" fill="#fac9b0"/>
<rect x="4" y="3" width="1.6" height="1.6" fill="#fbd0b9"/>
<rect x="5" y="3" width="1.6" height="1.6" fill="#f9c3a9"/>
<rect x="6" y="3" width="1.6" height="1.6" fill="#fbe3d5"/>
<rect x="7" y="3" width="1.6" height="1.6" fill="#fbe3d5"/>
<rect x="8" y="3" width="1.6" height="1.6" fill="#fbe3d5"/>
<rect x="9" y="3" width="1.6" height="1.6" fill="#f7f7f7"/>
<rect x="10" y="3" width="1.6" height="1.6" fill="#f7f7f7"/>
<rect x="11" y="3" width="1.6" height="1.6" fill="#f7f7f7"/>
<rect x="0" y="4" width="1.6" height="1.6" fill="#f6b495"/>
<rect x="1" y="4" width="1.6" height="1.6" fill="#f5aa89"/>
<rect x="2" y="4" width="1.6" height="1.6" fill="#f7b597"/>
<rect x="3" y="4" width="1.6" height="1.6" fill="#fac8af"/>
<rect x="4" y="4" width="1.6" height="1.6" fill="#fbd0b8"/>
<rect x="5" y="4" width="1.6" height="1.6" fill="#fbe3d5"/>
<rect x="6" y="4" width="1.6" height="1.6" fill="#fbe3d5"/>
<rect x="7" y="4" width="1.6" height="1.6" fill="#fbe3d5"/>
<rect x="8" y="4" width="1.6" height="1.6" fill="#f7f7f7"/>
<rect x="9" y="4" width="1.6" height="1.6" fill="#f7f7f7"/>
<rect x="10" y="4" width="1.6" height="1.6" fill="#f7f7f7"/>
<rect x="11" y="4" width="1.6" height="1.6" fill="#f7f7f7"/>
<rect x="0" y="5" width="1.6" height="1.6" fill="#f7b698"/>
<rect x="1" y="5" width="1.6" height="1.6" fill="#f5ab8a"/>
<rect x="2" y="5" width="1.6" height="1.6" fill="#f6b292"/>
<rect x="3" y="5" width="1.6" height="1.6" fill="#f8bda1"/>
<rect x="4" y="5" width="1.6" height="1.6" fill="#fcdecc"/>
<rect x="5" y="5" width="1.6" height="1.6" fill="#fbe3d5"/>
<rect x="6" y="5" width="1.6" height="1.6" fill="#fbe3d5"/>
<rect x="7" y="5" width="1.6" height="1.6" fill="#f7f7f7"/>
<rect x="8" y="5" width="1.6" height="1.6" fill="#f7f7f7"/>
<rect x="9" y="5" width="1.6" height="1.6" fill="#f7f7f7"/>
<rect x="10" y="5" width="1.6" height="1.6" fill="#f7f7f7"/>
<rect x="11" y="5" width="1.6" height="1.6" fill="#f7f7f7"/>
<rect x="0" y="6" width="1.6" height="1.6" fill="#fac6ad"/>
<rect x="1" y="6" width="1.6" height="1.6" fill="#f6af8f"/>
<rect x="2" y="6" width="1.6" height="1.6" fill="#f4a784"/>
<rect x="3" y="6" width="1.6" height="1.6" fill="#f7b495"/>
<rect x="4" y="6" width="1.6" height="1.6" fill="#fbcdb6"/>
<rect x="5" y="6" width="1.6" height="1.6" fill="#fce2d3"/>
<rect x="6" y="6" width="1.6" height="1.6" fill="#f7f7f7"/>
<rect x="7" y="6" width="1.6" height="1.6" fill="#f7f7f7"/>
<rect x="8" y="6" width="1.6" height="1.6" fill="#f7f7f7"/>
<rect x="9" y="6" width="1.6" height="1.6" fill="#f7f7f7"/>
<rect x="10" y="6" width="1.6" height="1.6" fill="#f7f7f7"/>
<rect x="11" y="6" width="1.6" height="1.6" fill="#f7f7f7"/>
<rect x="0" y="7" width="1.6" height="1.6" fill="#f1f4f6"/>
<rect x="1" y="7" width="1.6" height="1.6" fill="#f8bea2"/>
<rect x="2" y="7" width="1.6" height="1.6" fill="#fcd5c0"/>
<rect x="3" y="7" width="1.6" height="1.6" fill="#f7b496"/>
<rect x="4" y="7" width="1.6" height="1.6" fill="#fbceb6"/>
<rect x="5" y="7" width="1.6" height="1.6" fill="#f7f6f5"/>
<rect x="6" y="7" width="1.6" height="1.6" fill="#f7f7f7"/>
<rect x="7" y="7" width="1.6" height="1.6" fill="#f7f7f7"/>
<rect x="8" y="7" width="1.6" height="1.6" fill="#f7f7f7"/>
<rect x="9" y="7" width="1.6" height="1.6" fill="#f7f7f7"/>
<rect x="10" y="7" width="1.6" height="1.6" fill="#f7f7f7"/>
<rect x="11" y="7" width="1.6" height="1.6" fill="#f7f7f7"/>
<rect x="0" y="8" width="1.6" height="1.6" fill="#8ac0db"/>
<rect x="1" y="8" width="1.6" height="1.6" fill="#d8e8f1"/>
<rect x="2" y="8" width="1.6" height="1.6" fill="#fbe2d3"/>
<rect x="3" y="8" width="1.6" height="1.6" fill="#fddac6"/>
<rect x="4" y="8" width="1.6" height="1.6" fill="#f7f7f6"/>
<rect x="5" y="8" width="1.6" height="1.6" fill="#f0f4f6"/>
<rect x="6" y="8" width="1.6" height="1.6" fill="#f3f5f6"/>
<rect x="7" y="8" width="1.6" height="1.6" fill="#f6f7f7"/>
<rect x="8" y="8" width="1.6" height="1.6" fill="#f7f7f7"/>
<rect x="9" y="8" width="1.6" height="1.6" fill="#f7f7f7"/>
<rect x="10" y="8" width="1.6" height="1.6" fill="#f7f7f7"/>
<rect x="11" y="8" width="1.6" height="1.6" fill="#f7f7f7"/>
<rect x="0" y="9" width="1.6" height="1.6" fill="#4896c5"/>
<rect x="1" y="9" width="1.6" height="1.6" fill="#d4e6f0"/>
<rect x="2" y="9" width="1.6" height="1.6" fill="#fae9df"/>
<rect x="3" y="9" width="1.6" height="1.6" fill="#e3eef3"/>
<rect x="4" y="9" width="1.6" height="1.6" fill="#cce2ef"/>
<rect x="5" y="9" width="1.6" height="1.6" fill="#cae1ee"/>
<rect x="6" y="9" width="1.6" height="1.6" fill="#e0ecf3"/>
<rect x="7" y="9" width="1.6" height="1.6" fill="#f1f4f6"/>
<rect x="8" y="9" width="1.6" height="1.6" fill="#f6f7f7"/>
<rect x="9" y="9" width="1.6" height="1.6" fill="#f7f7f7"/>
<rect x="10" y="9" width="1.6" height="1.6" fill="#f7f7f7"/>
<rect x="11" y="9" width="1.6" height="1.6" fill="#f7f7f7"/>
<rect x="0" y="10" width="1.6" height="1.6" fill="#94c6df"/>
<rect x="1" y="10" width="1.6" height="1.6" fill="#d2e6f0"/>
<rect x="2" y="10" width="1.6" height="1.6" fill="#e5eef4"/>
<rect x="3" y="10" width="1.6" height="1.6" fill="#aed3e6"/>
<rect x="4" y="10" width="1.6" height="1.6" fill="#6aacd0"/>
<rect x="5" y="10" width="1.6" height="1.6" fill="#67aacf"/>
<rect x="6" y="10" width="1.6" height="1.6" fill="#a8d0e4"/>
<rect x="7" y="10" width="1.6" height="1.6" fill="#e4eef3"/>
<rect x="8" y="10" width="1.6" height="1.6" fill="#f5f6f7"/>
<rect x="9" y="10" width="1.6" height="1.6" fill="#f7f7f7"/>
<rect x="10" y="10" width="1.6" height="1.6" fill="#f7f7f7"/>
<rect x="11" y="10" width="1.6" height="1.6" fill="#f7f7f7"/>
<rect x="0" y="11" width="1.6" height="1.6" fill="#df755e"/>
<rect x="1" y="11" width="1.6" height="1.6" fill="#e0785f"/>
<rect x="2" y="11" width="1.6" height="1.6" fill="#e98b6e"/>
<rect x="3" y="11" width="1.6" height="1.6" fill="#7bb7d6"/>
<rect x="4" y="11" width="1.6" height="1.6" fill="#2d76b4"/>
<rect x="5" y="11" width="1.6" height="1.6" fill="#2a73b2"/>
<rect x="6" y="11" width="1.6" height="1.6" fill="#73b1d3"/>
<rect x="7" y="11" width="1.6" height="1.6" fill="#d5e7f1"/>
<rect x="8" y="11" width="1.6" height="1.6" fill="#f3f5f6"/>
<rect x="9" y="11" width="1.6" height="1.6" fill="#f7f7f7"/>
<rect x="10" y="11" width="1.6" height="1.6" fill="#f7f7f7"/>
<rect x="11" y="11" width="1.6" height="1.6" fill="#f7f7f7"/>
<rect x="0" y="12" width="1.6" height="1.6" fill="#d45c4b"/>
<rect x="1" y="12" width="1.6" height="1.6" fill="#d55f4c"/>
<rect x="2" y="12" width="1.6" height="1.6" fill="#dd705a"/>
<rect x="3" y="12" width="1.6" height="1.6" fill="#82bbd8"/>
<rect x="4" y="12" width="1.6" height="1.6" fill="#337db8"/>
<rect x="5" y="12" width="1.6" height="1.6" fill="#307ab6"/>
<rect x="6" y="12" width="1.6" height="1.6" fill="#79b5d6"/>
<rect x="7" y="12" width="1.6" height="1.6" fill="#d7e8f1"/>
<rect x="8" y="12" width="1.6" height="1.6" fill="#f3f5f6"/>
<rect x="9" y="12" width="1.6" height="1.6" fill="#f7f7f7"/>
<rect x="10" y="12" width="1.6" height="1.6" fill="#f7f7f7"/>
<rect x="11" y="12" width="1.6" height="1.6" fill="#f7f7f7"/>
<rect x="0" y="13" width="1.6" height="1.6" fill="#c63f3e"/>
<rect x="1" y="13" width="1.6" height="1.6" fill="#c6413e"/>
<rect x="2" y="13" width="1.6" height="1.6" fill="#cb4b43"/>
<rect x="3" y="13" width="1.6" height="1.6" fill="#bcdaea"/>
<rect x="4" y="13" width="1.6" height="1.6" fill="#7fb9d7"/>
<rect x="5" y="13" width="1.6" height="1.6" fill="#7cb7d6"/>
<rect x="6" y="13" width="1.6" height="1.6" fill="#b6d7e8"/>
<rect x="7" y="13" width="1.6" height="1.6" fill="#e7eff4"/>
<rect x="8" y="13" width="1.6" height="1.6" fill="#f5f6f7"/>
<rect x="9" y="13" width="1.6" height="1.6" fill="#f7f7f7"/>
<rect x="10" y="13" width="1.6" height="1.6" fill="#f7f7f7"/>
<rect x="11" y="13" width="1.6" height="1.6" fill="#f7f7f7"/>
</symbol>
<symbol id="hpred" viewBox="0 0 10 16" preserveAspectRatio="none">
<rect x="0" y="0" width="1.6" height="1.6" fill="#f6b293"/>
<rect x="1" y="0" width="1.6" height="1.6" fill="#f6b393"/>
<rect x="2" y="0" width="1.6" height="1.6" fill="#f6b394"/>
<rect x="3" y="0" width="1.6" height="1.6" fill="#f6b394"/>
<rect x="4" y="0" width="1.6" height="1.6" fill="#f6b192"/>
<rect x="5" y="0" width="1.6" height="1.6" fill="#f3a27f"/>
<rect x="6" y="0" width="1.6" height="1.6" fill="#df745c"/>
<rect x="7" y="0" width="1.6" height="1.6" fill="#bc2c35"/>
<rect x="8" y="0" width="1.6" height="1.6" fill="#9f1228"/>
<rect x="9" y="0" width="1.6" height="1.6" fill="#bb2b34"/>
<rect x="0" y="1" width="1.6" height="1.6" fill="#f6b293"/>
<rect x="1" y="1" width="1.6" height="1.6" fill="#f6b393"/>
<rect x="2" y="1" width="1.6" height="1.6" fill="#f6b394"/>
<rect x="3" y="1" width="1.6" height="1.6" fill="#f7b597"/>
<rect x="4" y="1" width="1.6" height="1.6" fill="#f7b597"/>
<rect x="5" y="1" width="1.6" height="1.6" fill="#f4a481"/>
<rect x="6" y="1" width="1.6" height="1.6" fill="#dc6d57"/>
<rect x="7" y="1" width="1.6" height="1.6" fill="#af172a"/>
<rect x="8" y="1" width="1.6" height="1.6" fill="#7d0722"/>
<rect x="9" y="1" width="1.6" height="1.6" fill="#ab162a"/>
<rect x="0" y="2" width="1.6" height="1.6" fill="#f6b293"/>
<rect x="1" y="2" width="1.6" height="1.6" fill="#f6b393"/>
<rect x="2" y="2" width="1.6" height="1.6" fill="#f7b495"/>
<rect x="3" y="2" width="1.6" height="1.6" fill="#f7b99c"/>
<rect x="4" y="2" width="1.6" height="1.6" fill="#f8bfa3"/>
<rect x="5" y="2" width="1.6" height="1.6" fill="#f6b292"/>
<rect x="6" y="2" width="1.6" height="1.6" fill="#e0785f"/>
<rect x="7" y="2" width="1.6" height="1.6" fill="#b41c2d"/>
<rect x="8" y="2" width="1.6" height="1.6" fill="#810823"/>
<rect x="9" y="2" width="1.6" height="1.6" fill="#ad172a"/>
<rect x="0" y="3" width="1.6" height="1.6" fill="#f6b495"/>
<rect x="1" y="3" width="1.6" height="1.6" fill="#f6b495"/>
<rect x="2" y="3" width="1.6" height="1.6" fill="#f7b698"/>
<rect x="3" y="3" width="1.6" height="1.6" fill="#f9c0a5"/>
<rect x="4" y="3" width="1.6" height="1.6" fill="#fbd1ba"/>
<rect x="5" y="3" width="1.6" height="1.6" fill="#fbcdb5"/>
<rect x="6" y="3" width="1.6" height="1.6" fill="#ee9777"/>
<rect x="7" y="3" width="1.6" height="1.6" fill="#c7413e"/>
<rect x="8" y="3" width="1.6" height="1.6" fill="#ab162a"/>
<rect x="9" y="3" width="1.6" height="1.6" fill="#bf3137"/>
<rect x="0" y="4" width="1.6" height="1.6" fill="#f9c3a9"/>
<rect x="1" y="4" width="1.6" height="1.6" fill="#f8c0a4"/>
<rect x="2" y="4" width="1.6" height="1.6" fill="#f8ba9d"/>
<rect x="3" y="4" width="1.6" height="1.6" fill="#faccb4"/>
<rect x="4" y="4" width="1.6" height="1.6" fill="#f9eee8"/>
<rect x="5" y="4" width="1.6" height="1.6" fill="#f4f6f7"/>
<rect x="6" y="4" width="1.6" height="1.6" fill="#f9c5ab"/>
<rect x="7" y="4" width="1.6" height="1.6" fill="#e0765e"/>
<rect x="8" y="4" width="1.6" height="1.6" fill="#cb4a42"/>
<rect x="9" y="4" width="1.6" height="1.6" fill="#d45c4b"/>
<rect x="0" y="5" width="1.6" height="1.6" fill="#faebe2"/>
<rect x="1" y="5" width="1.6" height="1.6" fill="#fddcc9"/>
<rect x="2" y="5" width="1.6" height="1.6" fill="#f9c2a7"/>
<rect x="3" y="5" width="1.6" height="1.6" fill="#fddcc9"/>
<rect x="4" y="5" width="1.6" height="1.6" fill="#cae2ee"/>
<rect x="5" y="5" width="1.6" height="1.6" fill="#9fcbe2"/>
<rect x="6" y="5" width="1.6" height="1.6" fill="#ecf2f5"/>
<rect x="7" y="5" width="1.6" height="1.6" fill="#f5aa89"/>
<rect x="8" y="5" width="1.6" height="1.6" fill="#e37d63"/>
<rect x="9" y="5" width="1.6" height="1.6" fill="#e48166"/>
<rect x="0" y="6" width="1.6" height="1.6" fill="#fbe5d8"/>
<rect x="1" y="6" width="1.6" height="1.6" fill="#fdd9c4"/>
<rect x="2" y="6" width="1.6" height="1.6" fill="#f9c6ac"/>
<rect x="3" y="6" width="1.6" height="1.6" fill="#f8f0eb"/>
<rect x="4" y="6" width="1.6" height="1.6" fill="#84bcd9"/>
<rect x="5" y="6" width="1.6" height="1.6" fill="#4d99c6"/>
<rect x="6" y="6" width="1.6" height="1.6" fill="#92c5de"/>
<rect x="7" y="6" width="1.6" height="1.6" fill="#fcd7c2"/>
<rect x="8" y="6" width="1.6" height="1.6" fill="#f3a27f"/>
<rect x="9" y="6" width="1.6" height="1.6" fill="#f09c7b"/>
<rect x="0" y="7" width="1.6" height="1.6" fill="#f4a683"/>
<rect x="1" y="7" width="1.6" height="1.6" fill="#f5ab8a"/>
<rect x="2" y="7" width="1.6" height="1.6" fill="#f9c3a9"/>
<rect x="3" y="7" width="1.6" height="1.6" fill="#e4eef4"/>
<rect x="4" y="7" width="1.6" height="1.6" fill="#4b98c6"/>
<rect x="5" y="7" width="1.6" height="1.6" fill="#256baf"/>
<rect x="6" y="7" width="1.6" height="1.6" fill="#519cc8"/>
<rect x="7" y="7" width="1.6" height="1.6" fill="#f3f5f6"/>
<rect x="8" y="7" width="1.6" height="1.6" fill="#f7b89b"/>
<rect x="9" y="7" width="1.6" height="1.6" fill="#f5ab89"/>
<rect x="0" y="8" width="1.6" height="1.6" fill="#de725b"/>
<rect x="1" y="8" width="1.6" height="1.6" fill="#e7866a"/>
<rect x="2" y="8" width="1.6" height="1.6" fill="#f9c2a6"/>
<rect x="3" y="8" width="1.6" height="1.6" fill="#cde3ef"/>
<rect x="4" y="8" width="1.6" height="1.6" fill="#327cb7"/>
<rect x="5" y="8" width="1.6" height="1.6" fill="#0d4077"/>
<rect x="6" y="8" width="1.6" height="1.6" fill="#337db8"/>
<rect x="7" y="8" width="1.6" height="1.6" fill="#d2e5f0"/>
<rect x="8" y="8" width="1.6" height="1.6" fill="#f9c4aa"/>
<rect x="9" y="8" width="1.6" height="1.6" fill="#f6b292"/>
<rect x="0" y="9" width="1.6" height="1.6" fill="#cc4d44"/>
<rect x="1" y="9" width="1.6" height="1.6" fill="#dc6d57"/>
<rect x="2" y="9" width="1.6" height="1.6" fill="#f8c0a4"/>
<rect x="3" y="9" width="1.6" height="1.6" fill="#bfdceb"/>
<rect x="4" y="9" width="1.6" height="1.6" fill="#276db0"/>
<rect x="5" y="9" width="1.6" height="1.6" fill="#053061"/>
<rect x="6" y="9" width="1.6" height="1.6" fill="#276eb0"/>
<rect x="7" y="9" width="1.6" height="1.6" fill="#c0dceb"/>
<rect x="8" y="9" width="1.6" height="1.6" fill="#fac9b1"/>
<rect x="9" y="9" width="1.6" height="1.6" fill="#f7b596"/>
<rect x="0" y="10" width="1.6" height="1.6" fill="#bf3237"/>
<rect x="1" y="10" width="1.6" height="1.6" fill="#d45b4b"/>
<rect x="2" y="10" width="1.6" height="1.6" fill="#f8bda1"/>
<rect x="3" y="10" width="1.6" height="1.6" fill="#c0dceb"/>
<rect x="4" y="10" width="1.6" height="1.6" fill="#286fb0"/>
<rect x="5" y="10" width="1.6" height="1.6" fill="#053061"/>
<rect x="6" y="10" width="1.6" height="1.6" fill="#286fb1"/>
<rect x="7" y="10" width="1.6" height="1.6" fill="#c0dceb"/>
<rect x="8" y="10" width="1.6" height="1.6" fill="#facab2"/>
<rect x="9" y="10" width="1.6" height="1.6" fill="#f7b597"/>
<rect x="0" y="11" width="1.6" height="1.6" fill="#bd2d35"/>
<rect x="1" y="11" width="1.6" height="1.6" fill="#d25749"/>
<rect x="2" y="11" width="1.6" height="1.6" fill="#f8ba9d"/>
<rect x="3" y="11" width="1.6" height="1.6" fill="#d1e5f0"/>
<rect x="4" y="11" width="1.6" height="1.6" fill="#3580b9"/>
<rect x="5" y="11" width="1.6" height="1.6" fill="#10457f"/>
<rect x="6" y="11" width="1.6" height="1.6" fill="#3580b9"/>
<rect x="7" y="11" width="1.6" height="1.6" fill="#d0e5f0"/>
<rect x="8" y="11" width="1.6" height="1.6" fill="#fac8af"/>
<rect x="9" y="11" width="1.6" height="1.6" fill="#f7b597"/>
<rect x="0" y="12" width="1.6" height="1.6" fill="#c6403e"/>
<rect x="1" y="12" width="1.6" height="1.6" fill="#d86450"/>
<rect x="2" y="12" width="1.6" height="1.6" fill="#f7b89a"/>
<rect x="3" y="12" width="1.6" height="1.6" fill="#e9f0f4"/>
<rect x="4" y="12" width="1.6" height="1.6" fill="#539dc9"/>
<rect x="5" y="12" width="1.6" height="1.6" fill="#2971b2"/>
<rect x="6" y="12" width="1.6" height="1.6" fill="#539dc9"/>
<rect x="7" y="12" width="1.6" height="1.6" fill="#e9f0f4"/>
<rect x="8" y="12" width="1.6" height="1.6" fill="#f9c4aa"/>
<rect x="9" y="12" width="1.6" height="1.6" fill="#f7b596"/>
<rect x="0" y="13" width="1.6" height="1.6" fill="#d96753"/>
<rect x="1" y="13" width="1.6" height="1.6" fill="#e27a61"/>
<rect x="2" y="13" width="1.6" height="1.6" fill="#f7b799"/>
<rect x="3" y="13" width="1.6" height="1.6" fill="#f9ece5"/>
<rect x="4" y="13" width="1.6" height="1.6" fill="#8dc2dc"/>
<rect x="5" y="13" width="1.6" height="1.6" fill="#549ec9"/>
<rect x="6" y="13" width="1.6" height="1.6" fill="#8dc2dc"/>
<rect x="7" y="13" width="1.6" height="1.6" fill="#f9ede5"/>
<rect x="8" y="13" width="1.6" height="1.6" fill="#f8c0a4"/>
<rect x="9" y="13" width="1.6" height="1.6" fill="#f7b495"/>
<rect x="0" y="14" width="1.6" height="1.6" fill="#f8bea1"/>
<rect x="1" y="14" width="1.6" height="1.6" fill="#f19f7d"/>
<rect x="2" y="14" width="1.6" height="1.6" fill="#f7b698"/>
<rect x="3" y="14" width="1.6" height="1.6" fill="#fdd9c4"/>
<rect x="4" y="14" width="1.6" height="1.6" fill="#d2e5f0"/>
<rect x="5" y="14" width="1.6" height="1.6" fill="#a0cce2"/>
<rect x="6" y="14" width="1.6" height="1.6" fill="#d2e5f0"/>
<rect x="7" y="14" width="1.6" height="1.6" fill="#fdd9c5"/>
<rect x="8" y="14" width="1.6" height="1.6" fill="#f8bb9e"/>
<rect x="9" y="14" width="1.6" height="1.6" fill="#f6b495"/>
<rect x="0" y="15" width="1.6" height="1.6" fill="#b9d9e9"/>
<rect x="1" y="15" width="1.6" height="1.6" fill="#f9c2a7"/>
<rect x="2" y="15" width="1.6" height="1.6" fill="#f7b697"/>
<rect x="3" y="15" width="1.6" height="1.6" fill="#facab1"/>
<rect x="4" y="15" width="1.6" height="1.6" fill="#f9ece4"/>
<rect x="5" y="15" width="1.6" height="1.6" fill="#eaf1f5"/>
<rect x="6" y="15" width="1.6" height="1.6" fill="#f9ece4"/>
<rect x="7" y="15" width="1.6" height="1.6" fill="#facab1"/>
<rect x="8" y="15" width="1.6" height="1.6" fill="#f7b89a"/>
<rect x="9" y="15" width="1.6" height="1.6" fill="#f6b394"/>
</symbol>
<marker id="arB" viewBox="0 0 10 10" refX="9" refY="5" markerWidth="5" markerHeight="5" orient="auto"><path d="M0,0 L10,5 L0,10 z" fill="#4472c4"/></marker>
</defs>
<rect width="1268" height="770" fill="#fff"/>
<path d="M89,505.6 L1162,505.6 A56,57 0 0 1 1217.8,562.6 L1217.8,712 A57,56 0 0 1 1160.8,768.5 L80,768.5 A56.4,61.5 0 0 1 23.6,707 L23.6,565.6 A65.4,60 0 0 1 89,505.6 Z" fill="#ececec" stroke="#8a8a8a" stroke-width="0.9" stroke-dasharray="2,1.5"/>
<g stroke-linecap="round">
<line x1="57.5" y1="95.0" x2="82.6" y2="95.0" stroke="#505050" stroke-width="0.9" />
<line x1="57.5" y1="153.6" x2="82.6" y2="153.6" stroke="#505050" stroke-width="0.9" />
<line x1="57.5" y1="215.4" x2="82.6" y2="215.4" stroke="#505050" stroke-width="0.9" />
<line x1="57.5" y1="276.5" x2="82.6" y2="276.5" stroke="#505050" stroke-width="0.9" />
<line x1="57.5" y1="338.3" x2="82.6" y2="338.3" stroke="#505050" stroke-width="0.9" />
<line x1="57.5" y1="394.0" x2="82.6" y2="394.0" stroke="#505050" stroke-width="0.9" />
<line x1="57.5" y1="452.7" x2="82.6" y2="452.7" stroke="#505050" stroke-width="0.9" />
<line x1="99.4" y1="95.0" x2="137.2" y2="171.0" stroke="#000" stroke-width="0.95" />
<line x1="99.4" y1="95.0" x2="137.2" y2="199.4" stroke="#000" stroke-width="0.95" />
<line x1="99.4" y1="95.0" x2="137.2" y2="227.8" stroke="#000" stroke-width="0.95" />
<line x1="99.4" y1="95.0" x2="137.2" y2="256.2" stroke="#000" stroke-width="0.95" />
<line x1="99.4" y1="95.0" x2="137.2" y2="284.6" stroke="#000" stroke-width="0.95" />
<line x1="99.4" y1="95.0" x2="137.2" y2="313.0" stroke="#000" stroke-width="0.95" />
<line x1="99.4" y1="95.0" x2="137.2" y2="341.4" stroke="#000" stroke-width="0.95" />
<line x1="99.4" y1="95.0" x2="137.2" y2="369.8" stroke="#000" stroke-width="0.95" />
<line x1="99.4" y1="95.0" x2="137.2" y2="398.2" stroke="#000" stroke-width="0.95" />
<line x1="99.4" y1="153.6" x2="137.2" y2="171.0" stroke="#000" stroke-width="0.95" />
<line x1="99.4" y1="153.6" x2="137.2" y2="199.4" stroke="#000" stroke-width="0.95" />
<line x1="99.4" y1="153.6" x2="137.2" y2="227.8" stroke="#000" stroke-width="0.95" />
<line x1="99.4" y1="153.6" x2="137.2" y2="256.2" stroke="#000" stroke-width="0.95" />
<line x1="99.4" y1="153.6" x2="137.2" y2="284.6" stroke="#000" stroke-width="0.95" />
<line x1="99.4" y1="153.6" x2="137.2" y2="313.0" stroke="#000" stroke-width="0.95" />
<line x1="99.4" y1="153.6" x2="137.2" y2="341.4" stroke="#000" stroke-width="0.95" />
<line x1="99.4" y1="153.6" x2="137.2" y2="369.8" stroke="#000" stroke-width="0.95" />
<line x1="99.4" y1="153.6" x2="137.2" y2="398.2" stroke="#000" stroke-width="0.95" />
<line x1="99.4" y1="215.4" x2="137.2" y2="171.0" stroke="#000" stroke-width="0.95" />
<line x1="99.4" y1="215.4" x2="137.2" y2="199.4" stroke="#000" stroke-width="0.95" />
<line x1="99.4" y1="215.4" x2="137.2" y2="227.8" stroke="#000" stroke-width="0.95" />
<line x1="99.4" y1="215.4" x2="137.2" y2="256.2" stroke="#000" stroke-width="0.95" />
<line x1="99.4" y1="215.4" x2="137.2" y2="284.6" stroke="#000" stroke-width="0.95" />
<line x1="99.4" y1="215.4" x2="137.2" y2="313.0" stroke="#000" stroke-width="0.95" />
<line x1="99.4" y1="215.4" x2="137.2" y2="341.4" stroke="#000" stroke-width="0.95" />
<line x1="99.4" y1="215.4" x2="137.2" y2="369.8" stroke="#000" stroke-width="0.95" />
<line x1="99.4" y1="215.4" x2="137.2" y2="398.2" stroke="#000" stroke-width="0.95" />
<line x1="99.4" y1="276.5" x2="137.2" y2="171.0" stroke="#000" stroke-width="0.95" />
<line x1="99.4" y1="276.5" x2="137.2" y2="199.4" stroke="#000" stroke-width="0.95" />
<line x1="99.4" y1="276.5" x2="137.2" y2="227.8" stroke="#000" stroke-width="0.95" />
<line x1="99.4" y1="276.5" x2="137.2" y2="256.2" stroke="#000" stroke-width="0.95" />
<line x1="99.4" y1="276.5" x2="137.2" y2="284.6" stroke="#000" stroke-width="0.95" />
<line x1="99.4" y1="276.5" x2="137.2" y2="313.0" stroke="#000" stroke-width="0.95" />
<line x1="99.4" y1="276.5" x2="137.2" y2="341.4" stroke="#000" stroke-width="0.95" />
<line x1="99.4" y1="276.5" x2="137.2" y2="369.8" stroke="#000" stroke-width="0.95" />
<line x1="99.4" y1="276.5" x2="137.2" y2="398.2" stroke="#000" stroke-width="0.95" />
<line x1="99.4" y1="338.3" x2="137.2" y2="171.0" stroke="#000" stroke-width="0.95" />
<line x1="99.4" y1="338.3" x2="137.2" y2="199.4" stroke="#000" stroke-width="0.95" />
<line x1="99.4" y1="338.3" x2="137.2" y2="227.8" stroke="#000" stroke-width="0.95" />
<line x1="99.4" y1="338.3" x2="137.2" y2="256.2" stroke="#000" stroke-width="0.95" />
<line x1="99.4" y1="338.3" x2="137.2" y2="284.6" stroke="#000" stroke-width="0.95" />
<line x1="99.4" y1="338.3" x2="137.2" y2="313.0" stroke="#000" stroke-width="0.95" />
<line x1="99.4" y1="338.3" x2="137.2" y2="341.4" stroke="#000" stroke-width="0.95" />
<line x1="99.4" y1="338.3" x2="137.2" y2="369.8" stroke="#000" stroke-width="0.95" />
<line x1="99.4" y1="338.3" x2="137.2" y2="398.2" stroke="#000" stroke-width="0.95" />
<line x1="99.4" y1="394.0" x2="137.2" y2="171.0" stroke="#000" stroke-width="0.95" />
<line x1="99.4" y1="394.0" x2="137.2" y2="199.4" stroke="#000" stroke-width="0.95" />
<line x1="99.4" y1="394.0" x2="137.2" y2="227.8" stroke="#000" stroke-width="0.95" />
<line x1="99.4" y1="394.0" x2="137.2" y2="256.2" stroke="#000" stroke-width="0.95" />
<line x1="99.4" y1="394.0" x2="137.2" y2="284.6" stroke="#000" stroke-width="0.95" />
<line x1="99.4" y1="394.0" x2="137.2" y2="313.0" stroke="#000" stroke-width="0.95" />
<line x1="99.4" y1="394.0" x2="137.2" y2="341.4" stroke="#000" stroke-width="0.95" />
<line x1="99.4" y1="394.0" x2="137.2" y2="369.8" stroke="#000" stroke-width="0.95" />
<line x1="99.4" y1="394.0" x2="137.2" y2="398.2" stroke="#000" stroke-width="0.95" />
<line x1="99.4" y1="452.7" x2="137.2" y2="171.0" stroke="#000" stroke-width="0.95" />
<line x1="99.4" y1="452.7" x2="137.2" y2="199.4" stroke="#000" stroke-width="0.95" />
<line x1="99.4" y1="452.7" x2="137.2" y2="227.8" stroke="#000" stroke-width="0.95" />
<line x1="99.4" y1="452.7" x2="137.2" y2="256.2" stroke="#000" stroke-width="0.95" />
<line x1="99.4" y1="452.7" x2="137.2" y2="284.6" stroke="#000" stroke-width="0.95" />
<line x1="99.4" y1="452.7" x2="137.2" y2="313.0" stroke="#000" stroke-width="0.95" />
<line x1="99.4" y1="452.7" x2="137.2" y2="341.4" stroke="#000" stroke-width="0.95" />
<line x1="99.4" y1="452.7" x2="137.2" y2="369.8" stroke="#000" stroke-width="0.95" />
<line x1="99.4" y1="452.7" x2="137.2" y2="398.2" stroke="#000" stroke-width="0.95" />
<line x1="154.0" y1="171.0" x2="175.8" y2="171.0" stroke="#707070" stroke-width="0.9" />
<line x1="154.0" y1="199.4" x2="175.8" y2="199.4" stroke="#707070" stroke-width="0.9" />
<line x1="154.0" y1="227.8" x2="175.8" y2="227.8" stroke="#707070" stroke-width="0.9" />
<line x1="154.0" y1="256.2" x2="175.8" y2="256.2" stroke="#707070" stroke-width="0.9" />
<line x1="154.0" y1="284.6" x2="175.8" y2="284.6" stroke="#707070" stroke-width="0.9" />
<line x1="154.0" y1="313.0" x2="175.8" y2="313.0" stroke="#707070" stroke-width="0.9" />
<line x1="154.0" y1="341.4" x2="175.8" y2="341.4" stroke="#707070" stroke-width="0.9" />
<line x1="154.0" y1="369.8" x2="175.8" y2="369.8" stroke="#707070" stroke-width="0.9" />
<line x1="154.0" y1="398.2" x2="175.8" y2="398.2" stroke="#707070" stroke-width="0.9" />
<line x1="192.6" y1="171.0" x2="245.6" y2="140.5" stroke="#000" stroke-width="0.6" />
<line x1="192.6" y1="171.0" x2="245.6" y2="168.9" stroke="#000" stroke-width="0.6" />
<line x1="192.6" y1="171.0" x2="245.6" y2="197.3" stroke="#000" stroke-width="0.6" />
<line x1="192.6" y1="171.0" x2="245.6" y2="225.7" stroke="#000" stroke-width="0.6" />
<line x1="192.6" y1="171.0" x2="245.6" y2="254.1" stroke="#000" stroke-width="0.6" />
<line x1="192.6" y1="171.0" x2="245.6" y2="282.5" stroke="#000" stroke-width="0.6" />
<line x1="192.6" y1="171.0" x2="245.6" y2="310.9" stroke="#000" stroke-width="0.6" />
<line x1="192.6" y1="171.0" x2="245.6" y2="339.3" stroke="#000" stroke-width="0.6" />
<line x1="192.6" y1="171.0" x2="245.6" y2="367.7" stroke="#000" stroke-width="0.6" />
<line x1="192.6" y1="171.0" x2="245.6" y2="396.1" stroke="#000" stroke-width="0.6" />
<line x1="192.6" y1="171.0" x2="245.6" y2="424.5" stroke="#000" stroke-width="0.6" />
<line x1="192.6" y1="199.4" x2="245.6" y2="140.5" stroke="#000" stroke-width="0.6" />
<line x1="192.6" y1="199.4" x2="245.6" y2="168.9" stroke="#000" stroke-width="0.6" />
<line x1="192.6" y1="199.4" x2="245.6" y2="197.3" stroke="#000" stroke-width="0.6" />
<line x1="192.6" y1="199.4" x2="245.6" y2="225.7" stroke="#000" stroke-width="0.6" />
<line x1="192.6" y1="199.4" x2="245.6" y2="254.1" stroke="#000" stroke-width="0.6" />
<line x1="192.6" y1="199.4" x2="245.6" y2="282.5" stroke="#000" stroke-width="0.6" />
<line x1="192.6" y1="199.4" x2="245.6" y2="310.9" stroke="#000" stroke-width="0.6" />
<line x1="192.6" y1="199.4" x2="245.6" y2="339.3" stroke="#000" stroke-width="0.6" />
<line x1="192.6" y1="199.4" x2="245.6" y2="367.7" stroke="#000" stroke-width="0.6" />
<line x1="192.6" y1="199.4" x2="245.6" y2="396.1" stroke="#000" stroke-width="0.6" />
<line x1="192.6" y1="199.4" x2="245.6" y2="424.5" stroke="#000" stroke-width="0.6" />
<line x1="192.6" y1="227.8" x2="245.6" y2="140.5" stroke="#000" stroke-width="0.6" />
<line x1="192.6" y1="227.8" x2="245.6" y2="168.9" stroke="#000" stroke-width="0.6" />
<line x1="192.6" y1="227.8" x2="245.6" y2="197.3" stroke="#000" stroke-width="0.6" />
<line x1="192.6" y1="227.8" x2="245.6" y2="225.7" stroke="#000" stroke-width="0.6" />
<line x1="192.6" y1="227.8" x2="245.6" y2="254.1" stroke="#000" stroke-width="0.6" />
<line x1="192.6" y1="227.8" x2="245.6" y2="282.5" stroke="#000" stroke-width="0.6" />
<line x1="192.6" y1="227.8" x2="245.6" y2="310.9" stroke="#000" stroke-width="0.6" />
<line x1="192.6" y1="227.8" x2="245.6" y2="339.3" stroke="#000" stroke-width="0.6" />
<line x1="192.6" y1="227.8" x2="245.6" y2="367.7" stroke="#000" stroke-width="0.6" />
<line x1="192.6" y1="227.8" x2="245.6" y2="396.1" stroke="#000" stroke-width="0.6" />
<line x1="192.6" y1="227.8" x2="245.6" y2="424.5" stroke="#000" stroke-width="0.6" />
<line x1="192.6" y1="256.2" x2="245.6" y2="140.5" stroke="#000" stroke-width="0.6" />
<line x1="192.6" y1="256.2" x2="245.6" y2="168.9" stroke="#000" stroke-width="0.6" />
<line x1="192.6" y1="256.2" x2="245.6" y2="197.3" stroke="#000" stroke-width="0.6" />
<line x1="192.6" y1="256.2" x2="245.6" y2="225.7" stroke="#000" stroke-width="0.6" />
<line x1="192.6" y1="256.2" x2="245.6" y2="254.1" stroke="#000" stroke-width="0.6" />
<line x1="192.6" y1="256.2" x2="245.6" y2="282.5" stroke="#000" stroke-width="0.6" />
<line x1="192.6" y1="256.2" x2="245.6" y2="310.9" stroke="#000" stroke-width="0.6" />
<line x1="192.6" y1="256.2" x2="245.6" y2="339.3" stroke="#000" stroke-width="0.6" />
<line x1="192.6" y1="256.2" x2="245.6" y2="367.7" stroke="#000" stroke-width="0.6" />
<line x1="192.6" y1="256.2" x2="245.6" y2="396.1" stroke="#000" stroke-width="0.6" />
<line x1="192.6" y1="256.2" x2="245.6" y2="424.5" stroke="#000" stroke-width="0.6" />
<line x1="192.6" y1="284.6" x2="245.6" y2="140.5" stroke="#000" stroke-width="0.6" />
<line x1="192.6" y1="284.6" x2="245.6" y2="168.9" stroke="#000" stroke-width="0.6" />
<line x1="192.6" y1="284.6" x2="245.6" y2="197.3" stroke="#000" stroke-width="0.6" />
<line x1="192.6" y1="284.6" x2="245.6" y2="225.7" stroke="#000" stroke-width="0.6" />
<line x1="192.6" y1="284.6" x2="245.6" y2="254.1" stroke="#000" stroke-width="0.6" />
<line x1="192.6" y1="284.6" x2="245.6" y2="282.5" stroke="#000" stroke-width="0.6" />
<line x1="192.6" y1="284.6" x2="245.6" y2="310.9" stroke="#000" stroke-width="0.6" />
<line x1="192.6" y1="284.6" x2="245.6" y2="339.3" stroke="#000" stroke-width="0.6" />
<line x1="192.6" y1="284.6" x2="245.6" y2="367.7" stroke="#000" stroke-width="0.6" />
<line x1="192.6" y1="284.6" x2="245.6" y2="396.1" stroke="#000" stroke-width="0.6" />
<line x1="192.6" y1="284.6" x2="245.6" y2="424.5" stroke="#000" stroke-width="0.6" />
<line x1="192.6" y1="313.0" x2="245.6" y2="140.5" stroke="#000" stroke-width="0.6" />
<line x1="192.6" y1="313.0" x2="245.6" y2="168.9" stroke="#000" stroke-width="0.6" />
<line x1="192.6" y1="313.0" x2="245.6" y2="197.3" stroke="#000" stroke-width="0.6" />
<line x1="192.6" y1="313.0" x2="245.6" y2="225.7" stroke="#000" stroke-width="0.6" />
<line x1="192.6" y1="313.0" x2="245.6" y2="254.1" stroke="#000" stroke-width="0.6" />
<line x1="192.6" y1="313.0" x2="245.6" y2="282.5" stroke="#000" stroke-width="0.6" />
<line x1="192.6" y1="313.0" x2="245.6" y2="310.9" stroke="#000" stroke-width="0.6" />
<line x1="192.6" y1="313.0" x2="245.6" y2="339.3" stroke="#000" stroke-width="0.6" />
<line x1="192.6" y1="313.0" x2="245.6" y2="367.7" stroke="#000" stroke-width="0.6" />
<line x1="192.6" y1="313.0" x2="245.6" y2="396.1" stroke="#000" stroke-width="0.6" />
<line x1="192.6" y1="313.0" x2="245.6" y2="424.5" stroke="#000" stroke-width="0.6" />
<line x1="192.6" y1="341.4" x2="245.6" y2="140.5" stroke="#000" stroke-width="0.6" />
<line x1="192.6" y1="341.4" x2="245.6" y2="168.9" stroke="#000" stroke-width="0.6" />
<line x1="192.6" y1="341.4" x2="245.6" y2="197.3" stroke="#000" stroke-width="0.6" />
<line x1="192.6" y1="341.4" x2="245.6" y2="225.7" stroke="#000" stroke-width="0.6" />
<line x1="192.6" y1="341.4" x2="245.6" y2="254.1" stroke="#000" stroke-width="0.6" />
<line x1="192.6" y1="341.4" x2="245.6" y2="282.5" stroke="#000" stroke-width="0.6" />
<line x1="192.6" y1="341.4" x2="245.6" y2="310.9" stroke="#000" stroke-width="0.6" />
<line x1="192.6" y1="341.4" x2="245.6" y2="339.3" stroke="#000" stroke-width="0.6" />
<line x1="192.6" y1="341.4" x2="245.6" y2="367.7" stroke="#000" stroke-width="0.6" />
<line x1="192.6" y1="341.4" x2="245.6" y2="396.1" stroke="#000" stroke-width="0.6" />
<line x1="192.6" y1="341.4" x2="245.6" y2="424.5" stroke="#000" stroke-width="0.6" />
<line x1="192.6" y1="369.8" x2="245.6" y2="140.5" stroke="#000" stroke-width="0.6" />
<line x1="192.6" y1="369.8" x2="245.6" y2="168.9" stroke="#000" stroke-width="0.6" />
<line x1="192.6" y1="369.8" x2="245.6" y2="197.3" stroke="#000" stroke-width="0.6" />
<line x1="192.6" y1="369.8" x2="245.6" y2="225.7" stroke="#000" stroke-width="0.6" />
<line x1="192.6" y1="369.8" x2="245.6" y2="254.1" stroke="#000" stroke-width="0.6" />
<line x1="192.6" y1="369.8" x2="245.6" y2="282.5" stroke="#000" stroke-width="0.6" />
<line x1="192.6" y1="369.8" x2="245.6" y2="310.9" stroke="#000" stroke-width="0.6" />
<line x1="192.6" y1="369.8" x2="245.6" y2="339.3" stroke="#000" stroke-width="0.6" />
<line x1="192.6" y1="369.8" x2="245.6" y2="367.7" stroke="#000" stroke-width="0.6" />
<line x1="192.6" y1="369.8" x2="245.6" y2="396.1" stroke="#000" stroke-width="0.6" />
<line x1="192.6" y1="369.8" x2="245.6" y2="424.5" stroke="#000" stroke-width="0.6" />
<line x1="192.6" y1="398.2" x2="245.6" y2="140.5" stroke="#000" stroke-width="0.6" />
<line x1="192.6" y1="398.2" x2="245.6" y2="168.9" stroke="#000" stroke-width="0.6" />
<line x1="192.6" y1="398.2" x2="245.6" y2="197.3" stroke="#000" stroke-width="0.6" />
<line x1="192.6" y1="398.2" x2="245.6" y2="225.7" stroke="#000" stroke-width="0.6" />
<line x1="192.6" y1="398.2" x2="245.6" y2="254.1" stroke="#000" stroke-width="0.6" />
<line x1="192.6" y1="398.2" x2="245.6" y2="282.5" stroke="#000" stroke-width="0.6" />
<line x1="192.6" y1="398.2" x2="245.6" y2="310.9" stroke="#000" stroke-width="0.6" />
<line x1="192.6" y1="398.2" x2="245.6" y2="339.3" stroke="#000" stroke-width="0.6" />
<line x1="192.6" y1="398.2" x2="245.6" y2="367.7" stroke="#000" stroke-width="0.6" />
<line x1="192.6" y1="398.2" x2="245.6" y2="396.1" stroke="#000" stroke-width="0.6" />
<line x1="192.6" y1="398.2" x2="245.6" y2="424.5" stroke="#000" stroke-width="0.6" />
<line x1="262.4" y1="140.5" x2="302.3" y2="181.2" stroke="#000" stroke-width="0.85" stroke-dasharray="3,1.5"/>
<line x1="262.4" y1="140.5" x2="303.0" y2="407.5" stroke="#000" stroke-width="0.85" stroke-dasharray="3,1.5"/>
<line x1="459.4" y1="140.5" x2="514.0" y2="182.0" stroke="#000" stroke-width="0.85" stroke-dasharray="3,1.5"/>
<line x1="459.4" y1="140.5" x2="514.5" y2="408.0" stroke="#000" stroke-width="0.85" stroke-dasharray="3,1.5"/>
<line x1="262.4" y1="168.9" x2="302.3" y2="181.2" stroke="#000" stroke-width="0.85" stroke-dasharray="3,1.5"/>
<line x1="262.4" y1="168.9" x2="303.0" y2="407.5" stroke="#000" stroke-width="0.85" stroke-dasharray="3,1.5"/>
<line x1="459.4" y1="168.9" x2="514.0" y2="182.0" stroke="#000" stroke-width="0.85" stroke-dasharray="3,1.5"/>
<line x1="459.4" y1="168.9" x2="514.5" y2="408.0" stroke="#000" stroke-width="0.85" stroke-dasharray="3,1.5"/>
<line x1="262.4" y1="197.3" x2="302.3" y2="181.2" stroke="#000" stroke-width="0.85" stroke-dasharray="3,1.5"/>
<line x1="262.4" y1="197.3" x2="303.0" y2="407.5" stroke="#000" stroke-width="0.85" stroke-dasharray="3,1.5"/>
<line x1="459.4" y1="197.3" x2="514.0" y2="182.0" stroke="#000" stroke-width="0.85" stroke-dasharray="3,1.5"/>
<line x1="459.4" y1="197.3" x2="514.5" y2="408.0" stroke="#000" stroke-width="0.85" stroke-dasharray="3,1.5"/>
<line x1="262.4" y1="225.7" x2="302.3" y2="181.2" stroke="#000" stroke-width="0.85" stroke-dasharray="3,1.5"/>
<line x1="262.4" y1="225.7" x2="303.0" y2="407.5" stroke="#000" stroke-width="0.85" stroke-dasharray="3,1.5"/>
<line x1="459.4" y1="225.7" x2="514.0" y2="182.0" stroke="#000" stroke-width="0.85" stroke-dasharray="3,1.5"/>
<line x1="459.4" y1="225.7" x2="514.5" y2="408.0" stroke="#000" stroke-width="0.85" stroke-dasharray="3,1.5"/>
<line x1="262.4" y1="254.1" x2="302.3" y2="181.2" stroke="#000" stroke-width="0.85" stroke-dasharray="3,1.5"/>
<line x1="262.4" y1="254.1" x2="303.0" y2="407.5" stroke="#000" stroke-width="0.85" stroke-dasharray="3,1.5"/>
<line x1="459.4" y1="254.1" x2="514.0" y2="182.0" stroke="#000" stroke-width="0.85" stroke-dasharray="3,1.5"/>
<line x1="459.4" y1="254.1" x2="514.5" y2="408.0" stroke="#000" stroke-width="0.85" stroke-dasharray="3,1.5"/>
<line x1="262.4" y1="282.5" x2="302.3" y2="181.2" stroke="#000" stroke-width="0.85" stroke-dasharray="3,1.5"/>
<line x1="262.4" y1="282.5" x2="303.0" y2="407.5" stroke="#000" stroke-width="0.85" stroke-dasharray="3,1.5"/>
<line x1="459.4" y1="282.5" x2="514.0" y2="182.0" stroke="#000" stroke-width="0.85" stroke-dasharray="3,1.5"/>
<line x1="459.4" y1="282.5" x2="514.5" y2="408.0" stroke="#000" stroke-width="0.85" stroke-dasharray="3,1.5"/>
<line x1="262.4" y1="310.9" x2="302.3" y2="181.2" stroke="#000" stroke-width="0.85" stroke-dasharray="3,1.5"/>
<line x1="262.4" y1="310.9" x2="303.0" y2="407.5" stroke="#000" stroke-width="0.85" stroke-dasharray="3,1.5"/>
<line x1="459.4" y1="310.9" x2="514.0" y2="182.0" stroke="#000" stroke-width="0.85" stroke-dasharray="3,1.5"/>
<line x1="459.4" y1="310.9" x2="514.5" y2="408.0" stroke="#000" stroke-width="0.85" stroke-dasharray="3,1.5"/>
<line x1="262.4" y1="339.3" x2="302.3" y2="181.2" stroke="#000" stroke-width="0.85" stroke-dasharray="3,1.5"/>
<line x1="262.4" y1="339.3" x2="303.0" y2="407.5" stroke="#000" stroke-width="0.85" stroke-dasharray="3,1.5"/>
<line x1="459.4" y1="339.3" x2="514.0" y2="182.0" stroke="#000" stroke-width="0.85" stroke-dasharray="3,1.5"/>
<line x1="459.4" y1="339.3" x2="514.5" y2="408.0" stroke="#000" stroke-width="0.85" stroke-dasharray="3,1.5"/>
<line x1="262.4" y1="367.7" x2="302.3" y2="181.2" stroke="#000" stroke-width="0.85" stroke-dasharray="3,1.5"/>
<line x1="262.4" y1="367.7" x2="303.0" y2="407.5" stroke="#000" stroke-width="0.85" stroke-dasharray="3,1.5"/>
<line x1="459.4" y1="367.7" x2="514.0" y2="182.0" stroke="#000" stroke-width="0.85" stroke-dasharray="3,1.5"/>
<line x1="459.4" y1="367.7" x2="514.5" y2="408.0" stroke="#000" stroke-width="0.85" stroke-dasharray="3,1.5"/>
<line x1="262.4" y1="396.1" x2="302.3" y2="181.2" stroke="#000" stroke-width="0.85" stroke-dasharray="3,1.5"/>
<line x1="262.4" y1="396.1" x2="303.0" y2="407.5" stroke="#000" stroke-width="0.85" stroke-dasharray="3,1.5"/>
<line x1="459.4" y1="396.1" x2="514.0" y2="182.0" stroke="#000" stroke-width="0.85" stroke-dasharray="3,1.5"/>
<line x1="459.4" y1="396.1" x2="514.5" y2="408.0" stroke="#000" stroke-width="0.85" stroke-dasharray="3,1.5"/>
<line x1="262.4" y1="424.5" x2="302.3" y2="181.2" stroke="#000" stroke-width="0.85" stroke-dasharray="3,1.5"/>
<line x1="262.4" y1="424.5" x2="303.0" y2="407.5" stroke="#000" stroke-width="0.85" stroke-dasharray="3,1.5"/>
<line x1="459.4" y1="424.5" x2="514.0" y2="182.0" stroke="#000" stroke-width="0.85" stroke-dasharray="3,1.5"/>
<line x1="459.4" y1="424.5" x2="514.5" y2="408.0" stroke="#000" stroke-width="0.85" stroke-dasharray="3,1.5"/>
<line x1="337.3" y1="155.4" x2="372.9" y2="140.5" stroke="#000" stroke-width="0.75" stroke-dasharray="3,1.2"/>
<line x1="337.3" y1="379.0" x2="372.9" y2="140.5" stroke="#000" stroke-width="0.75" stroke-dasharray="3,1.2"/>
<line x1="337.3" y1="155.4" x2="372.9" y2="168.9" stroke="#000" stroke-width="0.75" stroke-dasharray="3,1.2"/>
<line x1="337.3" y1="379.0" x2="372.9" y2="168.9" stroke="#000" stroke-width="0.75" stroke-dasharray="3,1.2"/>
<line x1="337.3" y1="155.4" x2="372.9" y2="197.3" stroke="#000" stroke-width="0.75" stroke-dasharray="3,1.2"/>
<line x1="337.3" y1="379.0" x2="372.9" y2="197.3" stroke="#000" stroke-width="0.75" stroke-dasharray="3,1.2"/>
<line x1="337.3" y1="155.4" x2="372.9" y2="225.7" stroke="#000" stroke-width="0.75" stroke-dasharray="3,1.2"/>
<line x1="337.3" y1="379.0" x2="372.9" y2="225.7" stroke="#000" stroke-width="0.75" stroke-dasharray="3,1.2"/>
<line x1="337.3" y1="155.4" x2="372.9" y2="254.1" stroke="#000" stroke-width="0.75" stroke-dasharray="3,1.2"/>
<line x1="337.3" y1="379.0" x2="372.9" y2="254.1" stroke="#000" stroke-width="0.75" stroke-dasharray="3,1.2"/>
<line x1="337.3" y1="155.4" x2="372.9" y2="282.5" stroke="#000" stroke-width="0.75" stroke-dasharray="3,1.2"/>
<line x1="337.3" y1="379.0" x2="372.9" y2="282.5" stroke="#000" stroke-width="0.75" stroke-dasharray="3,1.2"/>
<line x1="337.3" y1="155.4" x2="372.9" y2="310.9" stroke="#000" stroke-width="0.75" stroke-dasharray="3,1.2"/>
<line x1="337.3" y1="379.0" x2="372.9" y2="310.9" stroke="#000" stroke-width="0.75" stroke-dasharray="3,1.2"/>
<line x1="337.3" y1="155.4" x2="372.9" y2="339.3" stroke="#000" stroke-width="0.75" stroke-dasharray="3,1.2"/>
<line x1="337.3" y1="379.0" x2="372.9" y2="339.3" stroke="#000" stroke-width="0.75" stroke-dasharray="3,1.2"/>
<line x1="337.3" y1="155.4" x2="372.9" y2="367.7" stroke="#000" stroke-width="0.75" stroke-dasharray="3,1.2"/>
<line x1="337.3" y1="379.0" x2="372.9" y2="367.7" stroke="#000" stroke-width="0.75" stroke-dasharray="3,1.2"/>
<line x1="337.3" y1="155.4" x2="372.9" y2="396.1" stroke="#000" stroke-width="0.75" stroke-dasharray="3,1.2"/>
<line x1="337.3" y1="379.0" x2="372.9" y2="396.1" stroke="#000" stroke-width="0.75" stroke-dasharray="3,1.2"/>
<line x1="337.3" y1="155.4" x2="372.9" y2="424.5" stroke="#000" stroke-width="0.75" stroke-dasharray="3,1.2"/>
<line x1="337.3" y1="379.0" x2="372.9" y2="424.5" stroke="#000" stroke-width="0.75" stroke-dasharray="3,1.2"/>
<line x1="549.4" y1="157.0" x2="584.6" y2="141.8" stroke="#000" stroke-width="0.75" stroke-dasharray="3,1.2"/>
<line x1="549.4" y1="380.0" x2="584.6" y2="141.8" stroke="#000" stroke-width="0.75" stroke-dasharray="3,1.2"/>
<line x1="549.4" y1="157.0" x2="584.6" y2="170.2" stroke="#000" stroke-width="0.75" stroke-dasharray="3,1.2"/>
<line x1="549.4" y1="380.0" x2="584.6" y2="170.2" stroke="#000" stroke-width="0.75" stroke-dasharray="3,1.2"/>
<line x1="549.4" y1="157.0" x2="584.6" y2="198.7" stroke="#000" stroke-width="0.75" stroke-dasharray="3,1.2"/>
<line x1="549.4" y1="380.0" x2="584.6" y2="198.7" stroke="#000" stroke-width="0.75" stroke-dasharray="3,1.2"/>
<line x1="549.4" y1="157.0" x2="584.6" y2="227.2" stroke="#000" stroke-width="0.75" stroke-dasharray="3,1.2"/>
<line x1="549.4" y1="380.0" x2="584.6" y2="227.2" stroke="#000" stroke-width="0.75" stroke-dasharray="3,1.2"/>
<line x1="549.4" y1="157.0" x2="584.6" y2="255.6" stroke="#000" stroke-width="0.75" stroke-dasharray="3,1.2"/>
<line x1="549.4" y1="380.0" x2="584.6" y2="255.6" stroke="#000" stroke-width="0.75" stroke-dasharray="3,1.2"/>
<line x1="549.4" y1="157.0" x2="584.6" y2="284.1" stroke="#000" stroke-width="0.75" stroke-dasharray="3,1.2"/>
<line x1="549.4" y1="380.0" x2="584.6" y2="284.1" stroke="#000" stroke-width="0.75" stroke-dasharray="3,1.2"/>
<line x1="549.4" y1="157.0" x2="584.6" y2="312.5" stroke="#000" stroke-width="0.75" stroke-dasharray="3,1.2"/>
<line x1="549.4" y1="380.0" x2="584.6" y2="312.5" stroke="#000" stroke-width="0.75" stroke-dasharray="3,1.2"/>
<line x1="549.4" y1="157.0" x2="584.6" y2="341.0" stroke="#000" stroke-width="0.75" stroke-dasharray="3,1.2"/>
<line x1="549.4" y1="380.0" x2="584.6" y2="341.0" stroke="#000" stroke-width="0.75" stroke-dasharray="3,1.2"/>
<line x1="549.4" y1="157.0" x2="584.6" y2="369.4" stroke="#000" stroke-width="0.75" stroke-dasharray="3,1.2"/>
<line x1="549.4" y1="380.0" x2="584.6" y2="369.4" stroke="#000" stroke-width="0.75" stroke-dasharray="3,1.2"/>
<line x1="549.4" y1="157.0" x2="584.6" y2="397.9" stroke="#000" stroke-width="0.75" stroke-dasharray="3,1.2"/>
<line x1="549.4" y1="380.0" x2="584.6" y2="397.9" stroke="#000" stroke-width="0.75" stroke-dasharray="3,1.2"/>
<line x1="549.4" y1="157.0" x2="584.6" y2="426.3" stroke="#000" stroke-width="0.75" stroke-dasharray="3,1.2"/>
<line x1="549.4" y1="380.0" x2="584.6" y2="426.3" stroke="#000" stroke-width="0.75" stroke-dasharray="3,1.2"/>
<line x1="389.7" y1="140.5" x2="442.6" y2="140.5" stroke="#000" stroke-width="0.7" />
<line x1="389.7" y1="140.5" x2="442.6" y2="168.9" stroke="#000" stroke-width="0.7" />
<line x1="389.7" y1="140.5" x2="442.6" y2="197.3" stroke="#000" stroke-width="0.7" />
<line x1="389.7" y1="140.5" x2="442.6" y2="225.7" stroke="#000" stroke-width="0.7" />
<line x1="389.7" y1="140.5" x2="442.6" y2="254.1" stroke="#000" stroke-width="0.7" />
<line x1="389.7" y1="140.5" x2="442.6" y2="282.5" stroke="#000" stroke-width="0.7" />
<line x1="389.7" y1="140.5" x2="442.6" y2="310.9" stroke="#000" stroke-width="0.7" />
<line x1="389.7" y1="140.5" x2="442.6" y2="339.3" stroke="#000" stroke-width="0.7" />
<line x1="389.7" y1="140.5" x2="442.6" y2="367.7" stroke="#000" stroke-width="0.7" />
<line x1="389.7" y1="140.5" x2="442.6" y2="396.1" stroke="#000" stroke-width="0.7" />
<line x1="389.7" y1="140.5" x2="442.6" y2="424.5" stroke="#000" stroke-width="0.7" />
<line x1="389.7" y1="168.9" x2="442.6" y2="140.5" stroke="#000" stroke-width="0.7" />
<line x1="389.7" y1="168.9" x2="442.6" y2="168.9" stroke="#000" stroke-width="0.7" />
<line x1="389.7" y1="168.9" x2="442.6" y2="197.3" stroke="#000" stroke-width="0.7" />
<line x1="389.7" y1="168.9" x2="442.6" y2="225.7" stroke="#000" stroke-width="0.7" />
<line x1="389.7" y1="168.9" x2="442.6" y2="254.1" stroke="#000" stroke-width="0.7" />
<line x1="389.7" y1="168.9" x2="442.6" y2="282.5" stroke="#000" stroke-width="0.7" />
<line x1="389.7" y1="168.9" x2="442.6" y2="310.9" stroke="#000" stroke-width="0.7" />
<line x1="389.7" y1="168.9" x2="442.6" y2="339.3" stroke="#000" stroke-width="0.7" />
<line x1="389.7" y1="168.9" x2="442.6" y2="367.7" stroke="#000" stroke-width="0.7" />
<line x1="389.7" y1="168.9" x2="442.6" y2="396.1" stroke="#000" stroke-width="0.7" />
<line x1="389.7" y1="168.9" x2="442.6" y2="424.5" stroke="#000" stroke-width="0.7" />
<line x1="389.7" y1="197.3" x2="442.6" y2="140.5" stroke="#000" stroke-width="0.7" />
<line x1="389.7" y1="197.3" x2="442.6" y2="168.9" stroke="#000" stroke-width="0.7" />
<line x1="389.7" y1="197.3" x2="442.6" y2="197.3" stroke="#000" stroke-width="0.7" />
<line x1="389.7" y1="197.3" x2="442.6" y2="225.7" stroke="#000" stroke-width="0.7" />
<line x1="389.7" y1="197.3" x2="442.6" y2="254.1" stroke="#000" stroke-width="0.7" />
<line x1="389.7" y1="197.3" x2="442.6" y2="282.5" stroke="#000" stroke-width="0.7" />
<line x1="389.7" y1="197.3" x2="442.6" y2="310.9" stroke="#000" stroke-width="0.7" />
<line x1="389.7" y1="197.3" x2="442.6" y2="339.3" stroke="#000" stroke-width="0.7" />
<line x1="389.7" y1="197.3" x2="442.6" y2="367.7" stroke="#000" stroke-width="0.7" />
<line x1="389.7" y1="197.3" x2="442.6" y2="396.1" stroke="#000" stroke-width="0.7" />
<line x1="389.7" y1="197.3" x2="442.6" y2="424.5" stroke="#000" stroke-width="0.7" />
<line x1="389.7" y1="225.7" x2="442.6" y2="140.5" stroke="#000" stroke-width="0.7" />
<line x1="389.7" y1="225.7" x2="442.6" y2="168.9" stroke="#000" stroke-width="0.7" />
<line x1="389.7" y1="225.7" x2="442.6" y2="197.3" stroke="#000" stroke-width="0.7" />
<line x1="389.7" y1="225.7" x2="442.6" y2="225.7" stroke="#000" stroke-width="0.7" />
<line x1="389.7" y1="225.7" x2="442.6" y2="254.1" stroke="#000" stroke-width="0.7" />
<line x1="389.7" y1="225.7" x2="442.6" y2="282.5" stroke="#000" stroke-width="0.7" />
<line x1="389.7" y1="225.7" x2="442.6" y2="310.9" stroke="#000" stroke-width="0.7" />
<line x1="389.7" y1="225.7" x2="442.6" y2="339.3" stroke="#000" stroke-width="0.7" />
<line x1="389.7" y1="225.7" x2="442.6" y2="367.7" stroke="#000" stroke-width="0.7" />
<line x1="389.7" y1="225.7" x2="442.6" y2="396.1" stroke="#000" stroke-width="0.7" />
<line x1="389.7" y1="225.7" x2="442.6" y2="424.5" stroke="#000" stroke-width="0.7" />
<line x1="389.7" y1="254.1" x2="442.6" y2="140.5" stroke="#000" stroke-width="0.7" />
<line x1="389.7" y1="254.1" x2="442.6" y2="168.9" stroke="#000" stroke-width="0.7" />
<line x1="389.7" y1="254.1" x2="442.6" y2="197.3" stroke="#000" stroke-width="0.7" />
<line x1="389.7" y1="254.1" x2="442.6" y2="225.7" stroke="#000" stroke-width="0.7" />
<line x1="389.7" y1="254.1" x2="442.6" y2="254.1" stroke="#000" stroke-width="0.7" />
<line x1="389.7" y1="254.1" x2="442.6" y2="282.5" stroke="#000" stroke-width="0.7" />
<line x1="389.7" y1="254.1" x2="442.6" y2="310.9" stroke="#000" stroke-width="0.7" />
<line x1="389.7" y1="254.1" x2="442.6" y2="339.3" stroke="#000" stroke-width="0.7" />
<line x1="389.7" y1="254.1" x2="442.6" y2="367.7" stroke="#000" stroke-width="0.7" />
<line x1="389.7" y1="254.1" x2="442.6" y2="396.1" stroke="#000" stroke-width="0.7" />
<line x1="389.7" y1="254.1" x2="442.6" y2="424.5" stroke="#000" stroke-width="0.7" />
<line x1="389.7" y1="282.5" x2="442.6" y2="140.5" stroke="#000" stroke-width="0.7" />
<line x1="389.7" y1="282.5" x2="442.6" y2="168.9" stroke="#000" stroke-width="0.7" />
<line x1="389.7" y1="282.5" x2="442.6" y2="197.3" stroke="#000" stroke-width="0.7" />
<line x1="389.7" y1="282.5" x2="442.6" y2="225.7" stroke="#000" stroke-width="0.7" />
<line x1="389.7" y1="282.5" x2="442.6" y2="254.1" stroke="#000" stroke-width="0.7" />
<line x1="389.7" y1="282.5" x2="442.6" y2="282.5" stroke="#000" stroke-width="0.7" />
<line x1="389.7" y1="282.5" x2="442.6" y2="310.9" stroke="#000" stroke-width="0.7" />
<line x1="389.7" y1="282.5" x2="442.6" y2="339.3" stroke="#000" stroke-width="0.7" />
<line x1="389.7" y1="282.5" x2="442.6" y2="367.7" stroke="#000" stroke-width="0.7" />
<line x1="389.7" y1="282.5" x2="442.6" y2="396.1" stroke="#000" stroke-width="0.7" />
<line x1="389.7" y1="282.5" x2="442.6" y2="424.5" stroke="#000" stroke-width="0.7" />
<line x1="389.7" y1="310.9" x2="442.6" y2="140.5" stroke="#000" stroke-width="0.7" />
<line x1="389.7" y1="310.9" x2="442.6" y2="168.9" stroke="#000" stroke-width="0.7" />
<line x1="389.7" y1="310.9" x2="442.6" y2="197.3" stroke="#000" stroke-width="0.7" />
<line x1="389.7" y1="310.9" x2="442.6" y2="225.7" stroke="#000" stroke-width="0.7" />
<line x1="389.7" y1="310.9" x2="442.6" y2="254.1" stroke="#000" stroke-width="0.7" />
<line x1="389.7" y1="310.9" x2="442.6" y2="282.5" stroke="#000" stroke-width="0.7" />
<line x1="389.7" y1="310.9" x2="442.6" y2="310.9" stroke="#000" stroke-width="0.7" />
<line x1="389.7" y1="310.9" x2="442.6" y2="339.3" stroke="#000" stroke-width="0.7" />
<line x1="389.7" y1="310.9" x2="442.6" y2="367.7" stroke="#000" stroke-width="0.7" />
<line x1="389.7" y1="310.9" x2="442.6" y2="396.1" stroke="#000" stroke-width="0.7" />
<line x1="389.7" y1="310.9" x2="442.6" y2="424.5" stroke="#000" stroke-width="0.7" />
<line x1="389.7" y1="339.3" x2="442.6" y2="140.5" stroke="#000" stroke-width="0.7" />
<line x1="389.7" y1="339.3" x2="442.6" y2="168.9" stroke="#000" stroke-width="0.7" />
<line x1="389.7" y1="339.3" x2="442.6" y2="197.3" stroke="#000" stroke-width="0.7" />
<line x1="389.7" y1="339.3" x2="442.6" y2="225.7" stroke="#000" stroke-width="0.7" />
<line x1="389.7" y1="339.3" x2="442.6" y2="254.1" stroke="#000" stroke-width="0.7" />
<line x1="389.7" y1="339.3" x2="442.6" y2="282.5" stroke="#000" stroke-width="0.7" />
<line x1="389.7" y1="339.3" x2="442.6" y2="310.9" stroke="#000" stroke-width="0.7" />
<line x1="389.7" y1="339.3" x2="442.6" y2="339.3" stroke="#000" stroke-width="0.7" />
<line x1="389.7" y1="339.3" x2="442.6" y2="367.7" stroke="#000" stroke-width="0.7" />
<line x1="389.7" y1="339.3" x2="442.6" y2="396.1" stroke="#000" stroke-width="0.7" />
<line x1="389.7" y1="339.3" x2="442.6" y2="424.5" stroke="#000" stroke-width="0.7" />
<line x1="389.7" y1="367.7" x2="442.6" y2="140.5" stroke="#000" stroke-width="0.7" />
<line x1="389.7" y1="367.7" x2="442.6" y2="168.9" stroke="#000" stroke-width="0.7" />
<line x1="389.7" y1="367.7" x2="442.6" y2="197.3" stroke="#000" stroke-width="0.7" />
<line x1="389.7" y1="367.7" x2="442.6" y2="225.7" stroke="#000" stroke-width="0.7" />
<line x1="389.7" y1="367.7" x2="442.6" y2="254.1" stroke="#000" stroke-width="0.7" />
<line x1="389.7" y1="367.7" x2="442.6" y2="282.5" stroke="#000" stroke-width="0.7" />
<line x1="389.7" y1="367.7" x2="442.6" y2="310.9" stroke="#000" stroke-width="0.7" />
<line x1="389.7" y1="367.7" x2="442.6" y2="339.3" stroke="#000" stroke-width="0.7" />
<line x1="389.7" y1="367.7" x2="442.6" y2="367.7" stroke="#000" stroke-width="0.7" />
<line x1="389.7" y1="367.7" x2="442.6" y2="396.1" stroke="#000" stroke-width="0.7" />
<line x1="389.7" y1="367.7" x2="442.6" y2="424.5" stroke="#000" stroke-width="0.7" />
<line x1="389.7" y1="396.1" x2="442.6" y2="140.5" stroke="#000" stroke-width="0.7" />
<line x1="389.7" y1="396.1" x2="442.6" y2="168.9" stroke="#000" stroke-width="0.7" />
<line x1="389.7" y1="396.1" x2="442.6" y2="197.3" stroke="#000" stroke-width="0.7" />
<line x1="389.7" y1="396.1" x2="442.6" y2="225.7" stroke="#000" stroke-width="0.7" />
<line x1="389.7" y1="396.1" x2="442.6" y2="254.1" stroke="#000" stroke-width="0.7" />
<line x1="389.7" y1="396.1" x2="442.6" y2="282.5" stroke="#000" stroke-width="0.7" />
<line x1="389.7" y1="396.1" x2="442.6" y2="310.9" stroke="#000" stroke-width="0.7" />
<line x1="389.7" y1="396.1" x2="442.6" y2="339.3" stroke="#000" stroke-width="0.7" />
<line x1="389.7" y1="396.1" x2="442.6" y2="367.7" stroke="#000" stroke-width="0.7" />
<line x1="389.7" y1="396.1" x2="442.6" y2="396.1" stroke="#000" stroke-width="0.7" />
<line x1="389.7" y1="396.1" x2="442.6" y2="424.5" stroke="#000" stroke-width="0.7" />
<line x1="389.7" y1="424.5" x2="442.6" y2="140.5" stroke="#000" stroke-width="0.7" />
<line x1="389.7" y1="424.5" x2="442.6" y2="168.9" stroke="#000" stroke-width="0.7" />
<line x1="389.7" y1="424.5" x2="442.6" y2="197.3" stroke="#000" stroke-width="0.7" />
<line x1="389.7" y1="424.5" x2="442.6" y2="225.7" stroke="#000" stroke-width="0.7" />
<line x1="389.7" y1="424.5" x2="442.6" y2="254.1" stroke="#000" stroke-width="0.7" />
<line x1="389.7" y1="424.5" x2="442.6" y2="282.5" stroke="#000" stroke-width="0.7" />
<line x1="389.7" y1="424.5" x2="442.6" y2="310.9" stroke="#000" stroke-width="0.7" />
<line x1="389.7" y1="424.5" x2="442.6" y2="339.3" stroke="#000" stroke-width="0.7" />
<line x1="389.7" y1="424.5" x2="442.6" y2="367.7" stroke="#000" stroke-width="0.7" />
<line x1="389.7" y1="424.5" x2="442.6" y2="396.1" stroke="#000" stroke-width="0.7" />
<line x1="389.7" y1="424.5" x2="442.6" y2="424.5" stroke="#000" stroke-width="0.7" />
<line x1="601.4" y1="141.8" x2="671.9" y2="198.4" stroke="#000" stroke-width="0.8" />
<line x1="601.4" y1="141.8" x2="671.9" y2="226.8" stroke="#000" stroke-width="0.8" />
<line x1="601.4" y1="141.8" x2="671.9" y2="255.1" stroke="#000" stroke-width="0.8" />
<line x1="601.4" y1="141.8" x2="671.9" y2="283.5" stroke="#000" stroke-width="0.8" />
<line x1="601.4" y1="141.8" x2="671.9" y2="311.8" stroke="#000" stroke-width="0.8" />
<line x1="601.4" y1="141.8" x2="671.9" y2="340.1" stroke="#000" stroke-width="0.8" />
<line x1="601.4" y1="141.8" x2="671.9" y2="368.5" stroke="#000" stroke-width="0.8" />
<line x1="601.4" y1="170.2" x2="671.9" y2="198.4" stroke="#000" stroke-width="0.8" />
<line x1="601.4" y1="170.2" x2="671.9" y2="226.8" stroke="#000" stroke-width="0.8" />
<line x1="601.4" y1="170.2" x2="671.9" y2="255.1" stroke="#000" stroke-width="0.8" />
<line x1="601.4" y1="170.2" x2="671.9" y2="283.5" stroke="#000" stroke-width="0.8" />
<line x1="601.4" y1="170.2" x2="671.9" y2="311.8" stroke="#000" stroke-width="0.8" />
<line x1="601.4" y1="170.2" x2="671.9" y2="340.1" stroke="#000" stroke-width="0.8" />
<line x1="601.4" y1="170.2" x2="671.9" y2="368.5" stroke="#000" stroke-width="0.8" />
<line x1="601.4" y1="198.7" x2="671.9" y2="198.4" stroke="#000" stroke-width="0.8" />
<line x1="601.4" y1="198.7" x2="671.9" y2="226.8" stroke="#000" stroke-width="0.8" />
<line x1="601.4" y1="198.7" x2="671.9" y2="255.1" stroke="#000" stroke-width="0.8" />
<line x1="601.4" y1="198.7" x2="671.9" y2="283.5" stroke="#000" stroke-width="0.8" />
<line x1="601.4" y1="198.7" x2="671.9" y2="311.8" stroke="#000" stroke-width="0.8" />
<line x1="601.4" y1="198.7" x2="671.9" y2="340.1" stroke="#000" stroke-width="0.8" />
<line x1="601.4" y1="198.7" x2="671.9" y2="368.5" stroke="#000" stroke-width="0.8" />
<line x1="601.4" y1="227.2" x2="671.9" y2="198.4" stroke="#000" stroke-width="0.8" />
<line x1="601.4" y1="227.2" x2="671.9" y2="226.8" stroke="#000" stroke-width="0.8" />
<line x1="601.4" y1="227.2" x2="671.9" y2="255.1" stroke="#000" stroke-width="0.8" />
<line x1="601.4" y1="227.2" x2="671.9" y2="283.5" stroke="#000" stroke-width="0.8" />
<line x1="601.4" y1="227.2" x2="671.9" y2="311.8" stroke="#000" stroke-width="0.8" />
<line x1="601.4" y1="227.2" x2="671.9" y2="340.1" stroke="#000" stroke-width="0.8" />
<line x1="601.4" y1="227.2" x2="671.9" y2="368.5" stroke="#000" stroke-width="0.8" />
<line x1="601.4" y1="255.6" x2="671.9" y2="198.4" stroke="#000" stroke-width="0.8" />
<line x1="601.4" y1="255.6" x2="671.9" y2="226.8" stroke="#000" stroke-width="0.8" />
<line x1="601.4" y1="255.6" x2="671.9" y2="255.1" stroke="#000" stroke-width="0.8" />
<line x1="601.4" y1="255.6" x2="671.9" y2="283.5" stroke="#000" stroke-width="0.8" />
<line x1="601.4" y1="255.6" x2="671.9" y2="311.8" stroke="#000" stroke-width="0.8" />
<line x1="601.4" y1="255.6" x2="671.9" y2="340.1" stroke="#000" stroke-width="0.8" />
<line x1="601.4" y1="255.6" x2="671.9" y2="368.5" stroke="#000" stroke-width="0.8" />
<line x1="601.4" y1="284.1" x2="671.9" y2="198.4" stroke="#000" stroke-width="0.8" />
<line x1="601.4" y1="284.1" x2="671.9" y2="226.8" stroke="#000" stroke-width="0.8" />
<line x1="601.4" y1="284.1" x2="671.9" y2="255.1" stroke="#000" stroke-width="0.8" />
<line x1="601.4" y1="284.1" x2="671.9" y2="283.5" stroke="#000" stroke-width="0.8" />
<line x1="601.4" y1="284.1" x2="671.9" y2="311.8" stroke="#000" stroke-width="0.8" />
<line x1="601.4" y1="284.1" x2="671.9" y2="340.1" stroke="#000" stroke-width="0.8" />
<line x1="601.4" y1="284.1" x2="671.9" y2="368.5" stroke="#000" stroke-width="0.8" />
<line x1="601.4" y1="312.5" x2="671.9" y2="198.4" stroke="#000" stroke-width="0.8" />
<line x1="601.4" y1="312.5" x2="671.9" y2="226.8" stroke="#000" stroke-width="0.8" />
<line x1="601.4" y1="312.5" x2="671.9" y2="255.1" stroke="#000" stroke-width="0.8" />
<line x1="601.4" y1="312.5" x2="671.9" y2="283.5" stroke="#000" stroke-width="0.8" />
<line x1="601.4" y1="312.5" x2="671.9" y2="311.8" stroke="#000" stroke-width="0.8" />
<line x1="601.4" y1="312.5" x2="671.9" y2="340.1" stroke="#000" stroke-width="0.8" />
<line x1="601.4" y1="312.5" x2="671.9" y2="368.5" stroke="#000" stroke-width="0.8" />
<line x1="601.4" y1="341.0" x2="671.9" y2="198.4" stroke="#000" stroke-width="0.8" />
<line x1="601.4" y1="341.0" x2="671.9" y2="226.8" stroke="#000" stroke-width="0.8" />
<line x1="601.4" y1="341.0" x2="671.9" y2="255.1" stroke="#000" stroke-width="0.8" />
<line x1="601.4" y1="341.0" x2="671.9" y2="283.5" stroke="#000" stroke-width="0.8" />
<line x1="601.4" y1="341.0" x2="671.9" y2="311.8" stroke="#000" stroke-width="0.8" />
<line x1="601.4" y1="341.0" x2="671.9" y2="340.1" stroke="#000" stroke-width="0.8" />
<line x1="601.4" y1="341.0" x2="671.9" y2="368.5" stroke="#000" stroke-width="0.8" />
<line x1="601.4" y1="369.4" x2="671.9" y2="198.4" stroke="#000" stroke-width="0.8" />
<line x1="601.4" y1="369.4" x2="671.9" y2="226.8" stroke="#000" stroke-width="0.8" />
<line x1="601.4" y1="369.4" x2="671.9" y2="255.1" stroke="#000" stroke-width="0.8" />
<line x1="601.4" y1="369.4" x2="671.9" y2="283.5" stroke="#000" stroke-width="0.8" />
<line x1="601.4" y1="369.4" x2="671.9" y2="311.8" stroke="#000" stroke-width="0.8" />
<line x1="601.4" y1="369.4" x2="671.9" y2="340.1" stroke="#000" stroke-width="0.8" />
<line x1="601.4" y1="369.4" x2="671.9" y2="368.5" stroke="#000" stroke-width="0.8" />
<line x1="601.4" y1="397.9" x2="671.9" y2="198.4" stroke="#000" stroke-width="0.8" />
<line x1="601.4" y1="397.9" x2="671.9" y2="226.8" stroke="#000" stroke-width="0.8" />
<line x1="601.4" y1="397.9" x2="671.9" y2="255.1" stroke="#000" stroke-width="0.8" />
<line x1="601.4" y1="397.9" x2="671.9" y2="283.5" stroke="#000" stroke-width="0.8" />
<line x1="601.4" y1="397.9" x2="671.9" y2="311.8" stroke="#000" stroke-width="0.8" />
<line x1="601.4" y1="397.9" x2="671.9" y2="340.1" stroke="#000" stroke-width="0.8" />
<line x1="601.4" y1="397.9" x2="671.9" y2="368.5" stroke="#000" stroke-width="0.8" />
<line x1="601.4" y1="426.3" x2="671.9" y2="198.4" stroke="#000" stroke-width="0.8" />
<line x1="601.4" y1="426.3" x2="671.9" y2="226.8" stroke="#000" stroke-width="0.8" />
<line x1="601.4" y1="426.3" x2="671.9" y2="255.1" stroke="#000" stroke-width="0.8" />
<line x1="601.4" y1="426.3" x2="671.9" y2="283.5" stroke="#000" stroke-width="0.8" />
<line x1="601.4" y1="426.3" x2="671.9" y2="311.8" stroke="#000" stroke-width="0.8" />
<line x1="601.4" y1="426.3" x2="671.9" y2="340.1" stroke="#000" stroke-width="0.8" />
<line x1="601.4" y1="426.3" x2="671.9" y2="368.5" stroke="#000" stroke-width="0.8" />
</g>
<g stroke="#4468b0" stroke-width="0.9" stroke-linecap="round">
<line x1="327.4" y1="276.2" x2="372.9" y2="140.5" stroke="#4468b0" stroke-width="1.3" />
<line x1="327.4" y1="276.2" x2="372.9" y2="168.9" stroke="#4468b0" stroke-width="1.3" />
<line x1="327.4" y1="276.2" x2="372.9" y2="197.3" stroke="#4468b0" stroke-width="1.3" />
<line x1="327.4" y1="276.2" x2="372.9" y2="225.7" stroke="#4468b0" stroke-width="1.3" />
<line x1="327.4" y1="276.2" x2="372.9" y2="254.1" stroke="#4468b0" stroke-width="1.3" />
<line x1="327.4" y1="276.2" x2="372.9" y2="282.5" stroke="#4468b0" stroke-width="1.3" />
<line x1="327.4" y1="276.2" x2="372.9" y2="310.9" stroke="#4468b0" stroke-width="1.3" />
<line x1="327.4" y1="276.2" x2="372.9" y2="339.3" stroke="#4468b0" stroke-width="1.3" />
<line x1="327.4" y1="276.2" x2="372.9" y2="367.7" stroke="#4468b0" stroke-width="1.3" />
<line x1="327.4" y1="276.2" x2="372.9" y2="396.1" stroke="#4468b0" stroke-width="1.3" />
<line x1="327.4" y1="276.2" x2="372.9" y2="424.5" stroke="#4468b0" stroke-width="1.3" />
<line x1="538.9" y1="276.0" x2="584.6" y2="141.8" stroke="#4468b0" stroke-width="1.3" />
<line x1="538.9" y1="276.0" x2="584.6" y2="170.2" stroke="#4468b0" stroke-width="1.3" />
<line x1="538.9" y1="276.0" x2="584.6" y2="198.7" stroke="#4468b0" stroke-width="1.3" />
<line x1="538.9" y1="276.0" x2="584.6" y2="227.2" stroke="#4468b0" stroke-width="1.3" />
<line x1="538.9" y1="276.0" x2="584.6" y2="255.6" stroke="#4468b0" stroke-width="1.3" />
<line x1="538.9" y1="276.0" x2="584.6" y2="284.1" stroke="#4468b0" stroke-width="1.3" />
<line x1="538.9" y1="276.0" x2="584.6" y2="312.5" stroke="#4468b0" stroke-width="1.3" />
<line x1="538.9" y1="276.0" x2="584.6" y2="341.0" stroke="#4468b0" stroke-width="1.3" />
<line x1="538.9" y1="276.0" x2="584.6" y2="369.4" stroke="#4468b0" stroke-width="1.3" />
<line x1="538.9" y1="276.0" x2="584.6" y2="397.9" stroke="#4468b0" stroke-width="1.3" />
<line x1="538.9" y1="276.0" x2="584.6" y2="426.3" stroke="#4468b0" stroke-width="1.3" />
<line x1="687.7" y1="201.4" x2="721.7" y2="281.0" stroke="#555" stroke-width="0.9" stroke-dasharray="1.5,1.2"/>
<line x1="688.7" y1="226.8" x2="721.7" y2="281.0" stroke="#5a7fb8" stroke-width="1.2" />
<line x1="688.7" y1="255.1" x2="721.7" y2="281.0" stroke="#5a7fb8" stroke-width="1.2" />
<line x1="688.7" y1="283.5" x2="721.7" y2="281.0" stroke="#5a7fb8" stroke-width="1.2" />
<line x1="688.7" y1="311.8" x2="721.7" y2="281.0" stroke="#5a7fb8" stroke-width="1.2" />
<line x1="688.7" y1="340.1" x2="721.7" y2="281.0" stroke="#5a7fb8" stroke-width="1.2" />
<line x1="688.7" y1="368.5" x2="721.7" y2="281.0" stroke="#5a7fb8" stroke-width="1.2" />
</g>
<circle cx="91.0" cy="95.0" r="8.4" fill="#e2efda" stroke="#6a6a6a" stroke-width="0.9"/>
<circle cx="91.0" cy="153.6" r="8.4" fill="#e2efda" stroke="#6a6a6a" stroke-width="0.9"/>
<circle cx="91.0" cy="215.4" r="8.4" fill="#e2efda" stroke="#6a6a6a" stroke-width="0.9"/>
<circle cx="91.0" cy="276.5" r="8.4" fill="#e2efda" stroke="#6a6a6a" stroke-width="0.9"/>
<circle cx="91.0" cy="338.3" r="8.4" fill="#e2efda" stroke="#6a6a6a" stroke-width="0.9"/>
<circle cx="91.0" cy="394.0" r="8.4" fill="#e2efda" stroke="#6a6a6a" stroke-width="0.9"/>
<circle cx="91.0" cy="452.7" r="8.4" fill="#e2efda" stroke="#6a6a6a" stroke-width="0.9"/>
<circle cx="145.6" cy="171.0" r="8.4" fill="#f8c7a6" stroke="#6a5a50" stroke-width="0.9"/>
<circle cx="145.6" cy="199.4" r="8.4" fill="#f8c7a6" stroke="#6a5a50" stroke-width="0.9"/>
<circle cx="145.6" cy="227.8" r="8.4" fill="#f8c7a6" stroke="#6a5a50" stroke-width="0.9"/>
<circle cx="145.6" cy="256.2" r="8.4" fill="#f8c7a6" stroke="#6a5a50" stroke-width="0.9"/>
<circle cx="145.6" cy="284.6" r="8.4" fill="#f8c7a6" stroke="#6a5a50" stroke-width="0.9"/>
<circle cx="145.6" cy="313.0" r="8.4" fill="#f8c7a6" stroke="#6a5a50" stroke-width="0.9"/>
<circle cx="145.6" cy="341.4" r="8.4" fill="#f8c7a6" stroke="#6a5a50" stroke-width="0.9"/>
<circle cx="145.6" cy="369.8" r="8.4" fill="#f8c7a6" stroke="#6a5a50" stroke-width="0.9"/>
<circle cx="145.6" cy="398.2" r="8.4" fill="#f8c7a6" stroke="#6a5a50" stroke-width="0.9"/>
<circle cx="184.2" cy="171.0" r="8.4" fill="#7b7b7b" stroke="#505050" stroke-width="0.9"/>
<circle cx="184.2" cy="199.4" r="8.4" fill="#7b7b7b" stroke="#505050" stroke-width="0.9"/>
<circle cx="184.2" cy="227.8" r="8.4" fill="#7b7b7b" stroke="#505050" stroke-width="0.9"/>
<circle cx="184.2" cy="256.2" r="8.4" fill="#7b7b7b" stroke="#505050" stroke-width="0.9"/>
<circle cx="184.2" cy="284.6" r="8.4" fill="#7b7b7b" stroke="#505050" stroke-width="0.9"/>
<circle cx="184.2" cy="313.0" r="8.4" fill="#7b7b7b" stroke="#505050" stroke-width="0.9"/>
<circle cx="184.2" cy="341.4" r="8.4" fill="#7b7b7b" stroke="#505050" stroke-width="0.9"/>
<circle cx="184.2" cy="369.8" r="8.4" fill="#7b7b7b" stroke="#505050" stroke-width="0.9"/>
<circle cx="184.2" cy="398.2" r="8.4" fill="#7b7b7b" stroke="#505050" stroke-width="0.9"/>
<circle cx="254.0" cy="140.5" r="8.4" fill="#78f8f4" stroke="#2a6a70" stroke-width="0.9"/>
<circle cx="254.0" cy="168.9" r="8.4" fill="#78f8f4" stroke="#2a6a70" stroke-width="0.9"/>
<circle cx="254.0" cy="197.3" r="8.4" fill="#78f8f4" stroke="#2a6a70" stroke-width="0.9"/>
<circle cx="254.0" cy="225.7" r="8.4" fill="#78f8f4" stroke="#2a6a70" stroke-width="0.9"/>
<circle cx="254.0" cy="254.1" r="8.4" fill="#78f8f4" stroke="#2a6a70" stroke-width="0.9"/>
<circle cx="254.0" cy="282.5" r="8.4" fill="#78f8f4" stroke="#2a6a70" stroke-width="0.9"/>
<circle cx="254.0" cy="310.9" r="8.4" fill="#78f8f4" stroke="#2a6a70" stroke-width="0.9"/>
<circle cx="254.0" cy="339.3" r="8.4" fill="#78f8f4" stroke="#2a6a70" stroke-width="0.9"/>
<circle cx="254.0" cy="367.7" r="8.4" fill="#78f8f4" stroke="#2a6a70" stroke-width="0.9"/>
<circle cx="254.0" cy="396.1" r="8.4" fill="#78f8f4" stroke="#2a6a70" stroke-width="0.9"/>
<circle cx="254.0" cy="424.5" r="8.4" fill="#78f8f4" stroke="#2a6a70" stroke-width="0.9"/>
<circle cx="381.3" cy="140.5" r="8.4" fill="#ffffff" stroke="#555" stroke-width="0.9"/>
<circle cx="381.3" cy="168.9" r="8.4" fill="#ffffff" stroke="#555" stroke-width="0.9"/>
<circle cx="381.3" cy="197.3" r="8.4" fill="#ffffff" stroke="#555" stroke-width="0.9"/>
<circle cx="381.3" cy="225.7" r="8.4" fill="#ffffff" stroke="#555" stroke-width="0.9"/>
<circle cx="381.3" cy="254.1" r="8.4" fill="#ffffff" stroke="#555" stroke-width="0.9"/>
<circle cx="381.3" cy="282.5" r="8.4" fill="#ffffff" stroke="#555" stroke-width="0.9"/>
<circle cx="381.3" cy="310.9" r="8.4" fill="#ffffff" stroke="#555" stroke-width="0.9"/>
<circle cx="381.3" cy="339.3" r="8.4" fill="#ffffff" stroke="#555" stroke-width="0.9"/>
<circle cx="381.3" cy="367.7" r="8.4" fill="#ffffff" stroke="#555" stroke-width="0.9"/>
<circle cx="381.3" cy="396.1" r="8.4" fill="#ffffff" stroke="#555" stroke-width="0.9"/>
<circle cx="381.3" cy="424.5" r="8.4" fill="#ffffff" stroke="#555" stroke-width="0.9"/>
<circle cx="451.0" cy="140.5" r="8.4" fill="#78f8f4" stroke="#2a6a70" stroke-width="0.9"/>
<circle cx="451.0" cy="168.9" r="8.4" fill="#78f8f4" stroke="#2a6a70" stroke-width="0.9"/>
<circle cx="451.0" cy="197.3" r="8.4" fill="#78f8f4" stroke="#2a6a70" stroke-width="0.9"/>
<circle cx="451.0" cy="225.7" r="8.4" fill="#78f8f4" stroke="#2a6a70" stroke-width="0.9"/>
<circle cx="451.0" cy="254.1" r="8.4" fill="#78f8f4" stroke="#2a6a70" stroke-width="0.9"/>
<circle cx="451.0" cy="282.5" r="8.4" fill="#78f8f4" stroke="#2a6a70" stroke-width="0.9"/>
<circle cx="451.0" cy="310.9" r="8.4" fill="#78f8f4" stroke="#2a6a70" stroke-width="0.9"/>
<circle cx="451.0" cy="339.3" r="8.4" fill="#78f8f4" stroke="#2a6a70" stroke-width="0.9"/>
<circle cx="451.0" cy="367.7" r="8.4" fill="#78f8f4" stroke="#2a6a70" stroke-width="0.9"/>
<circle cx="451.0" cy="396.1" r="8.4" fill="#78f8f4" stroke="#2a6a70" stroke-width="0.9"/>
<circle cx="451.0" cy="424.5" r="8.4" fill="#78f8f4" stroke="#2a6a70" stroke-width="0.9"/>
<circle cx="593.0" cy="141.8" r="8.4" fill="#ffffff" stroke="#555" stroke-width="0.9"/>
<circle cx="593.0" cy="170.2" r="8.4" fill="#ffffff" stroke="#555" stroke-width="0.9"/>
<circle cx="593.0" cy="198.7" r="8.4" fill="#ffffff" stroke="#555" stroke-width="0.9"/>
<circle cx="593.0" cy="227.2" r="8.4" fill="#ffffff" stroke="#555" stroke-width="0.9"/>
<circle cx="593.0" cy="255.6" r="8.4" fill="#ffffff" stroke="#555" stroke-width="0.9"/>
<circle cx="593.0" cy="284.1" r="8.4" fill="#ffffff" stroke="#555" stroke-width="0.9"/>
<circle cx="593.0" cy="312.5" r="8.4" fill="#ffffff" stroke="#555" stroke-width="0.9"/>
<circle cx="593.0" cy="341.0" r="8.4" fill="#ffffff" stroke="#555" stroke-width="0.9"/>
<circle cx="593.0" cy="369.4" r="8.4" fill="#ffffff" stroke="#555" stroke-width="0.9"/>
<circle cx="593.0" cy="397.9" r="8.4" fill="#ffffff" stroke="#555" stroke-width="0.9"/>
<circle cx="593.0" cy="426.3" r="8.4" fill="#ffffff" stroke="#555" stroke-width="0.9"/>
<g stroke="#4468b0" stroke-linecap="round">
<line x1="82.2" y1="256.3" x2="175.8" y2="171.0" stroke="#4468b0" stroke-width="1.2" />
<line x1="82.2" y1="256.3" x2="137.2" y2="171.0" stroke="#4468b0" stroke-width="1.1" />
<line x1="82.2" y1="256.3" x2="175.8" y2="199.4" stroke="#4468b0" stroke-width="1.2" />
<line x1="82.2" y1="256.3" x2="137.2" y2="199.4" stroke="#4468b0" stroke-width="1.1" />
<line x1="82.2" y1="256.3" x2="175.8" y2="227.8" stroke="#4468b0" stroke-width="1.2" />
<line x1="82.2" y1="256.3" x2="137.2" y2="227.8" stroke="#4468b0" stroke-width="1.1" />
<line x1="82.2" y1="256.3" x2="175.8" y2="256.2" stroke="#4468b0" stroke-width="1.2" />
<line x1="82.2" y1="256.3" x2="137.2" y2="256.2" stroke="#4468b0" stroke-width="1.1" />
<line x1="82.2" y1="256.3" x2="175.8" y2="284.6" stroke="#4468b0" stroke-width="1.2" />
<line x1="82.2" y1="256.3" x2="137.2" y2="284.6" stroke="#4468b0" stroke-width="1.1" />
<line x1="82.2" y1="256.3" x2="175.8" y2="313.0" stroke="#4468b0" stroke-width="1.2" />
<line x1="82.2" y1="256.3" x2="137.2" y2="313.0" stroke="#4468b0" stroke-width="1.1" />
<line x1="82.2" y1="256.3" x2="175.8" y2="341.4" stroke="#4468b0" stroke-width="1.2" />
<line x1="82.2" y1="256.3" x2="137.2" y2="341.4" stroke="#4468b0" stroke-width="1.1" />
<line x1="82.2" y1="256.3" x2="175.8" y2="369.8" stroke="#4468b0" stroke-width="1.2" />
<line x1="82.2" y1="256.3" x2="137.2" y2="369.8" stroke="#4468b0" stroke-width="1.1" />
<line x1="82.2" y1="256.3" x2="175.8" y2="398.2" stroke="#4468b0" stroke-width="1.2" />
<line x1="82.2" y1="256.3" x2="137.2" y2="398.2" stroke="#4468b0" stroke-width="1.1" />
<line x1="135.5" y1="71.9" x2="245.6" y2="140.5" stroke="#4468b0" stroke-width="0.95" />
<line x1="163.2" y1="71.9" x2="245.6" y2="140.5" stroke="#4468b0" stroke-width="0.95" />
<line x1="140.5" y1="71.9" x2="245.6" y2="140.5" stroke="#4468b0" stroke-width="0.95" />
<line x1="168.2" y1="71.9" x2="245.6" y2="140.5" stroke="#4468b0" stroke-width="0.95" />
<line x1="135.5" y1="71.9" x2="245.6" y2="168.9" stroke="#4468b0" stroke-width="0.95" />
<line x1="163.2" y1="71.9" x2="245.6" y2="168.9" stroke="#4468b0" stroke-width="0.95" />
<line x1="140.5" y1="71.9" x2="245.6" y2="168.9" stroke="#4468b0" stroke-width="0.95" />
<line x1="168.2" y1="71.9" x2="245.6" y2="168.9" stroke="#4468b0" stroke-width="0.95" />
<line x1="135.5" y1="71.9" x2="245.6" y2="197.3" stroke="#4468b0" stroke-width="0.95" />
<line x1="163.2" y1="71.9" x2="245.6" y2="197.3" stroke="#4468b0" stroke-width="0.95" />
<line x1="140.5" y1="71.9" x2="245.6" y2="197.3" stroke="#4468b0" stroke-width="0.95" />
<line x1="168.2" y1="71.9" x2="245.6" y2="197.3" stroke="#4468b0" stroke-width="0.95" />
<line x1="135.5" y1="71.9" x2="245.6" y2="225.7" stroke="#4468b0" stroke-width="0.95" />
<line x1="163.2" y1="71.9" x2="245.6" y2="225.7" stroke="#4468b0" stroke-width="0.95" />
<line x1="140.5" y1="71.9" x2="245.6" y2="225.7" stroke="#4468b0" stroke-width="0.95" />
<line x1="168.2" y1="71.9" x2="245.6" y2="225.7" stroke="#4468b0" stroke-width="0.95" />
<line x1="135.5" y1="71.9" x2="245.6" y2="254.1" stroke="#4468b0" stroke-width="0.95" />
<line x1="163.2" y1="71.9" x2="245.6" y2="254.1" stroke="#4468b0" stroke-width="0.95" />
<line x1="140.5" y1="71.9" x2="245.6" y2="254.1" stroke="#4468b0" stroke-width="0.95" />
<line x1="168.2" y1="71.9" x2="245.6" y2="254.1" stroke="#4468b0" stroke-width="0.95" />
<line x1="135.5" y1="71.9" x2="245.6" y2="282.5" stroke="#4468b0" stroke-width="0.95" />
<line x1="163.2" y1="71.9" x2="245.6" y2="282.5" stroke="#4468b0" stroke-width="0.95" />
<line x1="140.5" y1="71.9" x2="245.6" y2="282.5" stroke="#4468b0" stroke-width="0.95" />
<line x1="168.2" y1="71.9" x2="245.6" y2="282.5" stroke="#4468b0" stroke-width="0.95" />
<line x1="135.5" y1="71.9" x2="245.6" y2="310.9" stroke="#4468b0" stroke-width="0.95" />
<line x1="163.2" y1="71.9" x2="245.6" y2="310.9" stroke="#4468b0" stroke-width="0.95" />
<line x1="140.5" y1="71.9" x2="245.6" y2="310.9" stroke="#4468b0" stroke-width="0.95" />
<line x1="168.2" y1="71.9" x2="245.6" y2="310.9" stroke="#4468b0" stroke-width="0.95" />
<line x1="135.5" y1="71.9" x2="245.6" y2="339.3" stroke="#4468b0" stroke-width="0.95" />
<line x1="163.2" y1="71.9" x2="245.6" y2="339.3" stroke="#4468b0" stroke-width="0.95" />
<line x1="140.5" y1="71.9" x2="245.6" y2="339.3" stroke="#4468b0" stroke-width="0.95" />
<line x1="168.2" y1="71.9" x2="245.6" y2="339.3" stroke="#4468b0" stroke-width="0.95" />
<line x1="135.5" y1="71.9" x2="245.6" y2="367.7" stroke="#4468b0" stroke-width="0.95" />
<line x1="163.2" y1="71.9" x2="245.6" y2="367.7" stroke="#4468b0" stroke-width="0.95" />
<line x1="140.5" y1="71.9" x2="245.6" y2="367.7" stroke="#4468b0" stroke-width="0.95" />
<line x1="168.2" y1="71.9" x2="245.6" y2="367.7" stroke="#4468b0" stroke-width="0.95" />
<line x1="135.5" y1="71.9" x2="245.6" y2="396.1" stroke="#4468b0" stroke-width="0.95" />
<line x1="163.2" y1="71.9" x2="245.6" y2="396.1" stroke="#4468b0" stroke-width="0.95" />
<line x1="140.5" y1="71.9" x2="245.6" y2="396.1" stroke="#4468b0" stroke-width="0.95" />
<line x1="168.2" y1="71.9" x2="245.6" y2="396.1" stroke="#4468b0" stroke-width="0.95" />
<line x1="135.5" y1="71.9" x2="245.6" y2="424.5" stroke="#4468b0" stroke-width="0.95" />
<line x1="163.2" y1="71.9" x2="245.6" y2="424.5" stroke="#4468b0" stroke-width="0.95" />
<line x1="140.5" y1="71.9" x2="245.6" y2="424.5" stroke="#4468b0" stroke-width="0.95" />
<line x1="168.2" y1="71.9" x2="245.6" y2="424.5" stroke="#4468b0" stroke-width="0.95" />
<line x1="353.0" y1="70.4" x2="442.6" y2="140.5" stroke="#4468b0" stroke-width="0.95" />
<line x1="380.5" y1="70.4" x2="442.6" y2="140.5" stroke="#4468b0" stroke-width="0.95" />
<line x1="358.0" y1="70.4" x2="442.6" y2="140.5" stroke="#4468b0" stroke-width="0.95" />
<line x1="385.5" y1="70.4" x2="442.6" y2="140.5" stroke="#4468b0" stroke-width="0.95" />
<line x1="353.0" y1="70.4" x2="442.6" y2="168.9" stroke="#4468b0" stroke-width="0.95" />
<line x1="380.5" y1="70.4" x2="442.6" y2="168.9" stroke="#4468b0" stroke-width="0.95" />
<line x1="358.0" y1="70.4" x2="442.6" y2="168.9" stroke="#4468b0" stroke-width="0.95" />
<line x1="385.5" y1="70.4" x2="442.6" y2="168.9" stroke="#4468b0" stroke-width="0.95" />
<line x1="353.0" y1="70.4" x2="442.6" y2="197.3" stroke="#4468b0" stroke-width="0.95" />
<line x1="380.5" y1="70.4" x2="442.6" y2="197.3" stroke="#4468b0" stroke-width="0.95" />
<line x1="358.0" y1="70.4" x2="442.6" y2="197.3" stroke="#4468b0" stroke-width="0.95" />
<line x1="385.5" y1="70.4" x2="442.6" y2="197.3" stroke="#4468b0" stroke-width="0.95" />
<line x1="353.0" y1="70.4" x2="442.6" y2="225.7" stroke="#4468b0" stroke-width="0.95" />
<line x1="380.5" y1="70.4" x2="442.6" y2="225.7" stroke="#4468b0" stroke-width="0.95" />
<line x1="358.0" y1="70.4" x2="442.6" y2="225.7" stroke="#4468b0" stroke-width="0.95" />
<line x1="385.5" y1="70.4" x2="442.6" y2="225.7" stroke="#4468b0" stroke-width="0.95" />
<line x1="353.0" y1="70.4" x2="442.6" y2="254.1" stroke="#4468b0" stroke-width="0.95" />
<line x1="380.5" y1="70.4" x2="442.6" y2="254.1" stroke="#4468b0" stroke-width="0.95" />
<line x1="358.0" y1="70.4" x2="442.6" y2="254.1" stroke="#4468b0" stroke-width="0.95" />
<line x1="385.5" y1="70.4" x2="442.6" y2="254.1" stroke="#4468b0" stroke-width="0.95" />
<line x1="353.0" y1="70.4" x2="442.6" y2="282.5" stroke="#4468b0" stroke-width="0.95" />
<line x1="380.5" y1="70.4" x2="442.6" y2="282.5" stroke="#4468b0" stroke-width="0.95" />
<line x1="358.0" y1="70.4" x2="442.6" y2="282.5" stroke="#4468b0" stroke-width="0.95" />
<line x1="385.5" y1="70.4" x2="442.6" y2="282.5" stroke="#4468b0" stroke-width="0.95" />
<line x1="353.0" y1="70.4" x2="442.6" y2="310.9" stroke="#4468b0" stroke-width="0.95" />
<line x1="380.5" y1="70.4" x2="442.6" y2="310.9" stroke="#4468b0" stroke-width="0.95" />
<line x1="358.0" y1="70.4" x2="442.6" y2="310.9" stroke="#4468b0" stroke-width="0.95" />
<line x1="385.5" y1="70.4" x2="442.6" y2="310.9" stroke="#4468b0" stroke-width="0.95" />
<line x1="353.0" y1="70.4" x2="442.6" y2="339.3" stroke="#4468b0" stroke-width="0.95" />
<line x1="380.5" y1="70.4" x2="442.6" y2="339.3" stroke="#4468b0" stroke-width="0.95" />
<line x1="358.0" y1="70.4" x2="442.6" y2="339.3" stroke="#4468b0" stroke-width="0.95" />
<line x1="385.5" y1="70.4" x2="442.6" y2="339.3" stroke="#4468b0" stroke-width="0.95" />
<line x1="353.0" y1="70.4" x2="442.6" y2="367.7" stroke="#4468b0" stroke-width="0.95" />
<line x1="380.5" y1="70.4" x2="442.6" y2="367.7" stroke="#4468b0" stroke-width="0.95" />
<line x1="358.0" y1="70.4" x2="442.6" y2="367.7" stroke="#4468b0" stroke-width="0.95" />
<line x1="385.5" y1="70.4" x2="442.6" y2="367.7" stroke="#4468b0" stroke-width="0.95" />
<line x1="353.0" y1="70.4" x2="442.6" y2="396.1" stroke="#4468b0" stroke-width="0.95" />
<line x1="380.5" y1="70.4" x2="442.6" y2="396.1" stroke="#4468b0" stroke-width="0.95" />
<line x1="358.0" y1="70.4" x2="442.6" y2="396.1" stroke="#4468b0" stroke-width="0.95" />
<line x1="385.5" y1="70.4" x2="442.6" y2="396.1" stroke="#4468b0" stroke-width="0.95" />
<line x1="353.0" y1="70.4" x2="442.6" y2="424.5" stroke="#4468b0" stroke-width="0.95" />
<line x1="380.5" y1="70.4" x2="442.6" y2="424.5" stroke="#4468b0" stroke-width="0.95" />
<line x1="358.0" y1="70.4" x2="442.6" y2="424.5" stroke="#4468b0" stroke-width="0.95" />
<line x1="385.5" y1="70.4" x2="442.6" y2="424.5" stroke="#4468b0" stroke-width="0.95" />
<line x1="591.7" y1="70.5" x2="671.9" y2="198.4" stroke="#4468b0" stroke-width="1.0" />
<line x1="618.6" y1="70.5" x2="671.9" y2="198.4" stroke="#4468b0" stroke-width="1.0" />
<line x1="596.7" y1="70.5" x2="671.9" y2="198.4" stroke="#4468b0" stroke-width="1.0" />
<line x1="623.6" y1="70.5" x2="671.9" y2="198.4" stroke="#4468b0" stroke-width="1.0" />
<line x1="591.7" y1="70.5" x2="671.9" y2="226.8" stroke="#4468b0" stroke-width="1.0" />
<line x1="618.6" y1="70.5" x2="671.9" y2="226.8" stroke="#4468b0" stroke-width="1.0" />
<line x1="596.7" y1="70.5" x2="671.9" y2="226.8" stroke="#4468b0" stroke-width="1.0" />
<line x1="623.6" y1="70.5" x2="671.9" y2="226.8" stroke="#4468b0" stroke-width="1.0" />
<line x1="591.7" y1="70.5" x2="671.9" y2="255.1" stroke="#4468b0" stroke-width="1.0" />
<line x1="618.6" y1="70.5" x2="671.9" y2="255.1" stroke="#4468b0" stroke-width="1.0" />
<line x1="596.7" y1="70.5" x2="671.9" y2="255.1" stroke="#4468b0" stroke-width="1.0" />
<line x1="623.6" y1="70.5" x2="671.9" y2="255.1" stroke="#4468b0" stroke-width="1.0" />
<line x1="591.7" y1="70.5" x2="671.9" y2="283.5" stroke="#4468b0" stroke-width="1.0" />
<line x1="618.6" y1="70.5" x2="671.9" y2="283.5" stroke="#4468b0" stroke-width="1.0" />
<line x1="596.7" y1="70.5" x2="671.9" y2="283.5" stroke="#4468b0" stroke-width="1.0" />
<line x1="623.6" y1="70.5" x2="671.9" y2="283.5" stroke="#4468b0" stroke-width="1.0" />
<line x1="591.7" y1="70.5" x2="671.9" y2="311.8" stroke="#4468b0" stroke-width="1.0" />
<line x1="618.6" y1="70.5" x2="671.9" y2="311.8" stroke="#4468b0" stroke-width="1.0" />
<line x1="596.7" y1="70.5" x2="671.9" y2="311.8" stroke="#4468b0" stroke-width="1.0" />
<line x1="623.6" y1="70.5" x2="671.9" y2="311.8" stroke="#4468b0" stroke-width="1.0" />
<line x1="591.7" y1="70.5" x2="671.9" y2="340.1" stroke="#4468b0" stroke-width="1.0" />
<line x1="618.6" y1="70.5" x2="671.9" y2="340.1" stroke="#4468b0" stroke-width="1.0" />
<line x1="596.7" y1="70.5" x2="671.9" y2="340.1" stroke="#4468b0" stroke-width="1.0" />
<line x1="623.6" y1="70.5" x2="671.9" y2="340.1" stroke="#4468b0" stroke-width="1.0" />
<line x1="591.7" y1="70.5" x2="671.9" y2="368.5" stroke="#4468b0" stroke-width="1.0" />
<line x1="618.6" y1="70.5" x2="671.9" y2="368.5" stroke="#4468b0" stroke-width="1.0" />
<line x1="596.7" y1="70.5" x2="671.9" y2="368.5" stroke="#4468b0" stroke-width="1.0" />
<line x1="623.6" y1="70.5" x2="671.9" y2="368.5" stroke="#4468b0" stroke-width="1.0" />
</g>
<circle cx="680.3" cy="198.4" r="8.4" fill="#e2efda" stroke="#6a6a6a" stroke-width="0.9"/>
<circle cx="680.3" cy="226.8" r="8.4" fill="#e2efda" stroke="#6a6a6a" stroke-width="0.9"/>
<circle cx="680.3" cy="255.1" r="8.4" fill="#e2efda" stroke="#6a6a6a" stroke-width="0.9"/>
<circle cx="680.3" cy="283.5" r="8.4" fill="#e2efda" stroke="#6a6a6a" stroke-width="0.9"/>
<circle cx="680.3" cy="311.8" r="8.4" fill="#e2efda" stroke="#6a6a6a" stroke-width="0.9"/>
<circle cx="680.3" cy="340.1" r="8.4" fill="#e2efda" stroke="#6a6a6a" stroke-width="0.9"/>
<circle cx="680.3" cy="368.5" r="8.4" fill="#e2efda" stroke="#6a6a6a" stroke-width="0.9"/>
<circle cx="73.8" cy="256.3" r="8.4" fill="#bdd7ee" stroke="#5a7090" stroke-width="0.9"/>
<circle cx="319.0" cy="276.2" r="8.4" fill="#bdd7ee" stroke="#5a7090" stroke-width="0.9"/>
<circle cx="530.5" cy="276.0" r="8.4" fill="#bdd7ee" stroke="#5a7090" stroke-width="0.9"/>
<path d="M111.5,57.6 L111.5,39.3 L165.7,39.3 L165.7,52.6" fill="none" stroke="#4f6fae" stroke-width="1.35"/>
<path d="M161.7,51.6 L169.7,51.6 L165.7,57.6 z" fill="#4472c4"/>
<path d="M111.5,74.4 L111.5,89.8 L132,89.8 L132,79.4" fill="none" stroke="#4f6fae" stroke-width="1.35"/>
<path d="M128,80.4 L136,80.4 L132,73.9 z" fill="#4472c4"/>
<circle cx="111.5" cy="66.0" r="8.4" fill="#bdd7ee" stroke="#5a7090" stroke-width="0.9"/>
<circle cx="138.0" cy="66.0" r="8.4" fill="#bdd7ee" stroke="#5a7090" stroke-width="0.9"/>
<circle cx="165.7" cy="66.0" r="8.4" fill="#bdd7ee" stroke="#5a7090" stroke-width="0.9"/>
<path d="M328,56.1 L328,39.3 L383,39.3 L383,51.1" fill="none" stroke="#4f6fae" stroke-width="1.35"/>
<path d="M379,50.1 L387,50.1 L383,56.1 z" fill="#4472c4"/>
<path d="M328,72.9 L328,89.8 L349.5,89.8 L349.5,77.9" fill="none" stroke="#4f6fae" stroke-width="1.35"/>
<path d="M345.5,78.9 L353.5,78.9 L349.5,72.4 z" fill="#4472c4"/>
<circle cx="328.0" cy="64.5" r="8.4" fill="#bdd7ee" stroke="#5a7090" stroke-width="0.9"/>
<circle cx="355.5" cy="64.5" r="8.4" fill="#bdd7ee" stroke="#5a7090" stroke-width="0.9"/>
<circle cx="383.0" cy="64.5" r="8.4" fill="#bdd7ee" stroke="#5a7090" stroke-width="0.9"/>
<path d="M567,56.199999999999996 L567,39.3 L621.1,39.3 L621.1,51.199999999999996" fill="none" stroke="#4f6fae" stroke-width="1.35"/>
<path d="M617.1,50.199999999999996 L625.1,50.199999999999996 L621.1,56.199999999999996 z" fill="#4472c4"/>
<path d="M567,73.0 L567,89.8 L588.2,89.8 L588.2,78.0" fill="none" stroke="#4f6fae" stroke-width="1.35"/>
<path d="M584.2,79.0 L592.2,79.0 L588.2,72.5 z" fill="#4472c4"/>
<circle cx="567.0" cy="64.6" r="8.4" fill="#bdd7ee" stroke="#5a7090" stroke-width="0.9"/>
<circle cx="594.2" cy="64.6" r="8.4" fill="#bdd7ee" stroke="#5a7090" stroke-width="0.9"/>
<circle cx="621.1" cy="64.6" r="8.4" fill="#bdd7ee" stroke="#5a7090" stroke-width="0.9"/>
<polygon points="310.40000000000003,128.2 336.90000000000003,102.39999999999999 336.90000000000003,208.39999999999998 310.40000000000003,234.2" fill="#8caadd" stroke="#5a6a90" stroke-width="0.8" stroke-linejoin="round"/>
<polygon points="303.1,128.2 310.40000000000003,128.2 336.90000000000003,102.39999999999999 329.6,102.39999999999999" fill="#d6e1f3" stroke="#5a6a90" stroke-width="0.8" stroke-linejoin="round"/>
<rect x="303.1" y="128.2" width="7.3" height="106" fill="#b8c8e6" stroke="#5a6a90" stroke-width="0.8"/>
<line x1="310.40000000000003" y1="128.2" x2="310.40000000000003" y2="234.2" stroke="#22355c" stroke-width="1.4"/>
<polygon points="310.5,355.5 337.0,329.5 337.0,435.5 310.5,461.5" fill="#8caadd" stroke="#5a6a90" stroke-width="0.8" stroke-linejoin="round"/>
<polygon points="303.3,355.5 310.5,355.5 337.0,329.5 329.8,329.5" fill="#d6e1f3" stroke="#5a6a90" stroke-width="0.8" stroke-linejoin="round"/>
<rect x="303.3" y="355.5" width="7.2" height="106" fill="#b8c8e6" stroke="#5a6a90" stroke-width="0.8"/>
<line x1="310.5" y1="355.5" x2="310.5" y2="461.5" stroke="#22355c" stroke-width="1.4"/>
<polygon points="522.0,129.3 548.0,103.80000000000001 548.0,209.8 522.0,235.3" fill="#8caadd" stroke="#5a6a90" stroke-width="0.8" stroke-linejoin="round"/>
<polygon points="514.8,129.3 522.0,129.3 548.0,103.80000000000001 540.8,103.80000000000001" fill="#d6e1f3" stroke="#5a6a90" stroke-width="0.8" stroke-linejoin="round"/>
<rect x="514.8" y="129.3" width="7.2" height="106" fill="#b8c8e6" stroke="#5a6a90" stroke-width="0.8"/>
<line x1="522.0" y1="129.3" x2="522.0" y2="235.3" stroke="#22355c" stroke-width="1.4"/>
<polygon points="522.0,356 548.0,330 548.0,436 522.0,462" fill="#8caadd" stroke="#5a6a90" stroke-width="0.8" stroke-linejoin="round"/>
<polygon points="514.8,356 522.0,356 548.0,330 540.8,330" fill="#d6e1f3" stroke="#5a6a90" stroke-width="0.8" stroke-linejoin="round"/>
<rect x="514.8" y="356" width="7.2" height="106" fill="#b8c8e6" stroke="#5a6a90" stroke-width="0.8"/>
<line x1="522.0" y1="356" x2="522.0" y2="462" stroke="#22355c" stroke-width="1.4"/>
<text x="323" y="173" font-family='"Liberation Serif", serif' font-size="14.5" font-weight="normal" font-style="normal" fill="#1c2a4a" text-anchor="middle" >tanh</text>
<text x="323" y="401" font-family='"Liberation Serif", serif' font-size="14.5" font-weight="normal" font-style="normal" fill="#1c2a4a" text-anchor="middle" >elu</text>
<text x="534.5" y="174" font-family='"Liberation Serif", serif' font-size="14.5" font-weight="normal" font-style="normal" fill="#1c2a4a" text-anchor="middle" >tanh</text>
<text x="534.5" y="401" font-family='"Liberation Serif", serif' font-size="14.5" font-weight="normal" font-style="normal" fill="#1c2a4a" text-anchor="middle" >elu</text>
<text x="57" y="117.7" font-family='"Liberation Serif", serif' font-size="13" fill="#333"><tspan font-style="italic">ssc</tspan><tspan font-size="8.1" dy="-5">0</tspan><tspan font-size="8.1" dx="-4.2" dy="8">i</tspan><tspan dy="-3"> </tspan><tspan>(</tspan><tspan font-style="italic">s</tspan><tspan>,</tspan><tspan font-style="italic">t</tspan><tspan>)</tspan></text>
<text x="65.5" y="475.5" font-family='"Liberation Serif", serif' font-size="13" fill="#333"><tspan font-style="italic">ssc</tspan><tspan font-size="8.1" dy="-5">0</tspan><tspan font-size="8.1" dx="-4.2" dy="8">1</tspan><tspan dy="-3"> </tspan><tspan>(</tspan><tspan font-style="italic">s</tspan><tspan>,</tspan><tspan font-style="italic">t</tspan><tspan>)</tspan></text>
<text x="119" y="153" font-family='"Liberation Serif", serif' font-size="12" fill="#333"><tspan>cor</tspan><tspan font-size="7.4" dy="-5">0</tspan><tspan font-size="7.4" dx="-3.8" dy="8">m</tspan><tspan dy="-3"> </tspan><tspan>(</tspan><tspan font-style="italic">s</tspan><tspan>,</tspan><tspan font-style="italic">t</tspan><tspan>)</tspan></text>
<text x="164.6" y="153" font-family='"Liberation Serif", serif' font-size="12" fill="#333"><tspan>s</tspan><tspan font-size="7.4" dy="-5">0</tspan><tspan font-size="7.4" dx="-3.8" dy="8">m</tspan><tspan dy="-3"> </tspan><tspan>(s, t)</tspan></text>
<text x="119" y="422.5" font-family='"Liberation Serif", serif' font-size="12" fill="#333"><tspan>cor</tspan><tspan font-size="7.4" dy="-5">0</tspan><tspan font-size="7.4" dx="-3.8" dy="8">1</tspan><tspan dy="-3"> </tspan><tspan>(</tspan><tspan font-style="italic">s</tspan><tspan>,</tspan><tspan font-style="italic">t</tspan><tspan>)</tspan></text>
<text x="171.4" y="422.5" font-family='"Liberation Serif", serif' font-size="12.5" fill="#333"><tspan>s</tspan><tspan font-size="7.8" dy="-5">0</tspan><tspan font-size="7.8" dx="-4.0" dy="8">1</tspan><tspan dy="-3"> </tspan><tspan>(s, t)</tspan></text>
<text x="231.3" y="127.7" font-family='"Liberation Serif", serif' font-size="12" fill="#333"><tspan>Pre</tspan><tspan font-size="7.4" dy="-5">1</tspan><tspan font-size="7.4" dx="-3.8" dy="8">N₁</tspan><tspan dy="-3"> </tspan><tspan>(</tspan><tspan font-style="italic">s</tspan><tspan>,</tspan><tspan font-style="italic">t</tspan><tspan>)</tspan></text>
<text x="231.3" y="448.5" font-family='"Liberation Serif", serif' font-size="12" fill="#333"><tspan>Pre</tspan><tspan font-size="7.4" dy="-5">1</tspan><tspan font-size="7.4" dx="-3.8" dy="8">1</tspan><tspan dy="-3"> </tspan><tspan>(</tspan><tspan font-style="italic">s</tspan><tspan>,</tspan><tspan font-style="italic">t</tspan><tspan>)</tspan></text>
<text x="339.9" y="137.7" font-family='"Liberation Serif", serif' font-size="11.5" fill="#333"><tspan>h</tspan><tspan font-size="7.1" dy="-5">1</tspan><tspan font-size="7.1" dx="-3.7" dy="8">N₁</tspan><tspan dy="-3"> </tspan><tspan>(</tspan><tspan font-style="italic">s</tspan><tspan>,</tspan><tspan font-style="italic">t</tspan><tspan>)</tspan></text>
<text x="357.9" y="448.5" font-family='"Liberation Serif", serif' font-size="11.5" fill="#333"><tspan>h</tspan><tspan font-size="7.1" dy="-5">1</tspan><tspan font-size="7.1" dx="-3.7" dy="8">1</tspan><tspan dy="-3"> </tspan><tspan>(</tspan><tspan font-style="italic">s</tspan><tspan>,</tspan><tspan font-style="italic">t</tspan><tspan>)</tspan></text>
<text x="432" y="123.2" font-family='"Liberation Serif", serif' font-size="12.5" fill="#333"><tspan>Pre</tspan><tspan font-size="7.8" dy="-5">2</tspan><tspan font-size="7.8" dx="-4.0" dy="8">N₂</tspan><tspan dy="-3"> </tspan><tspan>(</tspan><tspan font-style="italic">s</tspan><tspan>,</tspan><tspan font-style="italic">t</tspan><tspan>)</tspan></text>
<text x="425.5" y="444.5" font-family='"Liberation Serif", serif' font-size="12.5" fill="#333"><tspan>Pre</tspan><tspan font-size="7.8" dy="-5">2</tspan><tspan font-size="7.8" dx="-4.0" dy="8">1</tspan><tspan dy="-3"> </tspan><tspan>(</tspan><tspan font-style="italic">s</tspan><tspan>,</tspan><tspan font-style="italic">t</tspan><tspan>)</tspan></text>
<text x="560" y="132.8" font-family='"Liberation Serif", serif' font-size="12.5" fill="#333"><tspan>h</tspan><tspan font-size="7.8" dy="-5">2</tspan><tspan font-size="7.8" dx="-4.0" dy="8">N₂</tspan><tspan dy="-3"> </tspan><tspan>(</tspan><tspan font-style="italic">s</tspan><tspan>,</tspan><tspan font-style="italic">t</tspan><tspan>)</tspan></text>
<text x="569.9" y="449.7" font-family='"Liberation Serif", serif' font-size="12.5" fill="#333"><tspan>h</tspan><tspan font-size="7.8" dy="-5">2</tspan><tspan font-size="7.8" dx="-4.0" dy="8">1</tspan><tspan dy="-3"> </tspan><tspan>(</tspan><tspan font-style="italic">s</tspan><tspan>,</tspan><tspan font-style="italic">t</tspan><tspan>)</tspan></text>
<text x="690" y="201.2" font-family='"Liberation Serif", serif' font-size="16" fill="#222" textLength="48" lengthAdjust="spacing">O<tspan font-size="10" dy="3">p</tspan><tspan dy="-3">(</tspan><tspan font-style="italic">s</tspan>,<tspan font-style="italic">t</tspan>)</text>
<text x="691.5" y="379.3" font-family='"Liberation Serif", serif' font-size="16" fill="#222" textLength="42.5" lengthAdjust="spacing">O(<tspan font-style="italic">s</tspan>,<tspan font-style="italic">t</tspan>)</text>
<text x="93.5" y="66.5" font-family='"Liberation Serif", serif' font-size="17" font-style="italic" fill="#222">ξ<tspan font-size="9.4" font-style="normal" dy="-7">1</tspan></text>
<text x="121" y="60" font-family='"Liberation Serif", serif' font-size="17" font-style="italic" fill="#222">ω<tspan font-size="9.4" font-style="normal" dy="-7">1</tspan></text>
<text x="148.7" y="62" font-family='"Liberation Serif", serif' font-size="17" font-style="italic" fill="#222">β<tspan font-size="9.4" font-style="normal" dy="-7">1</tspan></text>
<text x="310" y="65.0" font-family='"Liberation Serif", serif' font-size="17" font-style="italic" fill="#222">ξ<tspan font-size="9.4" font-style="normal" dy="-7">2</tspan></text>
<text x="338.5" y="58.5" font-family='"Liberation Serif", serif' font-size="17" font-style="italic" fill="#222">ω<tspan font-size="9.4" font-style="normal" dy="-7">2</tspan></text>
<text x="366" y="60.5" font-family='"Liberation Serif", serif' font-size="17" font-style="italic" fill="#222">β<tspan font-size="9.4" font-style="normal" dy="-7">2</tspan></text>
<text x="549" y="65.1" font-family='"Liberation Serif", serif' font-size="17" font-style="italic" fill="#222">ξ<tspan font-size="9.4" font-style="normal" dy="-7">3</tspan></text>
<text x="577.2" y="58.599999999999994" font-family='"Liberation Serif", serif' font-size="17" font-style="italic" fill="#222">ω<tspan font-size="9.4" font-style="normal" dy="-7">3</tspan></text>
<text x="604.1" y="60.599999999999994" font-family='"Liberation Serif", serif' font-size="17" font-style="italic" fill="#222">β<tspan font-size="9.4" font-style="normal" dy="-7">3</tspan></text>
<text x="68" y="243" font-family='"Liberation Serif", serif' font-size="17" font-style="italic" fill="#222">ξ<tspan font-size="10" font-style="normal" dy="-7">0</tspan><tspan font-size="10" font-weight="bold" font-style="normal" dx="-6" dy="10">m</tspan></text>
<text x="313.5" y="302.5" font-family='"Liberation Serif", serif' font-size="15" font-style="italic" fill="#222">δ<tspan font-size="8.2" font-style="normal" dy="-7">1</tspan></text>
<text x="524.5" y="300.5" font-family='"Liberation Serif", serif' font-size="15" font-style="italic" fill="#222">δ<tspan font-size="8.2" font-style="normal" dy="-7">2</tspan></text>
<text x="123" y="456.8" font-family='"Liberation Sans", sans-serif' font-size="13" font-weight="bold" font-style="normal" fill="#000" text-anchor="start" textLength="88.7" lengthAdjust="spacingAndGlyphs" >Covariate layer</text>
<text x="277.4" y="480.4" font-family='"Liberation Sans", sans-serif' font-size="13" font-weight="bold" font-style="normal" fill="#000" text-anchor="start" textLength="85.2" lengthAdjust="spacingAndGlyphs" >Hidden layer 1</text>
<text x="484" y="482.3" font-family='"Liberation Sans", sans-serif' font-size="13" font-weight="bold" font-style="normal" fill="#000" text-anchor="start" textLength="85.9" lengthAdjust="spacingAndGlyphs" >Hidden layer 2</text>
<path d="M141.4,423.7 Q141.4,435 147.4,435 L162.4,435 Q167.4,435 167.4,440.2 Q167.4,435 172.4,435 L187.4,435 Q193.4,435 193.4,423.7" fill="none" stroke="#000" stroke-width="2.2" stroke-linejoin="round"/>
<path d="M255,455.6 Q255,464.3 262,464.3 L315,464.3 Q320,464.3 320,471 Q320,464.3 325,464.3 L378,464.3 Q385,464.3 385,455.6" fill="none" stroke="#000" stroke-width="2.4" stroke-linejoin="round"/>
<path d="M453.2,455.6 Q453.2,464.3 460.2,464.3 L521.6,464.3 Q526.6,464.3 526.6,471 Q526.6,464.3 531.6,464.3 L593.6,464.3 Q600.6,464.3 600.6,455.6" fill="none" stroke="#000" stroke-width="2.4" stroke-linejoin="round"/>
<text x="230" y="16" font-family='"Liberation Serif", serif' font-size="12.5" font-weight="bold" font-style="normal" fill="#3a3a3a" text-anchor="start" textLength="222.6" lengthAdjust="spacingAndGlyphs" >Uncertainty Feature Extraction Module</text>
<text x="774.3" y="16" font-family='"Liberation Serif", serif' font-size="12.5" font-weight="bold" font-style="normal" fill="#3a3a3a" text-anchor="start" textLength="189.7" lengthAdjust="spacingAndGlyphs" >Spatiotemporal Inference Module</text>
<path d="M91,36.8 Q91,28 99,28 L334,28 Q339,28 339,22.3 Q339,28 344,28 L583,28 Q591,28 591,36.8" fill="none" stroke="#000" stroke-width="2.6" stroke-linejoin="round"/>
<path d="M675,36.8 Q675,28 683,28 L867.9,28 Q872.9,28 872.9,22.3 Q872.9,28 877.9,28 L1067,28 Q1075,28 1075,36.8" fill="none" stroke="#000" stroke-width="2.6" stroke-linejoin="round"/>
<text x="12.5" y="46" font-family='"Liberation Sans", sans-serif' font-size="18.5" font-weight="bold" font-style="normal" fill="#000" text-anchor="start" textLength="45.5" lengthAdjust="spacingAndGlyphs" >Input</text>
<text x="1149.6" y="52.6" font-family='"Liberation Sans", sans-serif' font-size="18.5" font-weight="bold" font-style="normal" fill="#000" text-anchor="start" textLength="62.5" lengthAdjust="spacingAndGlyphs" >Output</text>
<g transform="matrix(1,-0.5310,0,1,15.5,86.4)"><use href="#hin0" x="0" y="0" width="42" height="48.5"/><rect x="0" y="0" width="42" height="48.5" fill="none" stroke="#404040" stroke-width="0.7"/></g>
<g transform="matrix(1,-0.5310,0,1,15.5,151.5)"><use href="#hin1" x="0" y="0" width="42" height="48.5"/><rect x="0" y="0" width="42" height="48.5" fill="none" stroke="#404040" stroke-width="0.7"/></g>
<g transform="matrix(1,-0.5310,0,1,15.5,212.7)"><use href="#hin2" x="0" y="0" width="42" height="48.5"/><rect x="0" y="0" width="42" height="48.5" fill="none" stroke="#404040" stroke-width="0.7"/></g>
<g transform="matrix(1,-0.5310,0,1,15.5,274.3)"><use href="#hin3" x="0" y="0" width="42" height="48.5"/><rect x="0" y="0" width="42" height="48.5" fill="none" stroke="#404040" stroke-width="0.7"/></g>
<g transform="matrix(1,-0.5310,0,1,15.5,334.8)"><use href="#hin4" x="0" y="0" width="42" height="48.5"/><rect x="0" y="0" width="42" height="48.5" fill="none" stroke="#404040" stroke-width="0.7"/></g>
<g transform="matrix(1,-0.5310,0,1,15.5,393.8)"><use href="#hin5" x="0" y="0" width="42" height="48.5"/><rect x="0" y="0" width="42" height="48.5" fill="none" stroke="#404040" stroke-width="0.7"/></g>
<g transform="matrix(1,-0.5310,0,1,15.5,451)"><use href="#hin6" x="0" y="0" width="42" height="48.5"/><rect x="0" y="0" width="42" height="48.5" fill="none" stroke="#404040" stroke-width="0.7"/></g>
<rect x="667.3" y="71.8" width="118.10000000000002" height="60.500000000000014" fill="#fff" stroke="#555" stroke-width="1"/>
<text x="673" y="90.9" font-family='"Liberation Sans", sans-serif' font-size="12.2" font-weight="bold" font-style="normal" fill="#262626" text-anchor="start" textLength="62" lengthAdjust="spacingAndGlyphs" >filters = 64</text>
<text x="673" y="107.7" font-family='"Liberation Sans", sans-serif' font-size="12.2" font-weight="bold" font-style="normal" fill="#262626" text-anchor="start" textLength="104.6" lengthAdjust="spacingAndGlyphs" >Kernel size = (5,5)</text>
<text x="673" y="124.5" font-family='"Liberation Sans", sans-serif' font-size="12.2" font-weight="bold" font-style="normal" fill="#262626" text-anchor="start" textLength="92" lengthAdjust="spacingAndGlyphs" >padding = same</text>
<rect x="803.4" y="73" width="117.30000000000007" height="60.69999999999999" fill="#fff" stroke="#555" stroke-width="1"/>
<text x="809" y="92.0" font-family='"Liberation Sans", sans-serif' font-size="12.2" font-weight="bold" font-style="normal" fill="#262626" text-anchor="start" textLength="62" lengthAdjust="spacingAndGlyphs" >filters = 64</text>
<text x="809" y="108.8" font-family='"Liberation Sans", sans-serif' font-size="12.2" font-weight="bold" font-style="normal" fill="#262626" text-anchor="start" textLength="104.6" lengthAdjust="spacingAndGlyphs" >Kernel size = (4,4)</text>
<text x="809" y="125.6" font-family='"Liberation Sans", sans-serif' font-size="12.2" font-weight="bold" font-style="normal" fill="#262626" text-anchor="start" textLength="92" lengthAdjust="spacingAndGlyphs" >padding = same</text>
<rect x="938.9" y="73" width="117.80000000000007" height="60.69999999999999" fill="#fff" stroke="#555" stroke-width="1"/>
<text x="944.8" y="92.0" font-family='"Liberation Sans", sans-serif' font-size="12.2" font-weight="bold" font-style="normal" fill="#262626" text-anchor="start" textLength="62" lengthAdjust="spacingAndGlyphs" >filters = 64</text>
<text x="944.8" y="108.8" font-family='"Liberation Sans", sans-serif' font-size="12.2" font-weight="bold" font-style="normal" fill="#262626" text-anchor="start" textLength="104.6" lengthAdjust="spacingAndGlyphs" >Kernel size = (3,3)</text>
<text x="944.8" y="125.6" font-family='"Liberation Sans", sans-serif' font-size="12.2" font-weight="bold" font-style="normal" fill="#262626" text-anchor="start" textLength="92" lengthAdjust="spacingAndGlyphs" >padding = same</text>
<text x="673.5" y="145.9" font-family='"Liberation Sans", sans-serif' font-size="13" font-weight="bold" font-style="normal" fill="#262626" text-anchor="start" textLength="30" lengthAdjust="spacingAndGlyphs" >Cell1</text>
<text x="807" y="144.8" font-family='"Liberation Sans", sans-serif' font-size="13" font-weight="bold" font-style="normal" fill="#262626" text-anchor="start" textLength="30" lengthAdjust="spacingAndGlyphs" >Cell2</text>
<text x="944.3" y="144.8" font-family='"Liberation Sans", sans-serif' font-size="13" font-weight="bold" font-style="normal" fill="#262626" text-anchor="start" textLength="30" lengthAdjust="spacingAndGlyphs" >Cell3</text>
<path d="M721.6,165.8 Q721.6,157.2 729.6,157.2 L813.7,157.2 Q818.7,157.2 818.7,151 Q818.7,157.2 823.7,157.2 L908,157.2 Q916,157.2 916,165.8" fill="none" stroke="#000" stroke-width="2.4" stroke-linejoin="round"/>
<g fill="none" stroke="#c4262e" stroke-width="2.2" stroke-dasharray="17,9">
<path d="M680.3,190 L680.3,180.4 L757,180.4"/>
<path d="M782,189 L782,180.4 L825,180.4" stroke-dasharray="none" stroke-width="0"/>
<path d="M850,189 L850,180.4 L893,180.4" stroke-dasharray="none" stroke-width="0"/>
<path d="M917.3,189 L917.3,180.4 L961,180.4" stroke-dasharray="none" stroke-width="0"/>
</g>
<path d="M680.3,190 L680.3,180.4 L688,180.4" fill="none" stroke="#c4262e" stroke-width="2.2"/>
<line x1="698.4" y1="180.4" x2="715.4" y2="180.4" stroke="#c4262e" stroke-width="2.2"/>
<line x1="725.4" y1="180.4" x2="742.4" y2="180.4" stroke="#c4262e" stroke-width="2.2"/>
<line x1="752.4" y1="180.4" x2="757" y2="180.4" stroke="#c4262e" stroke-width="2.2"/>
<path d="M782,189 L782,180.4 L789,180.4" fill="none" stroke="#c4262e" stroke-width="2.2"/>
<line x1="798" y1="180.4" x2="815" y2="180.4" stroke="#c4262e" stroke-width="2.2"/>
<line x1="825" y1="180.4" x2="829" y2="180.4" stroke="#c4262e" stroke-width="2.2"/>
<path d="M850,189 L850,180.4 L857,180.4" fill="none" stroke="#c4262e" stroke-width="2.2"/>
<line x1="866" y1="180.4" x2="883" y2="180.4" stroke="#c4262e" stroke-width="2.2"/>
<line x1="893" y1="180.4" x2="897" y2="180.4" stroke="#c4262e" stroke-width="2.2"/>
<path d="M917.3,189 L917.3,180.4 L924.3,180.4" fill="none" stroke="#c4262e" stroke-width="2.2"/>
<line x1="933.3" y1="180.4" x2="950.3" y2="180.4" stroke="#c4262e" stroke-width="2.2"/>
<line x1="960.3" y1="180.4" x2="964.3" y2="180.4" stroke="#c4262e" stroke-width="2.2"/>
<path d="M758,180 L768,180 L763,189.5 z" fill="#c4262e"/>
<path d="M826,180 L836,180 L831,189.5 z" fill="#c4262e"/>
<path d="M894,180 L904,180 L899,189.5 z" fill="#c4262e"/>
<path d="M962,180 L972,180 L967,189.5 z" fill="#c4262e"/>
<path d="M733.5,342.5 L733.5,354.5 L738.5,354.5" fill="none" stroke="#c4262e" stroke-width="2.2"/>
<path d="M752.0,354.5 L752.0,349" fill="none" stroke="#c4262e" stroke-width="2.2"/>
<path d="M747.0,351 L757.0,351 L752.0,343 z" fill="#c4262e"/>
<line x1="748.0" y1="354.5" x2="756.0" y2="354.5" stroke="#c4262e" stroke-width="2.2"/>
<path d="M801.4,342.5 L801.4,354.5 L806.4,354.5" fill="none" stroke="#c4262e" stroke-width="2.2"/>
<path d="M819.9,354.5 L819.9,349" fill="none" stroke="#c4262e" stroke-width="2.2"/>
<path d="M814.9,351 L824.9,351 L819.9,343 z" fill="#c4262e"/>
<line x1="815.9" y1="354.5" x2="823.9" y2="354.5" stroke="#c4262e" stroke-width="2.2"/>
<path d="M869.3,342.5 L869.3,354.5 L874.3,354.5" fill="none" stroke="#c4262e" stroke-width="2.2"/>
<path d="M887.8,354.5 L887.8,349" fill="none" stroke="#c4262e" stroke-width="2.2"/>
<path d="M882.8,351 L892.8,351 L887.8,343 z" fill="#c4262e"/>
<line x1="883.8" y1="354.5" x2="891.8" y2="354.5" stroke="#c4262e" stroke-width="2.2"/>
<path d="M675.6999999999999,215.85 L684.9,215.85 L680.3,208.35 z" fill="#c4262e"/>
<line x1="680.3" y1="215.85" x2="680.3" y2="218.35" stroke="#c4262e" stroke-width="1.6"/>
<path d="M675.6999999999999,244.20000000000002 L684.9,244.20000000000002 L680.3,236.70000000000002 z" fill="#c4262e"/>
<line x1="680.3" y1="244.20000000000002" x2="680.3" y2="246.70000000000002" stroke="#c4262e" stroke-width="1.6"/>
<path d="M675.6999999999999,272.55000000000007 L684.9,272.55000000000007 L680.3,265.05000000000007 z" fill="#c4262e"/>
<line x1="680.3" y1="272.55000000000007" x2="680.3" y2="275.05000000000007" stroke="#c4262e" stroke-width="1.6"/>
<path d="M675.6999999999999,300.90000000000003 L684.9,300.90000000000003 L680.3,293.40000000000003 z" fill="#c4262e"/>
<line x1="680.3" y1="300.90000000000003" x2="680.3" y2="303.40000000000003" stroke="#c4262e" stroke-width="1.6"/>
<path d="M675.6999999999999,329.25 L684.9,329.25 L680.3,321.75 z" fill="#c4262e"/>
<line x1="680.3" y1="329.25" x2="680.3" y2="331.75" stroke="#c4262e" stroke-width="1.6"/>
<path d="M675.6999999999999,357.6 L684.9,357.6 L680.3,350.1 z" fill="#c4262e"/>
<line x1="680.3" y1="357.6" x2="680.3" y2="360.1" stroke="#c4262e" stroke-width="1.6"/>
<path d="M675.8,392 L684.8,392 L680.3,384 z" fill="#c4262e"/>
<line x1="680.3" y1="397" x2="680.3" y2="412" stroke="#c4262e" stroke-width="2.2"/>
<line x1="691.5" y1="414.5" x2="709.5" y2="414.5" stroke="#c4262e" stroke-width="2.2"/>
<line x1="719.3" y1="414.5" x2="737.3" y2="414.5" stroke="#c4262e" stroke-width="2.2"/>
<line x1="747.0999999999999" y1="414.5" x2="765.0999999999999" y2="414.5" stroke="#c4262e" stroke-width="2.2"/>
<line x1="774.8999999999999" y1="414.5" x2="792.8999999999999" y2="414.5" stroke="#c4262e" stroke-width="2.2"/>
<line x1="802.6999999999998" y1="414.5" x2="820.6999999999998" y2="414.5" stroke="#c4262e" stroke-width="2.2"/>
<line x1="830.4999999999998" y1="414.5" x2="848.4999999999998" y2="414.5" stroke="#c4262e" stroke-width="2.2"/>
<line x1="858.2999999999997" y1="414.5" x2="876.2999999999997" y2="414.5" stroke="#c4262e" stroke-width="2.2"/>
<line x1="886.0999999999997" y1="414.5" x2="904.0999999999997" y2="414.5" stroke="#c4262e" stroke-width="2.2"/>
<line x1="913.8999999999996" y1="414.5" x2="931.8999999999996" y2="414.5" stroke="#c4262e" stroke-width="2.2"/>
<line x1="941.6999999999996" y1="414.5" x2="959.6999999999996" y2="414.5" stroke="#c4262e" stroke-width="2.2"/>
<line x1="969.4999999999995" y1="414.5" x2="987.4999999999995" y2="414.5" stroke="#c4262e" stroke-width="2.2"/>
<line x1="997.2999999999995" y1="414.5" x2="1015.2999999999995" y2="414.5" stroke="#c4262e" stroke-width="2.2"/>
<line x1="1025.0999999999995" y1="414.5" x2="1026" y2="414.5" stroke="#c4262e" stroke-width="2.2"/>
<line x1="1031" y1="334.5" x2="1031" y2="352.4" stroke="#c4262e" stroke-width="2.2"/>
<line x1="1031" y1="364.3" x2="1031" y2="382" stroke="#c4262e" stroke-width="2.2"/>
<line x1="1031" y1="393.3" x2="1031" y2="413" stroke="#c4262e" stroke-width="2.2"/>
<text x="887.4" y="436.7" font-family='"Liberation Sans", sans-serif' font-size="13" font-weight="bold" font-style="normal" fill="#b3262f" text-anchor="end" textLength="103.6" lengthAdjust="spacingAndGlyphs" >Rolling Prediction</text>
<polygon points="742.5999999999999,220.6 771.0999999999999,191.0 771.0999999999999,312.5 742.5999999999999,342.1" fill="#d6d6d6" stroke="#6a6a6a" stroke-width="0.8" stroke-linejoin="round"/>
<polygon points="722.3,220.6 742.5999999999999,220.6 771.0999999999999,191.0 750.8,191.0" fill="#ececec" stroke="#6a6a6a" stroke-width="0.8" stroke-linejoin="round"/>
<rect x="722.3" y="220.6" width="20.3" height="121.5" fill="#f2f2f2" stroke="#6a6a6a" stroke-width="0.8"/>
<polygon points="757.0,220.6 786.6,191.0 786.6,312.5 757.0,342.1" fill="#c5e0b4" stroke="#5e6e55" stroke-width="0.8" stroke-linejoin="round"/>
<polygon points="748.3,220.6 757.0,220.6 786.6,191.0 777.9,191.0" fill="#e6f2df" stroke="#5e6e55" stroke-width="0.8" stroke-linejoin="round"/>
<rect x="748.3" y="220.6" width="8.7" height="121.5" fill="#e2efda" stroke="#5e6e55" stroke-width="0.8"/>
<text transform="translate(738.3,281.5) rotate(-90)" font-family='"Liberation Serif", serif' font-size="16.5" fill="#222" text-anchor="middle" textLength="107" lengthAdjust="spacingAndGlyphs">ConvLSTMCell</text>
<polygon points="810.5,220.6 839.0,191.0 839.0,312.5 810.5,342.1" fill="#d6d6d6" stroke="#6a6a6a" stroke-width="0.8" stroke-linejoin="round"/>
<polygon points="790.2,220.6 810.5,220.6 839.0,191.0 818.7,191.0" fill="#ececec" stroke="#6a6a6a" stroke-width="0.8" stroke-linejoin="round"/>
<rect x="790.2" y="220.6" width="20.3" height="121.5" fill="#f2f2f2" stroke="#6a6a6a" stroke-width="0.8"/>
<polygon points="824.9000000000001,220.6 854.5000000000001,191.0 854.5000000000001,312.5 824.9000000000001,342.1" fill="#c5e0b4" stroke="#5e6e55" stroke-width="0.8" stroke-linejoin="round"/>
<polygon points="816.2,220.6 824.9000000000001,220.6 854.5000000000001,191.0 845.8000000000001,191.0" fill="#e6f2df" stroke="#5e6e55" stroke-width="0.8" stroke-linejoin="round"/>
<rect x="816.2" y="220.6" width="8.7" height="121.5" fill="#e2efda" stroke="#5e6e55" stroke-width="0.8"/>
<text transform="translate(806.2,281.5) rotate(-90)" font-family='"Liberation Serif", serif' font-size="16.5" fill="#222" text-anchor="middle" textLength="107" lengthAdjust="spacingAndGlyphs">ConvLSTMCell</text>
<polygon points="878.4,220.6 906.9,191.0 906.9,312.5 878.4,342.1" fill="#d6d6d6" stroke="#6a6a6a" stroke-width="0.8" stroke-linejoin="round"/>
<polygon points="858.1,220.6 878.4,220.6 906.9,191.0 886.6,191.0" fill="#ececec" stroke="#6a6a6a" stroke-width="0.8" stroke-linejoin="round"/>
<rect x="858.1" y="220.6" width="20.3" height="121.5" fill="#f2f2f2" stroke="#6a6a6a" stroke-width="0.8"/>
<polygon points="892.2,220.6 921.8000000000001,191.0 921.8000000000001,312.5 892.2,342.1" fill="#c5e0b4" stroke="#5e6e55" stroke-width="0.8" stroke-linejoin="round"/>
<polygon points="883.5,220.6 892.2,220.6 921.8000000000001,191.0 913.1,191.0" fill="#e6f2df" stroke="#5e6e55" stroke-width="0.8" stroke-linejoin="round"/>
<rect x="883.5" y="220.6" width="8.7" height="121.5" fill="#e2efda" stroke="#5e6e55" stroke-width="0.8"/>
<text transform="translate(874.1,281.5) rotate(-90)" font-family='"Liberation Serif", serif' font-size="16.5" fill="#222" text-anchor="middle" textLength="107" lengthAdjust="spacingAndGlyphs">ConvLSTMCell</text>
<polygon points="941.1,220.5 971.1,191.0 971.1,312.0 941.1,341.5" fill="#fcdc88" stroke="#6a5a3a" stroke-width="0.8" stroke-linejoin="round"/>
<polygon points="932.9,220.5 941.1,220.5 971.1,191.0 962.9,191.0" fill="#fff2cc" stroke="#6a5a3a" stroke-width="0.8" stroke-linejoin="round"/>
<rect x="932.9" y="220.5" width="8.2" height="121" fill="#fff2cc" stroke="#6a5a3a" stroke-width="0.8"/>
<text transform="translate(963,265.5) rotate(-90)" font-family='"Liberation Serif", serif' font-size="16.5" fill="#222" text-anchor="middle" textLength="58" lengthAdjust="spacingAndGlyphs">Conv2D</text>
<text x="952.4" y="359.6" font-family='"Liberation Sans", sans-serif' font-size="13" font-weight="bold" font-style="normal" fill="#262626" text-anchor="middle" textLength="45.6" lengthAdjust="spacingAndGlyphs" >Conv2D</text>
<rect x="901" y="368.6" width="114.5" height="35.799999999999955" fill="#fff" stroke="#555" stroke-width="1"/>
<text x="906" y="382.8" font-family='"Liberation Sans", sans-serif' font-size="12.2" font-weight="bold" font-style="normal" fill="#262626" text-anchor="start" textLength="62" lengthAdjust="spacingAndGlyphs" >filters = 99</text>
<text x="906" y="399.2" font-family='"Liberation Sans", sans-serif' font-size="12.2" font-weight="bold" font-style="normal" fill="#262626" text-anchor="start" textLength="103.5" lengthAdjust="spacingAndGlyphs" >Kernel size = (1,1)</text>
<path d="M983.5,249.5 L1000.2,249.5 L1000.2,242.7 L1014.8,256.6 L1000.2,270.6 L1000.2,263.8 L983.5,263.8 Z" fill="#4466bb" stroke="#b0203c" stroke-width="2" stroke-linejoin="miter"/>
<g transform="matrix(1,-0.9706,0,1,1027,231)"><use href="#hpred" x="0" y="0" width="34" height="65.4"/><rect x="0" y="0" width="34" height="65.4" fill="none" stroke="#404040" stroke-width="0.7"/></g>
<path d="M1090,125.5 Q1080.3,126 1080.3,136 L1080.3,141" fill="none" stroke="#c4262e" stroke-width="2.2"/>
<line x1="1080.3" y1="151" x2="1080.3" y2="168" stroke="#c4262e" stroke-width="2.2"/>
<line x1="1080.3" y1="177" x2="1080.3" y2="194" stroke="#c4262e" stroke-width="2.2"/>
<line x1="1080.3" y1="203" x2="1080.3" y2="220" stroke="#c4262e" stroke-width="2.2"/>
<line x1="1080.3" y1="229" x2="1080.3" y2="246" stroke="#c4262e" stroke-width="2.2"/>
<line x1="1080.3" y1="255" x2="1080.3" y2="272" stroke="#c4262e" stroke-width="2.2"/>
<path d="M1080.3,279.5 L1071.8,286.3 L1079,290.2" fill="none" stroke="#c4262e" stroke-width="2.2"/>
<line x1="1080.3" y1="297" x2="1080.3" y2="314" stroke="#c4262e" stroke-width="2.2"/>
<line x1="1080.3" y1="323" x2="1080.3" y2="340" stroke="#c4262e" stroke-width="2.2"/>
<line x1="1080.3" y1="349" x2="1080.3" y2="366" stroke="#c4262e" stroke-width="2.2"/>
<line x1="1080.3" y1="375" x2="1080.3" y2="392" stroke="#c4262e" stroke-width="2.2"/>
<line x1="1080.3" y1="401" x2="1080.3" y2="418" stroke="#c4262e" stroke-width="2.2"/>
<line x1="1080.3" y1="427" x2="1080.3" y2="430" stroke="#c4262e" stroke-width="2.2"/>
<path d="M1080.3,436 L1080.3,440 Q1080.3,447.5 1090,447.5" fill="none" stroke="#c4262e" stroke-width="2.2"/>
<text x="1069.7" y="117.6" font-family='"Liberation Sans", sans-serif' font-size="13" font-weight="bold" font-style="normal" fill="#262626" text-anchor="start" textLength="60" lengthAdjust="spacingAndGlyphs" >Percentile</text>
<path d="M1107,146.1 L1114.2,146.1 L1114.2,143.20000000000002 L1124,149.4 L1114.2,155.6 L1114.2,152.70000000000002 L1107,152.70000000000002 Z" fill="#e30000" stroke="#5a0808" stroke-width="0.9" stroke-linejoin="miter"/>
<text x="1102" y="166.7" font-family='"Liberation Sans", sans-serif' font-size="12" font-weight="bold" font-style="normal" fill="#1a1a1a" text-anchor="start" textLength="26" lengthAdjust="spacingAndGlyphs" >90th</text>
<path d="M1107,270.3 L1114.2,270.3 L1114.2,267.40000000000003 L1124,273.6 L1114.2,279.8 L1114.2,276.90000000000003 L1107,276.90000000000003 Z" fill="#e30000" stroke="#5a0808" stroke-width="0.9" stroke-linejoin="miter"/>
<text x="1100.2" y="290.6" font-family='"Liberation Sans", sans-serif' font-size="12" font-weight="bold" font-style="normal" fill="#1a1a1a" text-anchor="start" textLength="26" lengthAdjust="spacingAndGlyphs" >50th</text>
<path d="M1107,415.59999999999997 L1114.2,415.59999999999997 L1114.2,412.7 L1124,418.9 L1114.2,425.09999999999997 L1114.2,422.2 L1107,422.2 Z" fill="#e30000" stroke="#5a0808" stroke-width="0.9" stroke-linejoin="miter"/>
<text x="1102.8" y="439.5" font-family='"Liberation Sans", sans-serif' font-size="12" font-weight="bold" font-style="normal" fill="#1a1a1a" text-anchor="start" textLength="26" lengthAdjust="spacingAndGlyphs" >10th</text>
<circle cx="1234.7" cy="320" r="3.6" fill="#000"/>
<circle cx="1234.7" cy="334" r="3.6" fill="#000"/>
<circle cx="1234.7" cy="349.8" r="3.6" fill="#000"/>
<g transform="matrix(1,-1.0515,0,1,1134.3,102.9)"><use href="#hout" x="0" y="0" width="44.7" height="90.4"/><rect x="0" y="0" width="44.7" height="90.4" fill="none" stroke="#404040" stroke-width="0.7"/></g>
<g transform="matrix(1,-1.0515,0,1,1177.3,102.9)"><use href="#hout" x="0" y="0" width="44.7" height="90.4"/><rect x="0" y="0" width="44.7" height="90.4" fill="none" stroke="#404040" stroke-width="0.7"/></g>
<g transform="matrix(1,-1.0515,0,1,1220.6,102.9)"><use href="#hout" x="0" y="0" width="44.7" height="90.4"/><rect x="0" y="0" width="44.7" height="90.4" fill="none" stroke="#404040" stroke-width="0.7"/></g>
<g transform="matrix(1,-1.0379,0,1,1133.4,236.3)"><use href="#hout2" x="0" y="0" width="44.8" height="90.4"/><rect x="0" y="0" width="44.8" height="90.4" fill="none" stroke="#404040" stroke-width="0.7"/></g>
<g transform="matrix(1,-1.0379,0,1,1176.4,236.3)"><use href="#hout2" x="0" y="0" width="44.8" height="90.4"/><rect x="0" y="0" width="44.8" height="90.4" fill="none" stroke="#404040" stroke-width="0.7"/></g>
<g transform="matrix(1,-1.0379,0,1,1219.2,236.3)"><use href="#hout2" x="0" y="0" width="44.8" height="90.4"/><rect x="0" y="0" width="44.8" height="90.4" fill="none" stroke="#404040" stroke-width="0.7"/></g>
<g transform="matrix(1,-1.0367,0,1,1132.5,405.1)"><use href="#hout2" x="0" y="0" width="46.3" height="94.9"/><rect x="0" y="0" width="46.3" height="94.9" fill="none" stroke="#404040" stroke-width="0.7"/></g>
<g transform="matrix(1,-1.0367,0,1,1176.4,405.1)"><use href="#hout2" x="0" y="0" width="46.3" height="94.9"/><rect x="0" y="0" width="46.3" height="94.9" fill="none" stroke="#404040" stroke-width="0.7"/></g>
<g transform="matrix(1,-1.0367,0,1,1220.7,405.1)"><use href="#hout2" x="0" y="0" width="46.3" height="94.9"/><rect x="0" y="0" width="46.3" height="94.9" fill="none" stroke="#404040" stroke-width="0.7"/></g>
<text x="59.2" y="537.2" font-family='"Liberation Sans", sans-serif' font-size="18.5" font-weight="bold" font-style="normal" fill="#b3222d" text-anchor="start" textLength="107.8" lengthAdjust="spacingAndGlyphs" >Data stream</text>
<g transform="matrix(1,-0.5520,0,1,85.4,583.7)"><use href="#hleg" x="0" y="0" width="62.5" height="71.6"/><rect x="0" y="0" width="62.5" height="71.6" fill="none" stroke="#404040" stroke-width="0.7"/></g>
<text x="112.6" y="683.7" font-family='"Liberation Sans", sans-serif' font-size="13" font-weight="bold" font-style="italic" fill="#1a1a1a" text-anchor="middle" textLength="85.9" lengthAdjust="spacingAndGlyphs" >Cloud-covered</text>
<text x="112.4" y="700.8" font-family='"Liberation Sans", sans-serif' font-size="13" font-weight="bold" font-style="italic" fill="#1a1a1a" text-anchor="middle" textLength="56.1" lengthAdjust="spacingAndGlyphs" >Sequence</text>
<circle cx="228.2" cy="538.0" r="8.4" fill="#e2efda" stroke="#6a6a6a" stroke-width="0.9"/>
<text x="228.5" y="572.8" font-family='"Liberation Sans", sans-serif' font-size="13" font-weight="bold" font-style="italic" fill="#1a1a1a" text-anchor="middle" textLength="93.5" lengthAdjust="spacingAndGlyphs" >Spatiotemporal</text>
<text x="228.5" y="590" font-family='"Liberation Sans", sans-serif' font-size="13" font-weight="bold" font-style="italic" fill="#1a1a1a" text-anchor="middle" textLength="45" lengthAdjust="spacingAndGlyphs" >Feature</text>
<circle cx="228.2" cy="651.0" r="8.4" fill="#f8c7a6" stroke="#6a5a50" stroke-width="0.9"/>
<text x="226.5" y="685.5" font-family='"Liberation Sans", sans-serif' font-size="13" font-weight="bold" font-style="italic" fill="#1a1a1a" text-anchor="middle" textLength="92.4" lengthAdjust="spacingAndGlyphs" >Spatiotemporal</text>
<text x="226.5" y="702.6" font-family='"Liberation Sans", sans-serif' font-size="13" font-weight="bold" font-style="italic" fill="#1a1a1a" text-anchor="middle" textLength="57" lengthAdjust="spacingAndGlyphs" >Covariate</text>
<circle cx="331.7" cy="537.7" r="8.6" fill="#7b7b7b" stroke="#505050" stroke-width="0.9"/>
<text x="338.4" y="573" font-family='"Liberation Sans", sans-serif' font-size="13" font-weight="bold" font-style="italic" fill="#1a1a1a" text-anchor="middle" textLength="103" lengthAdjust="spacingAndGlyphs" >Covariate Scaling</text>
<text x="337.9" y="590.3" font-family='"Liberation Sans", sans-serif' font-size="13" font-weight="bold" font-style="italic" fill="#1a1a1a" text-anchor="middle" textLength="33.3" lengthAdjust="spacingAndGlyphs" >Layer</text>
<circle cx="333.4" cy="652.0" r="8.6" fill="#78f8f4" stroke="#2a6a70" stroke-width="0.9"/>
<text x="334.6" y="685.7" font-family='"Liberation Sans", sans-serif' font-size="13" font-weight="bold" font-style="italic" fill="#1a1a1a" text-anchor="middle" textLength="83.4" lengthAdjust="spacingAndGlyphs" >Pre-activation</text>
<text x="334.3" y="702.9" font-family='"Liberation Sans", sans-serif' font-size="13" font-weight="bold" font-style="italic" fill="#1a1a1a" text-anchor="middle" textLength="25.3" lengthAdjust="spacingAndGlyphs" >Unit</text>
<polygon points="427.3,553.2 454.2,526.3000000000001 454.2,632.3000000000001 427.3,659.2" fill="#8caadd" stroke="#5a6a90" stroke-width="0.8" stroke-linejoin="round"/>
<polygon points="419.8,553.2 427.3,553.2 454.2,526.3000000000001 446.7,526.3000000000001" fill="#d6e1f3" stroke="#5a6a90" stroke-width="0.8" stroke-linejoin="round"/>
<rect x="419.8" y="553.2" width="7.5" height="106" fill="#b8c8e6" stroke="#5a6a90" stroke-width="0.8"/>
<line x1="427.3" y1="553.2" x2="427.3" y2="659.2" stroke="#22355c" stroke-width="1.4"/>
<text x="438.1" y="686.7" font-family='"Liberation Sans", sans-serif' font-size="13" font-weight="bold" font-style="italic" fill="#1a1a1a" text-anchor="middle" textLength="61.1" lengthAdjust="spacingAndGlyphs" >Activation</text>
<text x="438.4" y="703.9" font-family='"Liberation Sans", sans-serif' font-size="13" font-weight="bold" font-style="italic" fill="#1a1a1a" text-anchor="middle" textLength="32.3" lengthAdjust="spacingAndGlyphs" >Units</text>
<circle cx="539.8" cy="537.0" r="8.6" fill="#ffffff" stroke="#555" stroke-width="0.9"/>
<text x="540.4" y="572" font-family='"Liberation Sans", sans-serif' font-size="13" font-weight="bold" font-style="italic" fill="#1a1a1a" text-anchor="middle" textLength="90.9" lengthAdjust="spacingAndGlyphs" >Post-activation</text>
<text x="540.4" y="589.3" font-family='"Liberation Sans", sans-serif' font-size="13" font-weight="bold" font-style="italic" fill="#1a1a1a" text-anchor="middle" textLength="33.3" lengthAdjust="spacingAndGlyphs" >Layer</text>
<circle cx="539.8" cy="651.2" r="8.6" fill="#bdd7ee" stroke="#5a7090" stroke-width="0.9"/>
<text x="543.7" y="684.6" font-family='"Liberation Sans", sans-serif' font-size="13" font-weight="bold" font-style="italic" fill="#1a1a1a" text-anchor="middle" textLength="52" lengthAdjust="spacingAndGlyphs" >Network</text>
<text x="543.7" y="701" font-family='"Liberation Sans", sans-serif' font-size="13" font-weight="bold" font-style="italic" fill="#1a1a1a" text-anchor="middle" textLength="64.2" lengthAdjust="spacingAndGlyphs" >Parameter</text>
<path d="M174.4,709.7 Q174.4,718.3 181.4,718.3 L374.8,718.3 Q379.8,718.3 379.8,725.2 Q379.8,718.3 384.8,718.3 L577.9,718.3 Q584.9,718.3 584.9,709.7" fill="none" stroke="#000" stroke-width="2.4" stroke-linejoin="round"/>
<polygon points="680.2,551.5 711.2,520.5 711.2,642.5 680.2,673.5" fill="#d4d4d4" stroke="#6a6a6a" stroke-width="0.8" stroke-linejoin="round"/>
<polygon points="659.6,551.5 680.2,551.5 711.2,520.5 690.6,520.5" fill="#f2f2f2" stroke="#6a6a6a" stroke-width="0.8" stroke-linejoin="round"/>
<rect x="659.6" y="551.5" width="20.6" height="122" fill="#fafafa" stroke="#6a6a6a" stroke-width="0.8"/>
<text x="686.1" y="688.4" font-family='"Liberation Sans", sans-serif' font-size="13" font-weight="bold" font-style="italic" fill="#1a1a1a" text-anchor="middle" textLength="63.6" lengthAdjust="spacingAndGlyphs" >ConvLSTM</text>
<text x="686.1" y="705.6" font-family='"Liberation Sans", sans-serif' font-size="13" font-weight="bold" font-style="italic" fill="#1a1a1a" text-anchor="middle" textLength="20.2" lengthAdjust="spacingAndGlyphs" >Cell</text>
<polygon points="779.0,547.3 810.0,517.6999999999999 810.0,639.9 779.0,669.5" fill="#c5e0b4" stroke="#5e6e55" stroke-width="0.8" stroke-linejoin="round"/>
<polygon points="770.7,547.3 779.0,547.3 810.0,517.6999999999999 801.7,517.6999999999999" fill="#e6f2df" stroke="#5e6e55" stroke-width="0.8" stroke-linejoin="round"/>
<rect x="770.7" y="547.3" width="8.3" height="122.2" fill="#e2efda" stroke="#5e6e55" stroke-width="0.8"/>
<text x="790.4" y="688.4" font-family='"Liberation Sans", sans-serif' font-size="13" font-weight="bold" font-style="italic" fill="#1a1a1a" text-anchor="middle" textLength="49" lengthAdjust="spacingAndGlyphs" >Dropout</text>
<text x="790.4" y="705.6" font-family='"Liberation Sans", sans-serif' font-size="13" font-weight="bold" font-style="italic" fill="#1a1a1a" text-anchor="middle" textLength="31.8" lengthAdjust="spacingAndGlyphs" >Layer</text>
<polygon points="879.8,546.3 910.0,517.0 910.0,639.2 879.8,668.5" fill="#fde39a" stroke="#6a5a3a" stroke-width="0.8" stroke-linejoin="round"/>
<polygon points="870.5,546.3 879.8,546.3 910.0,517.0 900.7,517.0" fill="#fff2cc" stroke="#6a5a3a" stroke-width="0.8" stroke-linejoin="round"/>
<rect x="870.5" y="546.3" width="9.3" height="122.2" fill="#fff2cc" stroke="#6a5a3a" stroke-width="0.8"/>
<text x="889.1" y="688.4" font-family='"Liberation Sans", sans-serif' font-size="13" font-weight="bold" font-style="italic" fill="#1a1a1a" text-anchor="middle" textLength="45.4" lengthAdjust="spacingAndGlyphs" >Conv2D</text>
<text x="889.4" y="705.6" font-family='"Liberation Sans", sans-serif' font-size="13" font-weight="bold" font-style="italic" fill="#1a1a1a" text-anchor="middle" textLength="31.8" lengthAdjust="spacingAndGlyphs" >Layer</text>
<path d="M666.5,709.7 Q666.5,718.3 673.5,718.3 L784.3,718.3 Q789.3,718.3 789.3,725.2 Q789.3,718.3 794.3,718.3 L906.2,718.3 Q913.2,718.3 913.2,709.7" fill="none" stroke="#000" stroke-width="2.4" stroke-linejoin="round"/>
<line x1="949" y1="607" x2="978.2" y2="607" stroke="#e0141a" stroke-width="3"/>
<line x1="992.7" y1="607" x2="1012" y2="607" stroke="#e0141a" stroke-width="3"/>
<path d="M1010,600.5 L1026.2,607 L1010,613.5 z" fill="#e0141a"/>
<text x="987.1" y="690.7" font-family='"Liberation Sans", sans-serif' font-size="13" font-weight="bold" font-style="normal" fill="#1a1a1a" text-anchor="middle" textLength="41.4" lengthAdjust="spacingAndGlyphs" >Rolling</text>
<text x="988.4" y="707.5" font-family='"Liberation Sans", sans-serif' font-size="13" font-weight="bold" font-style="normal" fill="#1a1a1a" text-anchor="middle" textLength="62.1" lengthAdjust="spacingAndGlyphs" >Prediction</text>
<g transform="matrix(1,-1.0292,0,1,1066.2,557.3)"><use href="#hout2" x="0" y="0" width="44.5" height="114.5"/><rect x="0" y="0" width="44.5" height="114.5" fill="none" stroke="#404040" stroke-width="0.7"/></g>
<g transform="matrix(1,-1.0292,0,1,1092.4,557.3)"><use href="#hout2" x="0" y="0" width="44.5" height="114.5"/><rect x="0" y="0" width="44.5" height="114.5" fill="none" stroke="#404040" stroke-width="0.7"/></g>
<g transform="matrix(1,-1.0292,0,1,1118.9,557.3)"><use href="#hout2" x="0" y="0" width="44.5" height="114.5"/><rect x="0" y="0" width="44.5" height="114.5" fill="none" stroke="#404040" stroke-width="0.7"/></g>
<text x="1107.3" y="690.7" font-family='"Liberation Sans", sans-serif' font-size="13" font-weight="bold" font-style="italic" fill="#1a1a1a" text-anchor="middle" textLength="73.8" lengthAdjust="spacingAndGlyphs" >Probabilistic</text>
<text x="1106.5" y="707.5" font-family='"Liberation Sans", sans-serif' font-size="13" font-weight="bold" font-style="italic" fill="#1a1a1a" text-anchor="middle" textLength="43" lengthAdjust="spacingAndGlyphs" >Output</text>
<line x1="33.6" y1="736.3" x2="1199" y2="736.3" stroke="#222" stroke-width="1.6" stroke-dasharray="18.3,10.4"/>
<text x="67.2" y="757" font-family='"Liberation Sans", sans-serif' font-size="13" font-weight="bold" font-style="normal" fill="#1a1a1a" text-anchor="start" textLength="95.6" lengthAdjust="spacingAndGlyphs" >(lon, lat, period)</text>
<path d="M212.6,748.45 L268.0,748.45 L268.0,745.0 L271.8,752 L268.0,759.0 L268.0,755.55 L212.6,755.55 Z" fill="#f20000" stroke="#c80000" stroke-width="0.6"/>
<text x="355" y="757.2" font-family='"Liberation Serif", serif' font-size="12" font-weight="bold" font-style="normal" fill="#4a4a4a" text-anchor="start" textLength="37.2" lengthAdjust="spacingAndGlyphs" >UFEM</text>
<path d="M411.8,749.95 L444.9,749.95 L444.9,746.5 L448.7,753.5 L444.9,760.5 L444.9,757.05 L411.8,757.05 Z" fill="#f20000" stroke="#c80000" stroke-width="0.6"/>
<text x="462.4" y="757" font-family='"Liberation Sans", sans-serif' font-size="13" font-weight="bold" font-style="normal" fill="#1a1a1a" text-anchor="start" textLength="117" lengthAdjust="spacingAndGlyphs" >(lon, lat, 99, period)</text>
<path d="M640.6,747.85 L696.0,747.85 L696.0,744.4 L699.8,751.4 L696.0,758.4 L696.0,754.9499999999999 L640.6,754.9499999999999 Z" fill="#f20000" stroke="#c80000" stroke-width="0.6"/>
<text x="776.6" y="757" font-family='"Liberation Serif", serif' font-size="12" font-weight="bold" font-style="normal" fill="#4a4a4a" text-anchor="start" textLength="24.7" lengthAdjust="spacingAndGlyphs" >SIM</text>
<path d="M820.6,747.85 L853.6,747.85 L853.6,744.4 L857.4,751.4 L853.6,758.4 L853.6,754.9499999999999 L820.6,754.9499999999999 Z" fill="#f20000" stroke="#c80000" stroke-width="0.6"/>
<text x="865" y="757" font-family='"Liberation Sans", sans-serif' font-size="13" font-weight="bold" font-style="normal" fill="#1a1a1a" text-anchor="start" textLength="86" lengthAdjust="spacingAndGlyphs" >(lon, lat, 99, 1)</text>
<path d="M984.4,748.95 L1038.7,748.95 L1038.7,745.5 L1042.5,752.5 L1038.7,759.5 L1038.7,756.05 L984.4,756.05 Z" fill="#f20000" stroke="#c80000" stroke-width="0.6"/>
<text x="1068" y="757" font-family='"Liberation Sans", sans-serif' font-size="13" font-weight="bold" font-style="normal" fill="#1a1a1a" text-anchor="start" textLength="85.5" lengthAdjust="spacingAndGlyphs" >(lon, lat, 99, 7)</text>
</svg></body></html>
